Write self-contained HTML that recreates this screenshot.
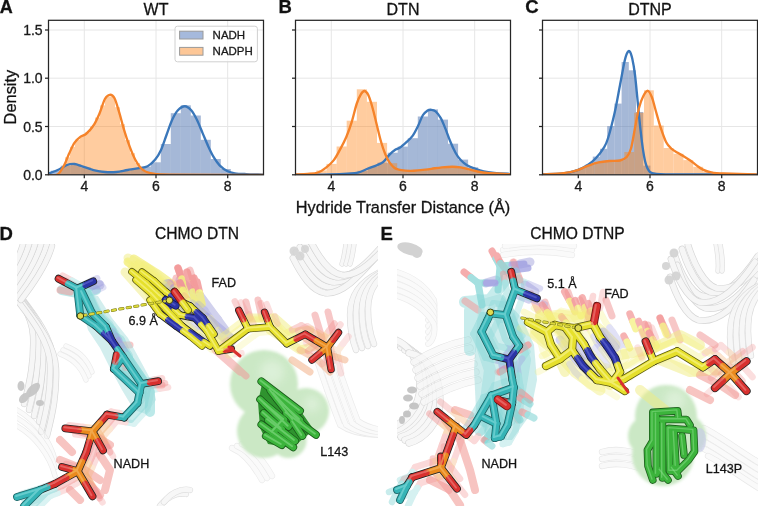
<!DOCTYPE html>
<html><head><meta charset="utf-8"><style>
html,body{margin:0;padding:0;background:#fff;}
body{width:758px;height:506px;overflow:hidden;}
svg{display:block;font-family:"Liberation Sans",sans-serif;will-change:transform;}
svg text{stroke:#1a1a1a;stroke-width:0.3px;}
</style></head><body>
<svg width="758" height="506" viewBox="0 0 758 506">
<defs><clipPath id="cp0"><rect x="48.5" y="20.3" width="215.0" height="154.5"/></clipPath><clipPath id="cp1"><rect x="295.5" y="20.3" width="215.0" height="154.5"/></clipPath><clipPath id="cp2"><rect x="542.5" y="20.3" width="215.0" height="154.5"/></clipPath><filter id="bl2" x="-20%" y="-20%" width="140%" height="140%"><feGaussianBlur stdDeviation="1.5"/></filter><filter id="bl4" x="-50%" y="-50%" width="200%" height="200%"><feGaussianBlur stdDeviation="4"/></filter><clipPath id="cpD"><rect x="17" y="244" width="361" height="262"/></clipPath><clipPath id="cpE"><rect x="397" y="244" width="361" height="262"/></clipPath><filter id="bl1"><feGaussianBlur stdDeviation="0.7"/></filter></defs><g stroke="#e6e6e6" stroke-width="1"><line x1="84.3" y1="20.3" x2="84.3" y2="174.8"/><line x1="156.0" y1="20.3" x2="156.0" y2="174.8"/><line x1="227.7" y1="20.3" x2="227.7" y2="174.8"/><line x1="48.5" y1="126.5" x2="263.5" y2="126.5"/><line x1="48.5" y1="78.2" x2="263.5" y2="78.2"/><line x1="48.5" y1="30.0" x2="263.5" y2="30.0"/></g><g stroke="#e6e6e6" stroke-width="1"><line x1="331.3" y1="20.3" x2="331.3" y2="174.8"/><line x1="403.0" y1="20.3" x2="403.0" y2="174.8"/><line x1="474.7" y1="20.3" x2="474.7" y2="174.8"/><line x1="295.5" y1="126.5" x2="510.5" y2="126.5"/><line x1="295.5" y1="78.2" x2="510.5" y2="78.2"/><line x1="295.5" y1="30.0" x2="510.5" y2="30.0"/></g><g stroke="#e6e6e6" stroke-width="1"><line x1="578.3" y1="20.3" x2="578.3" y2="174.8"/><line x1="650.0" y1="20.3" x2="650.0" y2="174.8"/><line x1="721.7" y1="20.3" x2="721.7" y2="174.8"/><line x1="542.5" y1="126.5" x2="757.5" y2="126.5"/><line x1="542.5" y1="78.2" x2="757.5" y2="78.2"/><line x1="542.5" y1="30.0" x2="757.5" y2="30.0"/></g><g clip-path="url(#cp0)"><g fill="rgba(76,114,176,0.5)"><rect x="50.8" y="170.7" width="10.0" height="4.1"/><rect x="60.8" y="165.7" width="10.0" height="9.1"/><rect x="70.8" y="164.4" width="10.0" height="10.4"/><rect x="80.8" y="167.5" width="10.0" height="7.3"/><rect x="90.8" y="170.5" width="10.0" height="4.3"/><rect x="100.8" y="172.0" width="10.0" height="2.8"/><rect x="110.8" y="172.0" width="10.0" height="2.8"/><rect x="120.8" y="170.3" width="10.0" height="4.5"/><rect x="130.8" y="168.7" width="10.0" height="6.1"/><rect x="140.8" y="166.7" width="10.0" height="8.1"/><rect x="150.8" y="162.3" width="10.0" height="12.5"/><rect x="160.8" y="144.0" width="10.0" height="30.8"/><rect x="170.8" y="113.2" width="10.0" height="61.6"/><rect x="180.8" y="105.3" width="10.0" height="69.5"/><rect x="190.8" y="115.5" width="10.0" height="59.3"/><rect x="200.8" y="139.8" width="10.0" height="35.0"/><rect x="210.8" y="159.0" width="10.0" height="15.8"/><rect x="220.8" y="169.0" width="10.0" height="5.8"/><rect x="230.8" y="173.4" width="10.0" height="1.4"/><rect x="240.8" y="174.1" width="10.0" height="0.7"/></g><g fill="rgba(255,127,14,0.4)"><rect x="60.0" y="167.6" width="5.0" height="7.2"/><rect x="65.0" y="157.3" width="5.0" height="17.5"/><rect x="70.0" y="146.8" width="5.0" height="28.0"/><rect x="75.0" y="139.7" width="5.0" height="35.1"/><rect x="80.0" y="135.8" width="5.0" height="39.0"/><rect x="85.0" y="132.3" width="5.0" height="42.5"/><rect x="90.0" y="126.6" width="5.0" height="48.2"/><rect x="95.0" y="117.6" width="5.0" height="57.2"/><rect x="100.0" y="105.4" width="5.0" height="69.4"/><rect x="105.0" y="96.7" width="5.0" height="78.1"/><rect x="110.0" y="96.7" width="5.0" height="78.1"/><rect x="115.0" y="107.2" width="5.0" height="67.6"/><rect x="120.0" y="124.2" width="5.0" height="50.6"/><rect x="125.0" y="140.1" width="5.0" height="34.7"/><rect x="130.0" y="153.2" width="5.0" height="21.6"/><rect x="135.0" y="163.0" width="5.0" height="11.8"/><rect x="140.0" y="169.2" width="5.0" height="5.6"/><rect x="145.0" y="172.2" width="5.0" height="2.6"/><rect x="150.0" y="173.3" width="5.0" height="1.5"/><rect x="155.0" y="173.9" width="5.0" height="0.9"/><rect x="160.0" y="174.2" width="5.0" height="0.6"/></g><path d="M48.5,173.6 C50.3,172.9 56.3,170.6 59.4,169.2 C62.5,167.8 64.5,165.9 67.0,165.0 C69.5,164.1 72.1,163.8 74.6,164.0 C77.1,164.2 79.0,165.3 82.2,166.3 C85.4,167.3 89.7,169.2 93.5,170.1 C97.3,171.0 101.1,171.7 104.9,172.0 C108.7,172.3 112.5,172.3 116.3,172.0 C120.1,171.7 123.9,170.6 127.7,170.0 C131.5,169.4 135.7,168.8 139.0,168.2 C142.3,167.6 144.9,167.7 147.6,166.3 C150.3,164.9 153.0,162.3 155.2,159.6 C157.4,156.9 159.0,154.3 160.9,150.2 C162.8,146.1 164.6,140.1 166.5,135.0 C168.4,129.9 170.3,123.9 172.2,119.8 C174.1,115.7 175.8,112.6 177.9,110.3 C180.0,108.0 182.7,106.2 184.9,106.2 C187.1,106.2 189.2,108.0 191.2,110.3 C193.2,112.6 195.0,116.0 196.9,119.8 C198.8,123.6 200.7,128.7 202.6,133.1 C204.5,137.5 206.4,142.3 208.3,146.4 C210.2,150.5 212.1,154.5 214.0,157.7 C215.9,160.8 217.4,163.1 219.6,165.3 C221.8,167.5 224.7,169.7 227.2,171.0 C229.7,172.3 231.6,172.8 234.8,173.3 C238.0,173.8 241.5,173.9 246.2,174.1 C250.9,174.3 260.2,174.5 263.0,174.6" fill="none" stroke="#3a77ba" stroke-width="2.35" stroke-linejoin="round" stroke-linecap="round"/><path d="M48.5,175.0 C50.0,174.9 54.9,176.2 57.5,174.6 C60.1,173.0 62.2,168.8 64.1,165.4 C66.0,162.0 67.2,157.8 68.9,154.0 C70.7,150.2 72.7,145.4 74.6,142.6 C76.5,139.8 78.4,138.3 80.3,136.9 C82.2,135.5 83.8,135.9 86.0,134.0 C88.2,132.1 91.3,128.8 93.5,125.5 C95.7,122.2 97.3,118.6 99.2,114.2 C101.1,109.8 103.2,102.2 104.9,99.0 C106.7,95.8 108.1,95.0 109.7,94.8 C111.3,94.6 112.8,95.1 114.4,98.0 C116.0,100.9 117.6,107.1 119.2,112.3 C120.8,117.5 122.2,123.6 123.9,129.3 C125.6,135.0 127.7,141.3 129.6,146.4 C131.5,151.5 133.4,156.1 135.3,159.7 C137.2,163.3 139.1,166.1 141.0,168.2 C142.9,170.2 144.4,171.1 146.7,172.0 C149.0,172.9 151.1,173.4 155.0,173.8 C158.9,174.2 152.0,174.4 170.0,174.6 C188.0,174.8 247.5,174.9 263.0,175.0" fill="none" stroke="#f5832a" stroke-width="2.35" stroke-linejoin="round" stroke-linecap="round"/></g><g clip-path="url(#cp1)"><g fill="rgba(76,114,176,0.5)"><rect x="337.4" y="173.9" width="10.1" height="0.9"/><rect x="347.5" y="173.2" width="10.1" height="1.6"/><rect x="357.5" y="170.8" width="10.1" height="4.0"/><rect x="367.6" y="166.9" width="10.1" height="7.9"/><rect x="377.6" y="162.6" width="10.1" height="12.2"/><rect x="387.7" y="152.7" width="10.1" height="22.1"/><rect x="397.7" y="146.6" width="10.1" height="28.2"/><rect x="407.8" y="138.2" width="10.1" height="36.6"/><rect x="417.8" y="116.5" width="10.1" height="58.3"/><rect x="427.9" y="109.4" width="10.1" height="65.4"/><rect x="437.9" y="119.6" width="10.1" height="55.2"/><rect x="448.0" y="143.7" width="10.1" height="31.1"/><rect x="458.0" y="159.6" width="10.1" height="15.2"/><rect x="468.1" y="167.3" width="10.1" height="7.5"/><rect x="478.1" y="171.3" width="10.1" height="3.5"/><rect x="488.2" y="172.9" width="10.1" height="1.9"/><rect x="498.2" y="173.5" width="10.1" height="1.3"/><rect x="508.3" y="173.8" width="10.1" height="1.0"/></g><g fill="rgba(255,127,14,0.4)"><rect x="306.3" y="173.4" width="10.1" height="1.4"/><rect x="316.4" y="170.4" width="10.1" height="4.4"/><rect x="326.5" y="163.9" width="10.1" height="10.9"/><rect x="336.6" y="146.5" width="10.1" height="28.3"/><rect x="346.7" y="120.7" width="10.1" height="54.1"/><rect x="356.8" y="89.3" width="10.1" height="85.5"/><rect x="366.9" y="101.8" width="10.1" height="73.0"/><rect x="377.0" y="142.9" width="10.1" height="31.9"/><rect x="387.1" y="163.2" width="10.1" height="11.6"/><rect x="397.2" y="170.1" width="10.1" height="4.7"/><rect x="407.3" y="170.8" width="10.1" height="4.0"/><rect x="417.4" y="169.9" width="10.1" height="4.9"/><rect x="427.5" y="168.6" width="10.1" height="6.2"/><rect x="437.6" y="167.3" width="10.1" height="7.5"/><rect x="447.7" y="166.7" width="10.1" height="8.1"/><rect x="457.8" y="167.8" width="10.1" height="7.0"/><rect x="467.9" y="170.4" width="10.1" height="4.4"/><rect x="478.0" y="172.3" width="10.1" height="2.5"/><rect x="488.1" y="173.3" width="10.1" height="1.5"/><rect x="498.2" y="173.8" width="10.1" height="1.0"/><rect x="508.3" y="174.2" width="10.1" height="0.6"/></g><path d="M295.5,174.6 C301.2,174.6 321.4,174.5 330.0,174.3 C338.6,174.2 342.8,174.0 347.4,173.7 C352.0,173.4 354.4,173.6 357.9,172.7 C361.4,171.8 365.2,169.7 368.3,168.5 C371.4,167.3 374.2,166.4 376.7,165.3 C379.1,164.2 380.9,163.9 383.0,162.2 C385.1,160.5 387.2,157.0 389.3,154.9 C391.4,152.8 393.8,150.8 395.6,149.6 C397.4,148.4 398.2,148.7 400.0,147.5 C401.8,146.3 404.2,144.1 406.3,142.2 C408.4,140.3 410.7,138.5 412.6,135.9 C414.5,133.3 416.1,130.0 417.8,126.5 C419.5,123.0 421.4,117.6 423.0,115.0 C424.6,112.4 425.8,111.7 427.2,110.8 C428.6,109.9 430.0,109.7 431.4,109.8 C432.8,109.9 434.0,110.0 435.6,111.4 C437.2,112.8 439.2,115.4 440.8,118.1 C442.4,120.8 443.4,123.8 445.0,127.6 C446.6,131.4 448.4,137.0 450.2,141.2 C451.9,145.4 453.8,149.6 455.5,152.7 C457.2,155.8 458.8,157.9 460.7,160.0 C462.6,162.1 464.6,163.7 467.0,165.2 C469.4,166.7 472.6,167.8 475.4,168.8 C478.2,169.9 480.6,170.8 483.7,171.5 C486.8,172.2 490.0,172.6 494.2,173.0 C498.4,173.4 506.4,173.7 508.9,173.8" fill="none" stroke="#3a77ba" stroke-width="2.35" stroke-linejoin="round" stroke-linecap="round"/><path d="M295.5,174.5 C297.5,174.4 303.9,174.2 307.6,173.9 C311.4,173.6 314.9,173.6 318.0,172.5 C321.1,171.4 323.8,169.5 326.4,167.4 C329.0,165.3 331.5,163.1 333.8,160.1 C336.1,157.1 337.9,153.4 340.0,149.6 C342.1,145.8 344.4,141.5 346.3,137.0 C348.2,132.5 349.9,128.0 351.6,122.4 C353.4,116.8 355.2,108.2 356.8,103.5 C358.4,98.8 359.7,96.2 361.0,94.1 C362.3,92.0 363.4,90.8 364.6,91.0 C365.8,91.2 367.0,92.3 368.3,95.1 C369.6,97.9 371.1,102.8 372.5,107.7 C373.9,112.6 375.3,118.9 376.7,124.5 C378.1,130.1 379.5,136.3 380.9,141.2 C382.3,146.1 383.7,150.3 385.1,153.8 C386.5,157.3 387.7,159.8 389.3,162.2 C390.9,164.6 392.8,166.7 394.5,168.0 C396.2,169.3 397.1,169.3 399.8,169.8 C402.5,170.3 407.0,170.9 410.5,170.9 C414.0,170.9 417.4,170.4 420.9,170.1 C424.4,169.8 427.9,169.3 431.4,168.8 C434.9,168.3 438.4,167.7 441.9,167.3 C445.4,167.0 449.2,166.7 452.3,166.7 C455.4,166.7 457.9,166.9 460.7,167.3 C463.5,167.8 466.3,168.7 469.1,169.4 C471.9,170.1 474.4,170.9 477.5,171.5 C480.6,172.1 483.4,172.6 487.9,173.0 C492.4,173.4 501.0,173.7 504.7,173.9 C508.4,174.1 509.1,174.1 510.0,174.2" fill="none" stroke="#f5832a" stroke-width="2.35" stroke-linejoin="round" stroke-linecap="round"/></g><g clip-path="url(#cp2)"><g fill="rgba(76,114,176,0.5)"><rect x="549.6" y="173.8" width="7.2" height="1.0"/><rect x="556.8" y="173.5" width="7.2" height="1.3"/><rect x="564.0" y="172.6" width="7.2" height="2.2"/><rect x="571.2" y="170.8" width="7.2" height="4.0"/><rect x="578.4" y="167.9" width="7.2" height="6.9"/><rect x="585.6" y="164.4" width="7.2" height="10.4"/><rect x="592.8" y="156.6" width="7.2" height="18.2"/><rect x="600.0" y="148.8" width="7.2" height="26.0"/><rect x="607.2" y="126.1" width="7.2" height="48.7"/><rect x="614.4" y="103.6" width="7.2" height="71.2"/><rect x="621.6" y="62.0" width="7.2" height="112.8"/><rect x="628.8" y="70.3" width="7.2" height="104.5"/><rect x="636.0" y="112.0" width="7.2" height="62.8"/><rect x="643.2" y="165.6" width="7.2" height="9.2"/><rect x="650.4" y="173.1" width="7.2" height="1.7"/><rect x="657.6" y="174.0" width="7.2" height="0.8"/><rect x="664.8" y="174.1" width="7.2" height="0.7"/></g><g fill="rgba(255,127,14,0.4)"><rect x="545.5" y="173.9" width="9.8" height="0.9"/><rect x="555.4" y="173.4" width="9.8" height="1.4"/><rect x="565.2" y="171.8" width="9.8" height="3.0"/><rect x="575.1" y="169.1" width="9.8" height="5.7"/><rect x="584.9" y="165.2" width="9.8" height="9.6"/><rect x="594.8" y="162.2" width="9.8" height="12.6"/><rect x="604.6" y="161.0" width="9.8" height="13.8"/><rect x="614.5" y="160.5" width="9.8" height="14.3"/><rect x="624.3" y="152.0" width="9.8" height="22.8"/><rect x="634.2" y="112.7" width="9.8" height="62.1"/><rect x="644.0" y="90.3" width="9.8" height="84.5"/><rect x="653.9" y="125.5" width="9.8" height="49.3"/><rect x="663.7" y="148.0" width="9.8" height="26.8"/><rect x="673.6" y="153.8" width="9.8" height="21.0"/><rect x="683.4" y="160.1" width="9.8" height="14.7"/><rect x="693.3" y="166.8" width="9.8" height="8.0"/><rect x="703.1" y="171.7" width="9.8" height="3.1"/><rect x="713.0" y="172.9" width="9.8" height="1.9"/><rect x="722.8" y="173.6" width="9.8" height="1.2"/><rect x="732.7" y="173.9" width="9.8" height="0.9"/><rect x="742.5" y="174.2" width="9.8" height="0.6"/></g><path d="M542.5,174.2 C546.0,174.1 557.8,174.0 563.5,173.4 C569.2,172.8 573.0,171.8 577.0,170.4 C581.0,169.0 584.6,167.1 587.7,165.1 C590.8,163.1 593.1,161.2 595.8,158.3 C598.5,155.4 601.8,151.0 603.9,147.6 C606.0,144.2 606.3,143.9 608.1,138.0 C609.9,132.1 612.8,121.0 614.8,112.0 C616.8,103.0 618.6,92.2 620.2,84.0 C621.8,75.8 623.1,68.1 624.2,63.0 C625.3,57.9 626.0,55.5 626.9,53.5 C627.8,51.5 628.7,50.4 629.6,51.3 C630.5,52.2 631.4,54.8 632.3,58.8 C633.2,62.8 634.1,67.8 635.0,75.0 C635.9,82.2 636.8,92.9 637.7,101.9 C638.6,110.9 639.5,120.8 640.4,128.9 C641.3,137.0 642.2,144.6 643.1,150.4 C644.0,156.2 644.7,160.3 645.8,163.9 C646.9,167.5 648.0,170.2 649.8,171.9 C651.6,173.6 651.5,173.4 656.5,173.8 C661.5,174.2 663.2,174.3 680.0,174.4 C696.8,174.5 744.2,174.6 757.0,174.6" fill="none" stroke="#3a77ba" stroke-width="2.35" stroke-linejoin="round" stroke-linecap="round"/><path d="M542.5,174.3 C546.0,174.1 557.8,173.8 563.5,173.2 C569.2,172.5 573.0,171.6 577.0,170.4 C581.0,169.2 584.1,167.2 587.7,165.9 C591.3,164.6 594.9,163.2 598.5,162.4 C602.1,161.6 605.6,161.3 609.2,161.0 C612.8,160.7 617.1,161.2 620.0,160.5 C622.9,159.8 624.9,159.0 626.7,157.0 C628.5,155.0 629.6,153.3 631.0,148.5 C632.4,143.7 633.7,134.8 635.0,128.0 C636.3,121.2 637.6,113.2 639.0,108.0 C640.4,102.8 641.6,99.4 643.1,96.5 C644.6,93.6 646.4,90.6 647.9,90.8 C649.4,91.0 650.7,94.2 652.0,97.5 C653.3,100.8 654.2,105.3 655.7,110.5 C657.2,115.7 659.2,123.4 661.0,128.7 C662.8,134.0 664.5,139.0 666.2,142.3 C667.9,145.6 669.5,146.8 671.4,148.6 C673.3,150.3 675.6,151.5 677.7,152.8 C679.8,154.1 681.9,155.1 684.0,156.4 C686.1,157.7 688.2,159.0 690.3,160.5 C692.4,162.0 694.5,163.9 696.6,165.4 C698.7,166.9 700.5,168.4 702.9,169.6 C705.3,170.8 707.8,171.7 711.3,172.3 C714.8,173.0 716.3,173.2 723.8,173.5 C731.2,173.8 750.6,174.2 756.0,174.4" fill="none" stroke="#f5832a" stroke-width="2.35" stroke-linejoin="round" stroke-linecap="round"/></g><rect x="48.5" y="20.3" width="215.0" height="154.5" fill="none" stroke="#262626" stroke-width="1.25"/><g stroke="#262626" stroke-width="1.25"><line x1="45.0" y1="174.8" x2="48.5" y2="174.8"/><line x1="45.0" y1="126.5" x2="48.5" y2="126.5"/><line x1="45.0" y1="78.2" x2="48.5" y2="78.2"/><line x1="45.0" y1="30.0" x2="48.5" y2="30.0"/><line x1="84.3" y1="174.8" x2="84.3" y2="178.3"/><line x1="156.0" y1="174.8" x2="156.0" y2="178.3"/><line x1="227.7" y1="174.8" x2="227.7" y2="178.3"/></g><g font-size="14" fill="#1a1a1a"><text x="84.3" y="191.1" text-anchor="middle">4</text><text x="156.0" y="191.1" text-anchor="middle">6</text><text x="227.7" y="191.1" text-anchor="middle">8</text><text x="42.6" y="179.9" text-anchor="end">0.0</text><text x="42.6" y="131.6" text-anchor="end">0.5</text><text x="42.6" y="83.3" text-anchor="end">1.0</text><text x="42.6" y="35.1" text-anchor="end">1.5</text></g><rect x="295.5" y="20.3" width="215.0" height="154.5" fill="none" stroke="#262626" stroke-width="1.25"/><g stroke="#262626" stroke-width="1.25"><line x1="292.0" y1="174.8" x2="295.5" y2="174.8"/><line x1="292.0" y1="126.5" x2="295.5" y2="126.5"/><line x1="292.0" y1="78.2" x2="295.5" y2="78.2"/><line x1="292.0" y1="30.0" x2="295.5" y2="30.0"/><line x1="331.3" y1="174.8" x2="331.3" y2="178.3"/><line x1="403.0" y1="174.8" x2="403.0" y2="178.3"/><line x1="474.7" y1="174.8" x2="474.7" y2="178.3"/></g><g font-size="14" fill="#1a1a1a"><text x="331.3" y="191.1" text-anchor="middle">4</text><text x="403.0" y="191.1" text-anchor="middle">6</text><text x="474.7" y="191.1" text-anchor="middle">8</text></g><rect x="542.5" y="20.3" width="215.0" height="154.5" fill="none" stroke="#262626" stroke-width="1.25"/><g stroke="#262626" stroke-width="1.25"><line x1="539.0" y1="174.8" x2="542.5" y2="174.8"/><line x1="539.0" y1="126.5" x2="542.5" y2="126.5"/><line x1="539.0" y1="78.2" x2="542.5" y2="78.2"/><line x1="539.0" y1="30.0" x2="542.5" y2="30.0"/><line x1="578.3" y1="174.8" x2="578.3" y2="178.3"/><line x1="650.0" y1="174.8" x2="650.0" y2="178.3"/><line x1="721.7" y1="174.8" x2="721.7" y2="178.3"/></g><g font-size="14" fill="#1a1a1a"><text x="578.3" y="191.1" text-anchor="middle">4</text><text x="650.0" y="191.1" text-anchor="middle">6</text><text x="721.7" y="191.1" text-anchor="middle">8</text></g><g>
<rect x="175" y="26.2" width="82.4" height="35.6" rx="2.5" fill="rgba(255,255,255,0.8)" stroke="#d0d0d0" stroke-width="1"/>
<rect x="179.6" y="31.2" width="23.4" height="7.8" fill="#a5b9dc" stroke="#9a9a9a" stroke-width="1"/>
<rect x="179.6" y="47.4" width="23.4" height="7.8" fill="#fdc797" stroke="#9a9a9a" stroke-width="1"/>
<text x="212.6" y="39.1" font-size="11.5" fill="#1a1a1a">NADH</text>
<text x="212.6" y="55.3" font-size="11.5" fill="#1a1a1a">NADPH</text>
</g><g fill="#111">
<text x="156" y="14.8" font-size="16" text-anchor="middle">WT</text>
<text x="403" y="14.8" font-size="16" text-anchor="middle">DTN</text>
<text x="650" y="14.8" font-size="16" text-anchor="middle">DTNP</text>
<text x="-0.3" y="12.9" font-size="18" font-weight="bold">A</text>
<text x="278.4" y="12.9" font-size="18.5" font-weight="bold">B</text>
<text x="525.2" y="12.9" font-size="18.5" font-weight="bold">C</text>
<text x="403" y="212.6" font-size="16.3" text-anchor="middle">Hydride Transfer Distance (Å)</text>
<text transform="translate(16.1,97.1) rotate(-90)" font-size="16.4" text-anchor="middle">Density</text>
</g><g><g clip-path="url(#cpD)"><g fill="none" stroke-linecap="round" opacity="1.00"><path transform="translate(0.0 0.0)" d="M17,292 C32,312 52,336 53,360 C54,385 50,405 44,428" stroke="#d6d6d6" stroke-width="6.3"/><path transform="translate(0.0 0.0)" d="M17,292 C32,312 52,336 53,360 C54,385 50,405 44,428" stroke="#f6f6f6" stroke-width="5.0"/><path transform="translate(-5.0 -6.0)" d="M17,292 C32,312 52,336 53,360 C54,385 50,405 44,428" stroke="#d6d6d6" stroke-width="6.3"/><path transform="translate(-5.0 -6.0)" d="M17,292 C32,312 52,336 53,360 C54,385 50,405 44,428" stroke="#f6f6f6" stroke-width="5.0"/><path transform="translate(-10.0 -12.0)" d="M17,292 C32,312 52,336 53,360 C54,385 50,405 44,428" stroke="#d6d6d6" stroke-width="6.3"/><path transform="translate(-10.0 -12.0)" d="M17,292 C32,312 52,336 53,360 C54,385 50,405 44,428" stroke="#f6f6f6" stroke-width="5.0"/><path transform="translate(-15.0 -18.0)" d="M17,292 C32,312 52,336 53,360 C54,385 50,405 44,428" stroke="#d6d6d6" stroke-width="6.3"/><path transform="translate(-15.0 -18.0)" d="M17,292 C32,312 52,336 53,360 C54,385 50,405 44,428" stroke="#f6f6f6" stroke-width="5.0"/><path transform="translate(-20.0 -24.0)" d="M17,292 C32,312 52,336 53,360 C54,385 50,405 44,428" stroke="#d6d6d6" stroke-width="6.3"/><path transform="translate(-20.0 -24.0)" d="M17,292 C32,312 52,336 53,360 C54,385 50,405 44,428" stroke="#f6f6f6" stroke-width="5.0"/><path transform="translate(3.0 8.0)" d="M17,292 C32,312 52,336 53,360 C54,385 50,405 44,428" stroke="#d6d6d6" stroke-width="6.3"/><path transform="translate(3.0 8.0)" d="M17,292 C32,312 52,336 53,360 C54,385 50,405 44,428" stroke="#f6f6f6" stroke-width="5.0"/><path transform="translate(-3.0 4.0)" d="M17,292 C32,312 52,336 53,360 C54,385 50,405 44,428" stroke="#d6d6d6" stroke-width="6.3"/><path transform="translate(-3.0 4.0)" d="M17,292 C32,312 52,336 53,360 C54,385 50,405 44,428" stroke="#f6f6f6" stroke-width="5.0"/></g><g fill="none" stroke-linecap="round" opacity="1.00"><path transform="translate(0.0 0.0)" d="M47,244 C42,262 30,280 16,298" stroke="#d6d6d6" stroke-width="6.3"/><path transform="translate(0.0 0.0)" d="M47,244 C42,262 30,280 16,298" stroke="#f6f6f6" stroke-width="5.0"/><path transform="translate(-6.0 0.0)" d="M47,244 C42,262 30,280 16,298" stroke="#d6d6d6" stroke-width="6.3"/><path transform="translate(-6.0 0.0)" d="M47,244 C42,262 30,280 16,298" stroke="#f6f6f6" stroke-width="5.0"/><path transform="translate(-12.0 0.0)" d="M47,244 C42,262 30,280 16,298" stroke="#d6d6d6" stroke-width="6.3"/><path transform="translate(-12.0 0.0)" d="M47,244 C42,262 30,280 16,298" stroke="#f6f6f6" stroke-width="5.0"/><path transform="translate(-18.0 0.0)" d="M47,244 C42,262 30,280 16,298" stroke="#d6d6d6" stroke-width="6.3"/><path transform="translate(-18.0 0.0)" d="M47,244 C42,262 30,280 16,298" stroke="#f6f6f6" stroke-width="5.0"/><path transform="translate(-24.0 0.0)" d="M47,244 C42,262 30,280 16,298" stroke="#d6d6d6" stroke-width="6.3"/><path transform="translate(-24.0 0.0)" d="M47,244 C42,262 30,280 16,298" stroke="#f6f6f6" stroke-width="5.0"/><path transform="translate(5.0 2.0)" d="M47,244 C42,262 30,280 16,298" stroke="#d6d6d6" stroke-width="6.3"/><path transform="translate(5.0 2.0)" d="M47,244 C42,262 30,280 16,298" stroke="#f6f6f6" stroke-width="5.0"/></g><g fill="none" stroke-linecap="round" opacity="0.50"><path transform="translate(0.0 0.0)" d="M66,346 C76,350 86,356 92,372" stroke="#d6d6d6" stroke-width="5.3"/><path transform="translate(0.0 0.0)" d="M66,346 C76,350 86,356 92,372" stroke="#f6f6f6" stroke-width="4.0"/><path transform="translate(-3.0 4.0)" d="M66,346 C76,350 86,356 92,372" stroke="#d6d6d6" stroke-width="5.3"/><path transform="translate(-3.0 4.0)" d="M66,346 C76,350 86,356 92,372" stroke="#f6f6f6" stroke-width="4.0"/><path transform="translate(-6.0 8.0)" d="M66,346 C76,350 86,356 92,372" stroke="#d6d6d6" stroke-width="5.3"/><path transform="translate(-6.0 8.0)" d="M66,346 C76,350 86,356 92,372" stroke="#f6f6f6" stroke-width="4.0"/></g><g fill="none" stroke-linecap="round" opacity="0.55"><path transform="translate(0.0 0.0)" d="M17,410 C35,420 50,440 55,460" stroke="#d6d6d6" stroke-width="5.3"/><path transform="translate(0.0 0.0)" d="M17,410 C35,420 50,440 55,460" stroke="#f6f6f6" stroke-width="4.0"/><path transform="translate(0.0 8.0)" d="M17,410 C35,420 50,440 55,460" stroke="#d6d6d6" stroke-width="5.3"/><path transform="translate(0.0 8.0)" d="M17,410 C35,420 50,440 55,460" stroke="#f6f6f6" stroke-width="4.0"/><path transform="translate(0.0 16.0)" d="M17,410 C35,420 50,440 55,460" stroke="#d6d6d6" stroke-width="5.3"/><path transform="translate(0.0 16.0)" d="M17,410 C35,420 50,440 55,460" stroke="#f6f6f6" stroke-width="4.0"/></g><g fill="none" stroke-linecap="round" opacity="1.00"><path transform="translate(0.0 0.0)" d="M296,252 C305,270 315,285 328,287 C345,289 362,270 378,252" stroke="#d6d6d6" stroke-width="6.8"/><path transform="translate(0.0 0.0)" d="M296,252 C305,270 315,285 328,287 C345,289 362,270 378,252" stroke="#f6f6f6" stroke-width="5.5"/><path transform="translate(4.0 -5.0)" d="M296,252 C305,270 315,285 328,287 C345,289 362,270 378,252" stroke="#d6d6d6" stroke-width="6.8"/><path transform="translate(4.0 -5.0)" d="M296,252 C305,270 315,285 328,287 C345,289 362,270 378,252" stroke="#f6f6f6" stroke-width="5.5"/><path transform="translate(8.0 -10.0)" d="M296,252 C305,270 315,285 328,287 C345,289 362,270 378,252" stroke="#d6d6d6" stroke-width="6.8"/><path transform="translate(8.0 -10.0)" d="M296,252 C305,270 315,285 328,287 C345,289 362,270 378,252" stroke="#f6f6f6" stroke-width="5.5"/><path transform="translate(-3.0 6.0)" d="M296,252 C305,270 315,285 328,287 C345,289 362,270 378,252" stroke="#d6d6d6" stroke-width="6.8"/><path transform="translate(-3.0 6.0)" d="M296,252 C305,270 315,285 328,287 C345,289 362,270 378,252" stroke="#f6f6f6" stroke-width="5.5"/><path transform="translate(14.0 -12.0)" d="M296,252 C305,270 315,285 328,287 C345,289 362,270 378,252" stroke="#d6d6d6" stroke-width="6.8"/><path transform="translate(14.0 -12.0)" d="M296,252 C305,270 315,285 328,287 C345,289 362,270 378,252" stroke="#f6f6f6" stroke-width="5.5"/></g><g fill="none" stroke-linecap="round" opacity="0.80"><path transform="translate(0.0 0.0)" d="M346,244 C345,252 344,258 342,264" stroke="#d6d6d6" stroke-width="5.3"/><path transform="translate(0.0 0.0)" d="M346,244 C345,252 344,258 342,264" stroke="#f6f6f6" stroke-width="4.0"/><path transform="translate(4.0 0.0)" d="M346,244 C345,252 344,258 342,264" stroke="#d6d6d6" stroke-width="5.3"/><path transform="translate(4.0 0.0)" d="M346,244 C345,252 344,258 342,264" stroke="#f6f6f6" stroke-width="4.0"/><path transform="translate(8.0 0.0)" d="M346,244 C345,252 344,258 342,264" stroke="#d6d6d6" stroke-width="5.3"/><path transform="translate(8.0 0.0)" d="M346,244 C345,252 344,258 342,264" stroke="#f6f6f6" stroke-width="4.0"/></g><g fill="none" stroke-linecap="round" opacity="0.85"><path transform="translate(0.0 0.0)" d="M380,272 C360,282 350,295 350,315 C350,330 352,340 356,350" stroke="#d6d6d6" stroke-width="6.3"/><path transform="translate(0.0 0.0)" d="M380,272 C360,282 350,295 350,315 C350,330 352,340 356,350" stroke="#f6f6f6" stroke-width="5.0"/><path transform="translate(6.0 -2.0)" d="M380,272 C360,282 350,295 350,315 C350,330 352,340 356,350" stroke="#d6d6d6" stroke-width="6.3"/><path transform="translate(6.0 -2.0)" d="M380,272 C360,282 350,295 350,315 C350,330 352,340 356,350" stroke="#f6f6f6" stroke-width="5.0"/><path transform="translate(12.0 -4.0)" d="M380,272 C360,282 350,295 350,315 C350,330 352,340 356,350" stroke="#d6d6d6" stroke-width="6.3"/><path transform="translate(12.0 -4.0)" d="M380,272 C360,282 350,295 350,315 C350,330 352,340 356,350" stroke="#f6f6f6" stroke-width="5.0"/><path transform="translate(18.0 -6.0)" d="M380,272 C360,282 350,295 350,315 C350,330 352,340 356,350" stroke="#d6d6d6" stroke-width="6.3"/><path transform="translate(18.0 -6.0)" d="M380,272 C360,282 350,295 350,315 C350,330 352,340 356,350" stroke="#f6f6f6" stroke-width="5.0"/></g><g fill="none" stroke-linecap="round" opacity="0.50"><path transform="translate(0.0 0.0)" d="M316,358 C322,375 330,400 340,425 C350,432 365,435 380,435" stroke="#d6d6d6" stroke-width="5.8"/><path transform="translate(0.0 0.0)" d="M316,358 C322,375 330,400 340,425 C350,432 365,435 380,435" stroke="#f6f6f6" stroke-width="4.5"/><path transform="translate(6.0 0.0)" d="M316,358 C322,375 330,400 340,425 C350,432 365,435 380,435" stroke="#d6d6d6" stroke-width="5.8"/><path transform="translate(6.0 0.0)" d="M316,358 C322,375 330,400 340,425 C350,432 365,435 380,435" stroke="#f6f6f6" stroke-width="4.5"/><path transform="translate(12.0 -2.0)" d="M316,358 C322,375 330,400 340,425 C350,432 365,435 380,435" stroke="#d6d6d6" stroke-width="5.8"/><path transform="translate(12.0 -2.0)" d="M316,358 C322,375 330,400 340,425 C350,432 365,435 380,435" stroke="#f6f6f6" stroke-width="4.5"/><path transform="translate(18.0 -4.0)" d="M316,358 C322,375 330,400 340,425 C350,432 365,435 380,435" stroke="#d6d6d6" stroke-width="5.8"/><path transform="translate(18.0 -4.0)" d="M316,358 C322,375 330,400 340,425 C350,432 365,435 380,435" stroke="#f6f6f6" stroke-width="4.5"/></g><g fill="none" stroke-linecap="round" opacity="0.50"><path transform="translate(0.0 0.0)" d="M232,448 C242,452 252,462 262,480" stroke="#d6d6d6" stroke-width="6.3"/><path transform="translate(0.0 0.0)" d="M232,448 C242,452 252,462 262,480" stroke="#f6f6f6" stroke-width="5.0"/><path transform="translate(5.0 -2.0)" d="M232,448 C242,452 252,462 262,480" stroke="#d6d6d6" stroke-width="6.3"/><path transform="translate(5.0 -2.0)" d="M232,448 C242,452 252,462 262,480" stroke="#f6f6f6" stroke-width="5.0"/><path transform="translate(10.0 -4.0)" d="M232,448 C242,452 252,462 262,480" stroke="#d6d6d6" stroke-width="6.3"/><path transform="translate(10.0 -4.0)" d="M232,448 C242,452 252,462 262,480" stroke="#f6f6f6" stroke-width="5.0"/></g><g fill="none" stroke-linecap="round" opacity="0.80"><path transform="translate(0.0 0.0)" d="M160,506 C166,498 176,492 186,494" stroke="#d6d6d6" stroke-width="6.3"/><path transform="translate(0.0 0.0)" d="M160,506 C166,498 176,492 186,494" stroke="#f6f6f6" stroke-width="5.0"/><path transform="translate(4.0 -4.0)" d="M160,506 C166,498 176,492 186,494" stroke="#d6d6d6" stroke-width="6.3"/><path transform="translate(4.0 -4.0)" d="M160,506 C166,498 176,492 186,494" stroke="#f6f6f6" stroke-width="5.0"/></g></g><g fill="#c4c4c4" opacity="0.9" filter="url(#bl1)"><ellipse cx="33" cy="390" rx="9" ry="4.5" transform="rotate(-45 33 390)"/><ellipse cx="24" cy="398" rx="6" ry="4" transform="rotate(-45 24 398)"/><ellipse cx="21" cy="386" rx="3.5" ry="5"/><ellipse cx="40" cy="403" rx="4" ry="3"/></g><g fill="#d4d4d4" opacity="0.9" filter="url(#bl1)"><circle cx="294" cy="251" r="4.5"/><circle cx="300" cy="256" r="4.5"/><circle cx="305" cy="249" r="4"/></g><g fill="#cbe8c5" filter="url(#bl2)"><circle cx="264" cy="384" r="34"/><circle cx="306" cy="411" r="23"/><circle cx="264" cy="431" r="27"/><circle cx="288.6" cy="440" r="18"/><circle cx="285" cy="410" r="22"/></g><g fill="#e0f2dd" opacity="0.8" filter="url(#bl4)"><circle cx="272" cy="372" r="12"/><circle cx="312" cy="404" r="8"/></g><g fill="none" stroke="#8fdada" stroke-width="10.0" stroke-linecap="round" stroke-linejoin="round" opacity="0.60"><polyline points="62.0,290.0 78.0,293.0 96.0,290.0"/><polyline points="86.0,300.0 96.0,322.0 116.0,338.0 128.0,356.0"/><polyline points="100.0,328.0 120.0,340.0 132.0,368.0 150.0,392.0 150.0,412.0"/><polyline points="84.0,296.0 90.0,318.0 106.0,332.0"/></g><g fill="none" stroke="#9a9ad8" stroke-width="9.0" stroke-linecap="round" stroke-linejoin="round" opacity="0.45"><polyline points="92.0,285.0 100.0,285.0"/><polyline points="110.0,332.0 118.0,340.0"/><polyline points="180.0,280.0 200.0,300.0 218.0,320.0"/><polyline points="200.0,296.0 225.0,330.0"/></g><g fill="none" stroke="#f19a9a" stroke-width="7.0" stroke-linecap="round" stroke-linejoin="round" opacity="0.55"><polyline points="60.0,290.0 70.0,292.0"/><polyline points="122.0,345.0 130.0,345.0"/><polyline points="150.0,385.0 162.0,385.0"/><polyline points="178.0,268.0 184.0,288.0"/><polyline points="190.0,270.0 196.0,290.0"/><polyline points="176.0,278.0 172.0,296.0"/><polyline points="246.0,302.0 250.0,318.0"/><polyline points="258.0,300.0 262.0,318.0"/><polyline points="315.0,315.0 322.0,338.0"/><polyline points="328.0,312.0 334.0,336.0"/><polyline points="215.0,350.0 240.0,372.0"/><polyline points="220.0,352.0 246.0,376.0"/></g><g fill="none" stroke="#f0ec80" stroke-width="9.0" stroke-linecap="round" stroke-linejoin="round" opacity="0.50"><polyline points="128.0,258.0 150.0,270.0 170.0,292.0"/><polyline points="132.0,268.0 160.0,290.0 180.0,310.0"/><polyline points="125.0,272.0 150.0,300.0 170.0,318.0"/><polyline points="250.0,318.0 275.0,318.0 292.0,333.0 310.0,330.0"/><polyline points="270.0,330.0 300.0,350.0 320.0,345.0"/></g><g fill="none" stroke="#f08a84" stroke-width="8.0" stroke-linecap="round" stroke-linejoin="round" opacity="0.50"><polyline points="75.0,430.0 95.0,436.0 110.0,445.0"/><polyline points="60.0,460.0 85.0,470.0 100.0,480.0"/><polyline points="85.0,480.0 100.0,495.0"/><polyline points="60.0,440.0 72.0,452.0"/><polyline points="100.0,455.0 110.0,470.0 105.0,490.0"/><polyline points="70.0,490.0 80.0,500.0"/></g><g fill="none" stroke="#f0a070" stroke-width="7.0" stroke-linecap="round" stroke-linejoin="round" opacity="0.45"><polyline points="300.0,350.0 318.0,360.0 330.0,372.0"/><polyline points="292.0,360.0 310.0,372.0"/><polyline points="305.0,338.0 330.0,355.0 345.0,360.0"/></g><polygon points="84,292 98,296 112,318 128,338 140,360 152,382 156,400 146,414 134,410 122,390 110,368 100,348 88,330 82,308" fill="#a6dede" opacity="0.5" filter="url(#bl1)"/><g stroke-linecap="round" opacity="0.45"><line x1="65.6" y1="280.7" x2="74.9" y2="285.6" stroke="#f29292" stroke-width="6.5"/><line x1="74.9" y1="285.6" x2="84.2" y2="290.6" stroke="#86d6d6" stroke-width="6.5"/><line x1="84.2" y1="290.6" x2="92.2" y2="287.0" stroke="#86d6d6" stroke-width="6.5"/><line x1="92.2" y1="287.0" x2="100.2" y2="283.3" stroke="#9c9ce0" stroke-width="6.5"/><line x1="84.2" y1="290.6" x2="87.2" y2="317.2" stroke="#86d6d6" stroke-width="6.5"/><line x1="87.2" y1="317.2" x2="103.0" y2="328.0" stroke="#86d6d6" stroke-width="6.5"/><line x1="103.0" y1="328.0" x2="111.0" y2="335.5" stroke="#86d6d6" stroke-width="6.5"/><line x1="111.0" y1="335.5" x2="119.0" y2="343.0" stroke="#9c9ce0" stroke-width="6.5"/><line x1="119.0" y1="343.0" x2="124.5" y2="351.0" stroke="#9c9ce0" stroke-width="6.5"/><line x1="124.5" y1="351.0" x2="130.0" y2="359.0" stroke="#86d6d6" stroke-width="6.5"/><line x1="130.0" y1="359.0" x2="121.0" y2="371.0" stroke="#86d6d6" stroke-width="6.5"/><line x1="121.0" y1="371.0" x2="146.4" y2="395.0" stroke="#86d6d6" stroke-width="6.5"/><line x1="146.4" y1="395.0" x2="144.4" y2="405.0" stroke="#86d6d6" stroke-width="6.5"/><line x1="144.4" y1="405.0" x2="131.0" y2="419.5" stroke="#86d6d6" stroke-width="6.5"/><line x1="131.0" y1="419.5" x2="122.5" y2="418.1" stroke="#86d6d6" stroke-width="6.5"/><line x1="122.5" y1="418.1" x2="114.1" y2="416.7" stroke="#f29292" stroke-width="6.5"/><line x1="114.1" y1="416.7" x2="106.8" y2="425.0" stroke="#f29292" stroke-width="6.5"/><line x1="106.8" y1="425.0" x2="99.5" y2="433.4" stroke="#f4b070" stroke-width="6.5"/><line x1="99.5" y1="433.4" x2="96.3" y2="443.9" stroke="#f4b070" stroke-width="6.5"/><line x1="96.3" y1="443.9" x2="93.2" y2="454.4" stroke="#f29292" stroke-width="6.5"/><line x1="93.2" y1="454.4" x2="89.0" y2="463.8" stroke="#f29292" stroke-width="6.5"/><line x1="89.0" y1="463.8" x2="84.8" y2="473.2" stroke="#f4b070" stroke-width="6.5"/><line x1="84.8" y1="473.2" x2="73.4" y2="479.5" stroke="#f4b070" stroke-width="6.5"/><line x1="73.4" y1="479.5" x2="62.0" y2="485.8" stroke="#f29292" stroke-width="6.5"/><line x1="62.0" y1="485.8" x2="54.5" y2="488.9" stroke="#f29292" stroke-width="6.5"/><line x1="54.5" y1="488.9" x2="47.0" y2="492.0" stroke="#86d6d6" stroke-width="6.5"/><line x1="47.0" y1="492.0" x2="24.0" y2="499.0" stroke="#86d6d6" stroke-width="6.5"/><line x1="89.0" y1="294.0" x2="99.0" y2="315.0" stroke="#86d6d6" stroke-width="6.5"/><line x1="99.0" y1="315.0" x2="113.0" y2="329.0" stroke="#86d6d6" stroke-width="6.5"/><line x1="113.0" y1="329.0" x2="116.0" y2="336.0" stroke="#86d6d6" stroke-width="6.5"/><line x1="116.0" y1="336.0" x2="119.0" y2="343.0" stroke="#9c9ce0" stroke-width="6.5"/><line x1="130.0" y1="359.0" x2="148.4" y2="386.0" stroke="#86d6d6" stroke-width="6.5"/><line x1="148.4" y1="386.0" x2="156.8" y2="384.6" stroke="#86d6d6" stroke-width="6.5"/><line x1="156.8" y1="384.6" x2="165.1" y2="383.2" stroke="#f29292" stroke-width="6.5"/><line x1="148.4" y1="386.0" x2="146.4" y2="395.0" stroke="#86d6d6" stroke-width="6.5"/><line x1="121.0" y1="371.0" x2="122.3" y2="363.8" stroke="#86d6d6" stroke-width="6.5"/><line x1="122.3" y1="363.8" x2="123.7" y2="356.6" stroke="#f29292" stroke-width="6.5"/><line x1="99.5" y1="433.4" x2="85.9" y2="431.9" stroke="#f4b070" stroke-width="6.5"/><line x1="85.9" y1="431.9" x2="72.3" y2="430.3" stroke="#f29292" stroke-width="6.5"/><line x1="99.5" y1="433.4" x2="104.8" y2="442.9" stroke="#f4b070" stroke-width="6.5"/><line x1="104.8" y1="442.9" x2="110.0" y2="452.3" stroke="#f29292" stroke-width="6.5"/><line x1="84.8" y1="473.2" x2="76.9" y2="471.1" stroke="#f4b070" stroke-width="6.5"/><line x1="76.9" y1="471.1" x2="69.0" y2="469.0" stroke="#f29292" stroke-width="6.5"/><line x1="84.8" y1="473.2" x2="92.2" y2="485.8" stroke="#f4b070" stroke-width="6.5"/><line x1="92.2" y1="485.8" x2="99.5" y2="498.3" stroke="#f29292" stroke-width="6.5"/><line x1="47.0" y1="492.0" x2="31.0" y2="508.0" stroke="#86d6d6" stroke-width="6.5"/></g><g stroke-linecap="round" opacity="0.35"><line x1="62.6" y1="275.7" x2="71.9" y2="280.6" stroke="#f29292" stroke-width="6.5"/><line x1="71.9" y1="280.6" x2="81.2" y2="285.6" stroke="#86d6d6" stroke-width="6.5"/><line x1="81.2" y1="285.6" x2="89.2" y2="282.0" stroke="#86d6d6" stroke-width="6.5"/><line x1="89.2" y1="282.0" x2="97.2" y2="278.3" stroke="#9c9ce0" stroke-width="6.5"/><line x1="81.2" y1="285.6" x2="84.2" y2="312.2" stroke="#86d6d6" stroke-width="6.5"/><line x1="84.2" y1="312.2" x2="100.0" y2="323.0" stroke="#86d6d6" stroke-width="6.5"/><line x1="100.0" y1="323.0" x2="108.0" y2="330.5" stroke="#86d6d6" stroke-width="6.5"/><line x1="108.0" y1="330.5" x2="116.0" y2="338.0" stroke="#9c9ce0" stroke-width="6.5"/><line x1="116.0" y1="338.0" x2="121.5" y2="346.0" stroke="#9c9ce0" stroke-width="6.5"/><line x1="121.5" y1="346.0" x2="127.0" y2="354.0" stroke="#86d6d6" stroke-width="6.5"/><line x1="127.0" y1="354.0" x2="118.0" y2="366.0" stroke="#86d6d6" stroke-width="6.5"/><line x1="118.0" y1="366.0" x2="143.4" y2="390.0" stroke="#86d6d6" stroke-width="6.5"/><line x1="143.4" y1="390.0" x2="141.4" y2="400.0" stroke="#86d6d6" stroke-width="6.5"/><line x1="141.4" y1="400.0" x2="128.0" y2="414.5" stroke="#86d6d6" stroke-width="6.5"/><line x1="128.0" y1="414.5" x2="119.5" y2="413.1" stroke="#86d6d6" stroke-width="6.5"/><line x1="119.5" y1="413.1" x2="111.1" y2="411.7" stroke="#f29292" stroke-width="6.5"/><line x1="111.1" y1="411.7" x2="103.8" y2="420.0" stroke="#f29292" stroke-width="6.5"/><line x1="103.8" y1="420.0" x2="96.5" y2="428.4" stroke="#f4b070" stroke-width="6.5"/><line x1="96.5" y1="428.4" x2="93.3" y2="438.9" stroke="#f4b070" stroke-width="6.5"/><line x1="93.3" y1="438.9" x2="90.2" y2="449.4" stroke="#f29292" stroke-width="6.5"/><line x1="90.2" y1="449.4" x2="86.0" y2="458.8" stroke="#f29292" stroke-width="6.5"/><line x1="86.0" y1="458.8" x2="81.8" y2="468.2" stroke="#f4b070" stroke-width="6.5"/><line x1="81.8" y1="468.2" x2="70.4" y2="474.5" stroke="#f4b070" stroke-width="6.5"/><line x1="70.4" y1="474.5" x2="59.0" y2="480.8" stroke="#f29292" stroke-width="6.5"/><line x1="59.0" y1="480.8" x2="51.5" y2="483.9" stroke="#f29292" stroke-width="6.5"/><line x1="51.5" y1="483.9" x2="44.0" y2="487.0" stroke="#86d6d6" stroke-width="6.5"/><line x1="44.0" y1="487.0" x2="21.0" y2="494.0" stroke="#86d6d6" stroke-width="6.5"/><line x1="86.0" y1="289.0" x2="96.0" y2="310.0" stroke="#86d6d6" stroke-width="6.5"/><line x1="96.0" y1="310.0" x2="110.0" y2="324.0" stroke="#86d6d6" stroke-width="6.5"/><line x1="110.0" y1="324.0" x2="113.0" y2="331.0" stroke="#86d6d6" stroke-width="6.5"/><line x1="113.0" y1="331.0" x2="116.0" y2="338.0" stroke="#9c9ce0" stroke-width="6.5"/><line x1="127.0" y1="354.0" x2="145.4" y2="381.0" stroke="#86d6d6" stroke-width="6.5"/><line x1="145.4" y1="381.0" x2="153.8" y2="379.6" stroke="#86d6d6" stroke-width="6.5"/><line x1="153.8" y1="379.6" x2="162.1" y2="378.2" stroke="#f29292" stroke-width="6.5"/><line x1="145.4" y1="381.0" x2="143.4" y2="390.0" stroke="#86d6d6" stroke-width="6.5"/><line x1="118.0" y1="366.0" x2="119.3" y2="358.8" stroke="#86d6d6" stroke-width="6.5"/><line x1="119.3" y1="358.8" x2="120.7" y2="351.6" stroke="#f29292" stroke-width="6.5"/><line x1="96.5" y1="428.4" x2="82.9" y2="426.9" stroke="#f4b070" stroke-width="6.5"/><line x1="82.9" y1="426.9" x2="69.3" y2="425.3" stroke="#f29292" stroke-width="6.5"/><line x1="96.5" y1="428.4" x2="101.8" y2="437.9" stroke="#f4b070" stroke-width="6.5"/><line x1="101.8" y1="437.9" x2="107.0" y2="447.3" stroke="#f29292" stroke-width="6.5"/><line x1="81.8" y1="468.2" x2="73.9" y2="466.1" stroke="#f4b070" stroke-width="6.5"/><line x1="73.9" y1="466.1" x2="66.0" y2="464.0" stroke="#f29292" stroke-width="6.5"/><line x1="81.8" y1="468.2" x2="89.2" y2="480.8" stroke="#f4b070" stroke-width="6.5"/><line x1="89.2" y1="480.8" x2="96.5" y2="493.3" stroke="#f29292" stroke-width="6.5"/><line x1="44.0" y1="487.0" x2="28.0" y2="503.0" stroke="#86d6d6" stroke-width="6.5"/></g><g stroke-linecap="round" opacity="0.30"><line x1="68.6" y1="284.7" x2="77.9" y2="289.6" stroke="#f29292" stroke-width="6.5"/><line x1="77.9" y1="289.6" x2="87.2" y2="294.6" stroke="#86d6d6" stroke-width="6.5"/><line x1="87.2" y1="294.6" x2="95.2" y2="291.0" stroke="#86d6d6" stroke-width="6.5"/><line x1="95.2" y1="291.0" x2="103.2" y2="287.3" stroke="#9c9ce0" stroke-width="6.5"/><line x1="87.2" y1="294.6" x2="90.2" y2="321.2" stroke="#86d6d6" stroke-width="6.5"/><line x1="90.2" y1="321.2" x2="106.0" y2="332.0" stroke="#86d6d6" stroke-width="6.5"/><line x1="106.0" y1="332.0" x2="114.0" y2="339.5" stroke="#86d6d6" stroke-width="6.5"/><line x1="114.0" y1="339.5" x2="122.0" y2="347.0" stroke="#9c9ce0" stroke-width="6.5"/><line x1="122.0" y1="347.0" x2="127.5" y2="355.0" stroke="#9c9ce0" stroke-width="6.5"/><line x1="127.5" y1="355.0" x2="133.0" y2="363.0" stroke="#86d6d6" stroke-width="6.5"/><line x1="133.0" y1="363.0" x2="124.0" y2="375.0" stroke="#86d6d6" stroke-width="6.5"/><line x1="124.0" y1="375.0" x2="149.4" y2="399.0" stroke="#86d6d6" stroke-width="6.5"/><line x1="149.4" y1="399.0" x2="147.4" y2="409.0" stroke="#86d6d6" stroke-width="6.5"/><line x1="147.4" y1="409.0" x2="134.0" y2="423.5" stroke="#86d6d6" stroke-width="6.5"/><line x1="134.0" y1="423.5" x2="125.5" y2="422.1" stroke="#86d6d6" stroke-width="6.5"/><line x1="125.5" y1="422.1" x2="117.1" y2="420.7" stroke="#f29292" stroke-width="6.5"/><line x1="117.1" y1="420.7" x2="109.8" y2="429.0" stroke="#f29292" stroke-width="6.5"/><line x1="109.8" y1="429.0" x2="102.5" y2="437.4" stroke="#f4b070" stroke-width="6.5"/><line x1="102.5" y1="437.4" x2="99.3" y2="447.9" stroke="#f4b070" stroke-width="6.5"/><line x1="99.3" y1="447.9" x2="96.2" y2="458.4" stroke="#f29292" stroke-width="6.5"/><line x1="96.2" y1="458.4" x2="92.0" y2="467.8" stroke="#f29292" stroke-width="6.5"/><line x1="92.0" y1="467.8" x2="87.8" y2="477.2" stroke="#f4b070" stroke-width="6.5"/><line x1="87.8" y1="477.2" x2="76.4" y2="483.5" stroke="#f4b070" stroke-width="6.5"/><line x1="76.4" y1="483.5" x2="65.0" y2="489.8" stroke="#f29292" stroke-width="6.5"/><line x1="65.0" y1="489.8" x2="57.5" y2="492.9" stroke="#f29292" stroke-width="6.5"/><line x1="57.5" y1="492.9" x2="50.0" y2="496.0" stroke="#86d6d6" stroke-width="6.5"/><line x1="50.0" y1="496.0" x2="27.0" y2="503.0" stroke="#86d6d6" stroke-width="6.5"/><line x1="92.0" y1="298.0" x2="102.0" y2="319.0" stroke="#86d6d6" stroke-width="6.5"/><line x1="102.0" y1="319.0" x2="116.0" y2="333.0" stroke="#86d6d6" stroke-width="6.5"/><line x1="116.0" y1="333.0" x2="119.0" y2="340.0" stroke="#86d6d6" stroke-width="6.5"/><line x1="119.0" y1="340.0" x2="122.0" y2="347.0" stroke="#9c9ce0" stroke-width="6.5"/><line x1="133.0" y1="363.0" x2="151.4" y2="390.0" stroke="#86d6d6" stroke-width="6.5"/><line x1="151.4" y1="390.0" x2="159.8" y2="388.6" stroke="#86d6d6" stroke-width="6.5"/><line x1="159.8" y1="388.6" x2="168.1" y2="387.2" stroke="#f29292" stroke-width="6.5"/><line x1="151.4" y1="390.0" x2="149.4" y2="399.0" stroke="#86d6d6" stroke-width="6.5"/><line x1="124.0" y1="375.0" x2="125.3" y2="367.8" stroke="#86d6d6" stroke-width="6.5"/><line x1="125.3" y1="367.8" x2="126.7" y2="360.6" stroke="#f29292" stroke-width="6.5"/><line x1="102.5" y1="437.4" x2="88.9" y2="435.9" stroke="#f4b070" stroke-width="6.5"/><line x1="88.9" y1="435.9" x2="75.3" y2="434.3" stroke="#f29292" stroke-width="6.5"/><line x1="102.5" y1="437.4" x2="107.8" y2="446.9" stroke="#f4b070" stroke-width="6.5"/><line x1="107.8" y1="446.9" x2="113.0" y2="456.3" stroke="#f29292" stroke-width="6.5"/><line x1="87.8" y1="477.2" x2="79.9" y2="475.1" stroke="#f4b070" stroke-width="6.5"/><line x1="79.9" y1="475.1" x2="72.0" y2="473.0" stroke="#f29292" stroke-width="6.5"/><line x1="87.8" y1="477.2" x2="95.2" y2="489.8" stroke="#f4b070" stroke-width="6.5"/><line x1="95.2" y1="489.8" x2="102.5" y2="502.3" stroke="#f29292" stroke-width="6.5"/><line x1="50.0" y1="496.0" x2="34.0" y2="512.0" stroke="#86d6d6" stroke-width="6.5"/></g><g stroke-linecap="round" fill="none"><line x1="58.6" y1="278.7" x2="77.2" y2="288.6" stroke="#222" stroke-width="7.8"/><line x1="77.2" y1="288.6" x2="93.2" y2="281.3" stroke="#222" stroke-width="7.8"/><line x1="77.2" y1="288.6" x2="80.2" y2="315.2" stroke="#1c6466" stroke-width="7.8"/><line x1="80.2" y1="315.2" x2="96.0" y2="326.0" stroke="#1c6466" stroke-width="7.8"/><line x1="96.0" y1="326.0" x2="112.0" y2="341.0" stroke="#222" stroke-width="7.8"/><line x1="112.0" y1="341.0" x2="123.0" y2="357.0" stroke="#222" stroke-width="7.8"/><line x1="123.0" y1="357.0" x2="114.0" y2="369.0" stroke="#1c6466" stroke-width="7.8"/><line x1="114.0" y1="369.0" x2="139.4" y2="393.0" stroke="#1c6466" stroke-width="7.8"/><line x1="139.4" y1="393.0" x2="137.4" y2="403.0" stroke="#1c6466" stroke-width="7.8"/><line x1="137.4" y1="403.0" x2="124.0" y2="417.5" stroke="#1c6466" stroke-width="7.8"/><line x1="124.0" y1="417.5" x2="107.1" y2="414.7" stroke="#222" stroke-width="7.8"/><line x1="107.1" y1="414.7" x2="92.5" y2="431.4" stroke="#222" stroke-width="7.8"/><line x1="92.5" y1="431.4" x2="86.2" y2="452.4" stroke="#222" stroke-width="7.8"/><line x1="86.2" y1="452.4" x2="77.8" y2="471.2" stroke="#222" stroke-width="7.8"/><line x1="77.8" y1="471.2" x2="55.0" y2="483.8" stroke="#222" stroke-width="7.8"/><line x1="55.0" y1="483.8" x2="40.0" y2="490.0" stroke="#222" stroke-width="7.8"/><line x1="40.0" y1="490.0" x2="17.0" y2="497.0" stroke="#1c6466" stroke-width="7.8"/><line x1="82.0" y1="292.0" x2="92.0" y2="313.0" stroke="#1c6466" stroke-width="7.8"/><line x1="92.0" y1="313.0" x2="106.0" y2="327.0" stroke="#1c6466" stroke-width="7.8"/><line x1="106.0" y1="327.0" x2="112.0" y2="341.0" stroke="#222" stroke-width="7.8"/><line x1="123.0" y1="357.0" x2="141.4" y2="384.0" stroke="#1c6466" stroke-width="7.8"/><line x1="141.4" y1="384.0" x2="158.1" y2="381.2" stroke="#222" stroke-width="7.8"/><line x1="141.4" y1="384.0" x2="139.4" y2="393.0" stroke="#1c6466" stroke-width="7.8"/><line x1="114.0" y1="369.0" x2="116.7" y2="354.6" stroke="#222" stroke-width="7.8"/><line x1="92.5" y1="431.4" x2="65.3" y2="428.3" stroke="#222" stroke-width="7.8"/><line x1="92.5" y1="431.4" x2="103.0" y2="450.3" stroke="#222" stroke-width="7.8"/><line x1="77.8" y1="471.2" x2="62.0" y2="467.0" stroke="#222" stroke-width="7.8"/><line x1="77.8" y1="471.2" x2="92.5" y2="496.3" stroke="#222" stroke-width="7.8"/><line x1="40.0" y1="490.0" x2="24.0" y2="506.0" stroke="#1c6466" stroke-width="7.8"/><line x1="58.6" y1="278.7" x2="67.9" y2="283.6" stroke="#d8302e" stroke-width="6.2"/><line x1="67.9" y1="283.6" x2="77.2" y2="288.6" stroke="#35b4b6" stroke-width="6.2"/><line x1="77.2" y1="288.6" x2="85.2" y2="285.0" stroke="#35b4b6" stroke-width="6.2"/><line x1="85.2" y1="285.0" x2="93.2" y2="281.3" stroke="#2b33a6" stroke-width="6.2"/><line x1="77.2" y1="288.6" x2="80.2" y2="315.2" stroke="#35b4b6" stroke-width="6.2"/><line x1="80.2" y1="315.2" x2="96.0" y2="326.0" stroke="#35b4b6" stroke-width="6.2"/><line x1="96.0" y1="326.0" x2="104.0" y2="333.5" stroke="#35b4b6" stroke-width="6.2"/><line x1="104.0" y1="333.5" x2="112.0" y2="341.0" stroke="#2b33a6" stroke-width="6.2"/><line x1="112.0" y1="341.0" x2="117.5" y2="349.0" stroke="#2b33a6" stroke-width="6.2"/><line x1="117.5" y1="349.0" x2="123.0" y2="357.0" stroke="#35b4b6" stroke-width="6.2"/><line x1="123.0" y1="357.0" x2="114.0" y2="369.0" stroke="#35b4b6" stroke-width="6.2"/><line x1="114.0" y1="369.0" x2="139.4" y2="393.0" stroke="#35b4b6" stroke-width="6.2"/><line x1="139.4" y1="393.0" x2="137.4" y2="403.0" stroke="#35b4b6" stroke-width="6.2"/><line x1="137.4" y1="403.0" x2="124.0" y2="417.5" stroke="#35b4b6" stroke-width="6.2"/><line x1="124.0" y1="417.5" x2="115.5" y2="416.1" stroke="#35b4b6" stroke-width="6.2"/><line x1="115.5" y1="416.1" x2="107.1" y2="414.7" stroke="#d8302e" stroke-width="6.2"/><line x1="107.1" y1="414.7" x2="99.8" y2="423.0" stroke="#d8302e" stroke-width="6.2"/><line x1="99.8" y1="423.0" x2="92.5" y2="431.4" stroke="#ea8a1e" stroke-width="6.2"/><line x1="92.5" y1="431.4" x2="89.3" y2="441.9" stroke="#ea8a1e" stroke-width="6.2"/><line x1="89.3" y1="441.9" x2="86.2" y2="452.4" stroke="#d8302e" stroke-width="6.2"/><line x1="86.2" y1="452.4" x2="82.0" y2="461.8" stroke="#d8302e" stroke-width="6.2"/><line x1="82.0" y1="461.8" x2="77.8" y2="471.2" stroke="#ea8a1e" stroke-width="6.2"/><line x1="77.8" y1="471.2" x2="66.4" y2="477.5" stroke="#ea8a1e" stroke-width="6.2"/><line x1="66.4" y1="477.5" x2="55.0" y2="483.8" stroke="#d8302e" stroke-width="6.2"/><line x1="55.0" y1="483.8" x2="47.5" y2="486.9" stroke="#d8302e" stroke-width="6.2"/><line x1="47.5" y1="486.9" x2="40.0" y2="490.0" stroke="#35b4b6" stroke-width="6.2"/><line x1="40.0" y1="490.0" x2="17.0" y2="497.0" stroke="#35b4b6" stroke-width="6.2"/><line x1="82.0" y1="292.0" x2="92.0" y2="313.0" stroke="#35b4b6" stroke-width="6.2"/><line x1="92.0" y1="313.0" x2="106.0" y2="327.0" stroke="#35b4b6" stroke-width="6.2"/><line x1="106.0" y1="327.0" x2="109.0" y2="334.0" stroke="#35b4b6" stroke-width="6.2"/><line x1="109.0" y1="334.0" x2="112.0" y2="341.0" stroke="#2b33a6" stroke-width="6.2"/><line x1="123.0" y1="357.0" x2="141.4" y2="384.0" stroke="#35b4b6" stroke-width="6.2"/><line x1="141.4" y1="384.0" x2="149.8" y2="382.6" stroke="#35b4b6" stroke-width="6.2"/><line x1="149.8" y1="382.6" x2="158.1" y2="381.2" stroke="#d8302e" stroke-width="6.2"/><line x1="141.4" y1="384.0" x2="139.4" y2="393.0" stroke="#35b4b6" stroke-width="6.2"/><line x1="114.0" y1="369.0" x2="115.3" y2="361.8" stroke="#35b4b6" stroke-width="6.2"/><line x1="115.3" y1="361.8" x2="116.7" y2="354.6" stroke="#d8302e" stroke-width="6.2"/><line x1="92.5" y1="431.4" x2="78.9" y2="429.9" stroke="#ea8a1e" stroke-width="6.2"/><line x1="78.9" y1="429.9" x2="65.3" y2="428.3" stroke="#d8302e" stroke-width="6.2"/><line x1="92.5" y1="431.4" x2="97.8" y2="440.9" stroke="#ea8a1e" stroke-width="6.2"/><line x1="97.8" y1="440.9" x2="103.0" y2="450.3" stroke="#d8302e" stroke-width="6.2"/><line x1="77.8" y1="471.2" x2="69.9" y2="469.1" stroke="#ea8a1e" stroke-width="6.2"/><line x1="69.9" y1="469.1" x2="62.0" y2="467.0" stroke="#d8302e" stroke-width="6.2"/><line x1="77.8" y1="471.2" x2="85.2" y2="483.8" stroke="#ea8a1e" stroke-width="6.2"/><line x1="85.2" y1="483.8" x2="92.5" y2="496.3" stroke="#d8302e" stroke-width="6.2"/><line x1="40.0" y1="490.0" x2="24.0" y2="506.0" stroke="#35b4b6" stroke-width="6.2"/><g opacity="0.55"><line x1="57.6" y1="277.7" x2="66.9" y2="282.7" stroke="#f08a88" stroke-width="1.9"/><line x1="66.9" y1="282.7" x2="76.2" y2="287.6" stroke="#8ee0e0" stroke-width="1.9"/><line x1="76.2" y1="287.6" x2="84.2" y2="284.0" stroke="#8ee0e0" stroke-width="1.9"/><line x1="84.2" y1="284.0" x2="92.2" y2="280.3" stroke="#6a70d8" stroke-width="1.9"/><line x1="76.2" y1="287.6" x2="79.2" y2="314.2" stroke="#8ee0e0" stroke-width="1.9"/><line x1="79.2" y1="314.2" x2="95.0" y2="325.0" stroke="#8ee0e0" stroke-width="1.9"/><line x1="95.0" y1="325.0" x2="103.0" y2="332.5" stroke="#8ee0e0" stroke-width="1.9"/><line x1="103.0" y1="332.5" x2="111.0" y2="340.0" stroke="#6a70d8" stroke-width="1.9"/><line x1="111.0" y1="340.0" x2="116.5" y2="348.0" stroke="#6a70d8" stroke-width="1.9"/><line x1="116.5" y1="348.0" x2="122.0" y2="356.0" stroke="#8ee0e0" stroke-width="1.9"/><line x1="122.0" y1="356.0" x2="113.0" y2="368.0" stroke="#8ee0e0" stroke-width="1.9"/><line x1="113.0" y1="368.0" x2="138.4" y2="392.0" stroke="#8ee0e0" stroke-width="1.9"/><line x1="138.4" y1="392.0" x2="136.4" y2="402.0" stroke="#8ee0e0" stroke-width="1.9"/><line x1="136.4" y1="402.0" x2="123.0" y2="416.5" stroke="#8ee0e0" stroke-width="1.9"/><line x1="123.0" y1="416.5" x2="114.6" y2="415.1" stroke="#8ee0e0" stroke-width="1.9"/><line x1="114.6" y1="415.1" x2="106.1" y2="413.7" stroke="#f08a88" stroke-width="1.9"/><line x1="106.1" y1="413.7" x2="98.8" y2="422.1" stroke="#f08a88" stroke-width="1.9"/><line x1="98.8" y1="422.1" x2="91.5" y2="430.4" stroke="#f8c070" stroke-width="1.9"/><line x1="91.5" y1="430.4" x2="88.4" y2="440.9" stroke="#f8c070" stroke-width="1.9"/><line x1="88.4" y1="440.9" x2="85.2" y2="451.4" stroke="#f08a88" stroke-width="1.9"/><line x1="85.2" y1="451.4" x2="81.0" y2="460.8" stroke="#f08a88" stroke-width="1.9"/><line x1="81.0" y1="460.8" x2="76.8" y2="470.2" stroke="#f8c070" stroke-width="1.9"/><line x1="76.8" y1="470.2" x2="65.4" y2="476.5" stroke="#f8c070" stroke-width="1.9"/><line x1="65.4" y1="476.5" x2="54.0" y2="482.8" stroke="#f08a88" stroke-width="1.9"/><line x1="54.0" y1="482.8" x2="46.5" y2="485.9" stroke="#f08a88" stroke-width="1.9"/><line x1="46.5" y1="485.9" x2="39.0" y2="489.0" stroke="#8ee0e0" stroke-width="1.9"/><line x1="39.0" y1="489.0" x2="16.0" y2="496.0" stroke="#8ee0e0" stroke-width="1.9"/><line x1="81.0" y1="291.0" x2="91.0" y2="312.0" stroke="#8ee0e0" stroke-width="1.9"/><line x1="91.0" y1="312.0" x2="105.0" y2="326.0" stroke="#8ee0e0" stroke-width="1.9"/><line x1="105.0" y1="326.0" x2="108.0" y2="333.0" stroke="#8ee0e0" stroke-width="1.9"/><line x1="108.0" y1="333.0" x2="111.0" y2="340.0" stroke="#6a70d8" stroke-width="1.9"/><line x1="122.0" y1="356.0" x2="140.4" y2="383.0" stroke="#8ee0e0" stroke-width="1.9"/><line x1="140.4" y1="383.0" x2="148.8" y2="381.6" stroke="#8ee0e0" stroke-width="1.9"/><line x1="148.8" y1="381.6" x2="157.1" y2="380.2" stroke="#f08a88" stroke-width="1.9"/><line x1="140.4" y1="383.0" x2="138.4" y2="392.0" stroke="#8ee0e0" stroke-width="1.9"/><line x1="113.0" y1="368.0" x2="114.4" y2="360.8" stroke="#8ee0e0" stroke-width="1.9"/><line x1="114.4" y1="360.8" x2="115.7" y2="353.6" stroke="#f08a88" stroke-width="1.9"/><line x1="91.5" y1="430.4" x2="77.9" y2="428.9" stroke="#f8c070" stroke-width="1.9"/><line x1="77.9" y1="428.9" x2="64.3" y2="427.3" stroke="#f08a88" stroke-width="1.9"/><line x1="91.5" y1="430.4" x2="96.8" y2="439.9" stroke="#f8c070" stroke-width="1.9"/><line x1="96.8" y1="439.9" x2="102.0" y2="449.3" stroke="#f08a88" stroke-width="1.9"/><line x1="76.8" y1="470.2" x2="68.9" y2="468.1" stroke="#f8c070" stroke-width="1.9"/><line x1="68.9" y1="468.1" x2="61.0" y2="466.0" stroke="#f08a88" stroke-width="1.9"/><line x1="76.8" y1="470.2" x2="84.2" y2="482.8" stroke="#f8c070" stroke-width="1.9"/><line x1="84.2" y1="482.8" x2="91.5" y2="495.3" stroke="#f08a88" stroke-width="1.9"/><line x1="39.0" y1="489.0" x2="23.0" y2="505.0" stroke="#8ee0e0" stroke-width="1.9"/></g></g><g fill="none" stroke="#a4a4e2" stroke-width="13.0" stroke-linecap="round" stroke-linejoin="round" opacity="0.55"><polyline points="165.0,286.0 190.0,305.0 212.0,325.0 230.0,340.0"/></g><g fill="none" stroke="#f3ee80" stroke-width="9.0" stroke-linecap="round" stroke-linejoin="round" opacity="0.75"><polyline points="128.0,262.0 150.0,276.0 172.0,292.0"/><polyline points="134.0,259.0 156.0,273.0 178.0,289.0"/></g><circle cx="168" cy="285" r="6" fill="#a4a4e2" opacity="0.7"/><g stroke-linecap="round" opacity="0.80"><line x1="178.0" y1="268.0" x2="182.0" y2="279.0" stroke="#f29292" stroke-width="7.5"/><line x1="182.0" y1="279.0" x2="186.0" y2="290.0" stroke="#f4f078" stroke-width="7.5"/><line x1="187.0" y1="272.0" x2="190.5" y2="284.0" stroke="#f29292" stroke-width="7.5"/><line x1="190.5" y1="284.0" x2="194.0" y2="296.0" stroke="#f4f078" stroke-width="7.5"/><line x1="194.0" y1="278.0" x2="197.0" y2="289.0" stroke="#f29292" stroke-width="7.5"/><line x1="197.0" y1="289.0" x2="200.0" y2="300.0" stroke="#f4f078" stroke-width="7.5"/><line x1="180.0" y1="283.0" x2="183.0" y2="290.5" stroke="#f29292" stroke-width="7.5"/><line x1="183.0" y1="290.5" x2="186.0" y2="298.0" stroke="#f4f078" stroke-width="7.5"/><line x1="190.0" y1="284.0" x2="193.0" y2="292.0" stroke="#f29292" stroke-width="7.5"/><line x1="193.0" y1="292.0" x2="196.0" y2="300.0" stroke="#f4f078" stroke-width="7.5"/><line x1="197.0" y1="282.0" x2="199.5" y2="293.0" stroke="#f29292" stroke-width="7.5"/><line x1="199.5" y1="293.0" x2="202.0" y2="304.0" stroke="#f4f078" stroke-width="7.5"/></g><g stroke-linecap="round" opacity="0.40"><line x1="127.9" y1="262.7" x2="142.0" y2="274.0" stroke="#f4f078" stroke-width="6.5"/><line x1="142.0" y1="274.0" x2="156.0" y2="287.0" stroke="#f4f078" stroke-width="6.5"/><line x1="156.0" y1="287.0" x2="160.5" y2="291.0" stroke="#f4f078" stroke-width="6.5"/><line x1="160.5" y1="291.0" x2="165.0" y2="295.0" stroke="#9c9ce0" stroke-width="6.5"/><line x1="165.0" y1="295.0" x2="170.5" y2="300.5" stroke="#9c9ce0" stroke-width="6.5"/><line x1="170.5" y1="300.5" x2="176.0" y2="306.0" stroke="#f4f078" stroke-width="6.5"/><line x1="176.0" y1="306.0" x2="183.5" y2="307.5" stroke="#f4f078" stroke-width="6.5"/><line x1="183.5" y1="307.5" x2="191.0" y2="309.0" stroke="#9c9ce0" stroke-width="6.5"/><line x1="191.0" y1="309.0" x2="197.0" y2="315.5" stroke="#9c9ce0" stroke-width="6.5"/><line x1="197.0" y1="315.5" x2="203.0" y2="322.0" stroke="#f4f078" stroke-width="6.5"/><line x1="203.0" y1="322.0" x2="214.5" y2="342.0" stroke="#f4f078" stroke-width="6.5"/><line x1="132.0" y1="271.0" x2="148.0" y2="285.0" stroke="#f4f078" stroke-width="6.5"/><line x1="148.0" y1="285.0" x2="162.0" y2="300.0" stroke="#f4f078" stroke-width="6.5"/><line x1="162.0" y1="300.0" x2="178.0" y2="317.0" stroke="#f4f078" stroke-width="6.5"/><line x1="178.0" y1="317.0" x2="186.0" y2="323.0" stroke="#f4f078" stroke-width="6.5"/><line x1="186.0" y1="323.0" x2="194.0" y2="329.0" stroke="#9c9ce0" stroke-width="6.5"/><line x1="194.0" y1="329.0" x2="200.0" y2="333.0" stroke="#9c9ce0" stroke-width="6.5"/><line x1="200.0" y1="333.0" x2="206.0" y2="337.0" stroke="#f4f078" stroke-width="6.5"/><line x1="138.0" y1="263.0" x2="150.0" y2="272.0" stroke="#f4f078" stroke-width="6.5"/><line x1="150.0" y1="272.0" x2="162.0" y2="283.0" stroke="#f4f078" stroke-width="6.5"/><line x1="162.0" y1="283.0" x2="167.0" y2="286.5" stroke="#f4f078" stroke-width="6.5"/><line x1="167.0" y1="286.5" x2="172.0" y2="290.0" stroke="#9c9ce0" stroke-width="6.5"/><line x1="172.0" y1="290.0" x2="179.0" y2="293.5" stroke="#9c9ce0" stroke-width="6.5"/><line x1="179.0" y1="293.5" x2="186.0" y2="297.0" stroke="#f4f078" stroke-width="6.5"/><line x1="186.0" y1="297.0" x2="192.5" y2="303.0" stroke="#f4f078" stroke-width="6.5"/><line x1="192.5" y1="303.0" x2="199.0" y2="309.0" stroke="#9c9ce0" stroke-width="6.5"/><line x1="199.0" y1="309.0" x2="204.5" y2="317.0" stroke="#9c9ce0" stroke-width="6.5"/><line x1="204.5" y1="317.0" x2="210.0" y2="325.0" stroke="#f4f078" stroke-width="6.5"/><line x1="146.0" y1="291.0" x2="156.0" y2="305.0" stroke="#f4f078" stroke-width="6.5"/><line x1="156.0" y1="305.0" x2="164.0" y2="311.0" stroke="#f4f078" stroke-width="6.5"/><line x1="164.0" y1="311.0" x2="172.0" y2="317.0" stroke="#9c9ce0" stroke-width="6.5"/><line x1="172.0" y1="317.0" x2="179.0" y2="322.0" stroke="#9c9ce0" stroke-width="6.5"/><line x1="179.0" y1="322.0" x2="186.0" y2="327.0" stroke="#f4f078" stroke-width="6.5"/><line x1="186.0" y1="327.0" x2="198.0" y2="337.0" stroke="#f4f078" stroke-width="6.5"/><line x1="170.4" y1="282.5" x2="174.9" y2="288.4" stroke="#f29292" stroke-width="6.5"/><line x1="174.9" y1="288.4" x2="179.3" y2="294.3" stroke="#f4f078" stroke-width="6.5"/><line x1="214.5" y1="342.0" x2="220.9" y2="341.1" stroke="#f4f078" stroke-width="6.5"/><line x1="220.9" y1="341.1" x2="227.4" y2="340.1" stroke="#f29292" stroke-width="6.5"/><line x1="214.5" y1="342.0" x2="244.0" y2="319.8" stroke="#f4f078" stroke-width="6.5"/><line x1="244.0" y1="319.8" x2="266.2" y2="318.0" stroke="#f4f078" stroke-width="6.5"/><line x1="266.2" y1="318.0" x2="282.8" y2="334.6" stroke="#f4f078" stroke-width="6.5"/><line x1="282.8" y1="334.6" x2="292.1" y2="330.0" stroke="#f4f078" stroke-width="6.5"/><line x1="292.1" y1="330.0" x2="301.3" y2="325.3" stroke="#f29292" stroke-width="6.5"/><line x1="301.3" y1="325.3" x2="312.4" y2="331.8" stroke="#f29292" stroke-width="6.5"/><line x1="312.4" y1="331.8" x2="323.4" y2="338.3" stroke="#f4b070" stroke-width="6.5"/><line x1="323.4" y1="338.3" x2="328.9" y2="330.9" stroke="#f4b070" stroke-width="6.5"/><line x1="328.9" y1="330.9" x2="334.5" y2="323.5" stroke="#f29292" stroke-width="6.5"/><line x1="244.0" y1="319.8" x2="239.4" y2="310.6" stroke="#f4f078" stroke-width="6.5"/><line x1="239.4" y1="310.6" x2="234.8" y2="301.3" stroke="#f29292" stroke-width="6.5"/><line x1="266.2" y1="318.0" x2="263.4" y2="310.6" stroke="#f4f078" stroke-width="6.5"/><line x1="263.4" y1="310.6" x2="260.6" y2="303.2" stroke="#f29292" stroke-width="6.5"/><line x1="323.4" y1="338.3" x2="325.2" y2="349.4" stroke="#f4b070" stroke-width="6.5"/><line x1="325.2" y1="349.4" x2="327.1" y2="360.4" stroke="#f29292" stroke-width="6.5"/><line x1="323.4" y1="338.3" x2="315.7" y2="344.6" stroke="#f4b070" stroke-width="6.5"/><line x1="315.7" y1="344.6" x2="308.0" y2="351.0" stroke="#f29292" stroke-width="6.5"/></g><g stroke-linecap="round" opacity="0.30"><line x1="133.9" y1="263.7" x2="148.0" y2="275.0" stroke="#f4f078" stroke-width="6.5"/><line x1="148.0" y1="275.0" x2="162.0" y2="288.0" stroke="#f4f078" stroke-width="6.5"/><line x1="162.0" y1="288.0" x2="166.5" y2="292.0" stroke="#f4f078" stroke-width="6.5"/><line x1="166.5" y1="292.0" x2="171.0" y2="296.0" stroke="#9c9ce0" stroke-width="6.5"/><line x1="171.0" y1="296.0" x2="176.5" y2="301.5" stroke="#9c9ce0" stroke-width="6.5"/><line x1="176.5" y1="301.5" x2="182.0" y2="307.0" stroke="#f4f078" stroke-width="6.5"/><line x1="182.0" y1="307.0" x2="189.5" y2="308.5" stroke="#f4f078" stroke-width="6.5"/><line x1="189.5" y1="308.5" x2="197.0" y2="310.0" stroke="#9c9ce0" stroke-width="6.5"/><line x1="197.0" y1="310.0" x2="203.0" y2="316.5" stroke="#9c9ce0" stroke-width="6.5"/><line x1="203.0" y1="316.5" x2="209.0" y2="323.0" stroke="#f4f078" stroke-width="6.5"/><line x1="209.0" y1="323.0" x2="220.5" y2="343.0" stroke="#f4f078" stroke-width="6.5"/><line x1="138.0" y1="272.0" x2="154.0" y2="286.0" stroke="#f4f078" stroke-width="6.5"/><line x1="154.0" y1="286.0" x2="168.0" y2="301.0" stroke="#f4f078" stroke-width="6.5"/><line x1="168.0" y1="301.0" x2="184.0" y2="318.0" stroke="#f4f078" stroke-width="6.5"/><line x1="184.0" y1="318.0" x2="192.0" y2="324.0" stroke="#f4f078" stroke-width="6.5"/><line x1="192.0" y1="324.0" x2="200.0" y2="330.0" stroke="#9c9ce0" stroke-width="6.5"/><line x1="200.0" y1="330.0" x2="206.0" y2="334.0" stroke="#9c9ce0" stroke-width="6.5"/><line x1="206.0" y1="334.0" x2="212.0" y2="338.0" stroke="#f4f078" stroke-width="6.5"/><line x1="144.0" y1="264.0" x2="156.0" y2="273.0" stroke="#f4f078" stroke-width="6.5"/><line x1="156.0" y1="273.0" x2="168.0" y2="284.0" stroke="#f4f078" stroke-width="6.5"/><line x1="168.0" y1="284.0" x2="173.0" y2="287.5" stroke="#f4f078" stroke-width="6.5"/><line x1="173.0" y1="287.5" x2="178.0" y2="291.0" stroke="#9c9ce0" stroke-width="6.5"/><line x1="178.0" y1="291.0" x2="185.0" y2="294.5" stroke="#9c9ce0" stroke-width="6.5"/><line x1="185.0" y1="294.5" x2="192.0" y2="298.0" stroke="#f4f078" stroke-width="6.5"/><line x1="192.0" y1="298.0" x2="198.5" y2="304.0" stroke="#f4f078" stroke-width="6.5"/><line x1="198.5" y1="304.0" x2="205.0" y2="310.0" stroke="#9c9ce0" stroke-width="6.5"/><line x1="205.0" y1="310.0" x2="210.5" y2="318.0" stroke="#9c9ce0" stroke-width="6.5"/><line x1="210.5" y1="318.0" x2="216.0" y2="326.0" stroke="#f4f078" stroke-width="6.5"/><line x1="152.0" y1="292.0" x2="162.0" y2="306.0" stroke="#f4f078" stroke-width="6.5"/><line x1="162.0" y1="306.0" x2="170.0" y2="312.0" stroke="#f4f078" stroke-width="6.5"/><line x1="170.0" y1="312.0" x2="178.0" y2="318.0" stroke="#9c9ce0" stroke-width="6.5"/><line x1="178.0" y1="318.0" x2="185.0" y2="323.0" stroke="#9c9ce0" stroke-width="6.5"/><line x1="185.0" y1="323.0" x2="192.0" y2="328.0" stroke="#f4f078" stroke-width="6.5"/><line x1="192.0" y1="328.0" x2="204.0" y2="338.0" stroke="#f4f078" stroke-width="6.5"/><line x1="176.4" y1="283.5" x2="180.9" y2="289.4" stroke="#f29292" stroke-width="6.5"/><line x1="180.9" y1="289.4" x2="185.3" y2="295.3" stroke="#f4f078" stroke-width="6.5"/><line x1="220.5" y1="343.0" x2="226.9" y2="342.1" stroke="#f4f078" stroke-width="6.5"/><line x1="226.9" y1="342.1" x2="233.4" y2="341.1" stroke="#f29292" stroke-width="6.5"/><line x1="220.5" y1="343.0" x2="250.0" y2="320.8" stroke="#f4f078" stroke-width="6.5"/><line x1="250.0" y1="320.8" x2="272.2" y2="319.0" stroke="#f4f078" stroke-width="6.5"/><line x1="272.2" y1="319.0" x2="288.8" y2="335.6" stroke="#f4f078" stroke-width="6.5"/><line x1="288.8" y1="335.6" x2="298.1" y2="331.0" stroke="#f4f078" stroke-width="6.5"/><line x1="298.1" y1="331.0" x2="307.3" y2="326.3" stroke="#f29292" stroke-width="6.5"/><line x1="307.3" y1="326.3" x2="318.4" y2="332.8" stroke="#f29292" stroke-width="6.5"/><line x1="318.4" y1="332.8" x2="329.4" y2="339.3" stroke="#f4b070" stroke-width="6.5"/><line x1="329.4" y1="339.3" x2="334.9" y2="331.9" stroke="#f4b070" stroke-width="6.5"/><line x1="334.9" y1="331.9" x2="340.5" y2="324.5" stroke="#f29292" stroke-width="6.5"/><line x1="250.0" y1="320.8" x2="245.4" y2="311.6" stroke="#f4f078" stroke-width="6.5"/><line x1="245.4" y1="311.6" x2="240.8" y2="302.3" stroke="#f29292" stroke-width="6.5"/><line x1="272.2" y1="319.0" x2="269.4" y2="311.6" stroke="#f4f078" stroke-width="6.5"/><line x1="269.4" y1="311.6" x2="266.6" y2="304.2" stroke="#f29292" stroke-width="6.5"/><line x1="329.4" y1="339.3" x2="331.2" y2="350.4" stroke="#f4b070" stroke-width="6.5"/><line x1="331.2" y1="350.4" x2="333.1" y2="361.4" stroke="#f29292" stroke-width="6.5"/><line x1="329.4" y1="339.3" x2="321.7" y2="345.6" stroke="#f4b070" stroke-width="6.5"/><line x1="321.7" y1="345.6" x2="314.0" y2="352.0" stroke="#f29292" stroke-width="6.5"/></g><g stroke-linecap="round" opacity="0.25"><line x1="141.9" y1="275.7" x2="156.0" y2="287.0" stroke="#f4f078" stroke-width="6.5"/><line x1="156.0" y1="287.0" x2="170.0" y2="300.0" stroke="#f4f078" stroke-width="6.5"/><line x1="170.0" y1="300.0" x2="174.5" y2="304.0" stroke="#f4f078" stroke-width="6.5"/><line x1="174.5" y1="304.0" x2="179.0" y2="308.0" stroke="#9c9ce0" stroke-width="6.5"/><line x1="179.0" y1="308.0" x2="184.5" y2="313.5" stroke="#9c9ce0" stroke-width="6.5"/><line x1="184.5" y1="313.5" x2="190.0" y2="319.0" stroke="#f4f078" stroke-width="6.5"/><line x1="190.0" y1="319.0" x2="197.5" y2="320.5" stroke="#f4f078" stroke-width="6.5"/><line x1="197.5" y1="320.5" x2="205.0" y2="322.0" stroke="#9c9ce0" stroke-width="6.5"/><line x1="205.0" y1="322.0" x2="211.0" y2="328.5" stroke="#9c9ce0" stroke-width="6.5"/><line x1="211.0" y1="328.5" x2="217.0" y2="335.0" stroke="#f4f078" stroke-width="6.5"/><line x1="217.0" y1="335.0" x2="228.5" y2="355.0" stroke="#f4f078" stroke-width="6.5"/><line x1="146.0" y1="284.0" x2="162.0" y2="298.0" stroke="#f4f078" stroke-width="6.5"/><line x1="162.0" y1="298.0" x2="176.0" y2="313.0" stroke="#f4f078" stroke-width="6.5"/><line x1="176.0" y1="313.0" x2="192.0" y2="330.0" stroke="#f4f078" stroke-width="6.5"/><line x1="192.0" y1="330.0" x2="200.0" y2="336.0" stroke="#f4f078" stroke-width="6.5"/><line x1="200.0" y1="336.0" x2="208.0" y2="342.0" stroke="#9c9ce0" stroke-width="6.5"/><line x1="208.0" y1="342.0" x2="214.0" y2="346.0" stroke="#9c9ce0" stroke-width="6.5"/><line x1="214.0" y1="346.0" x2="220.0" y2="350.0" stroke="#f4f078" stroke-width="6.5"/><line x1="152.0" y1="276.0" x2="164.0" y2="285.0" stroke="#f4f078" stroke-width="6.5"/><line x1="164.0" y1="285.0" x2="176.0" y2="296.0" stroke="#f4f078" stroke-width="6.5"/><line x1="176.0" y1="296.0" x2="181.0" y2="299.5" stroke="#f4f078" stroke-width="6.5"/><line x1="181.0" y1="299.5" x2="186.0" y2="303.0" stroke="#9c9ce0" stroke-width="6.5"/><line x1="186.0" y1="303.0" x2="193.0" y2="306.5" stroke="#9c9ce0" stroke-width="6.5"/><line x1="193.0" y1="306.5" x2="200.0" y2="310.0" stroke="#f4f078" stroke-width="6.5"/><line x1="200.0" y1="310.0" x2="206.5" y2="316.0" stroke="#f4f078" stroke-width="6.5"/><line x1="206.5" y1="316.0" x2="213.0" y2="322.0" stroke="#9c9ce0" stroke-width="6.5"/><line x1="213.0" y1="322.0" x2="218.5" y2="330.0" stroke="#9c9ce0" stroke-width="6.5"/><line x1="218.5" y1="330.0" x2="224.0" y2="338.0" stroke="#f4f078" stroke-width="6.5"/><line x1="160.0" y1="304.0" x2="170.0" y2="318.0" stroke="#f4f078" stroke-width="6.5"/><line x1="170.0" y1="318.0" x2="178.0" y2="324.0" stroke="#f4f078" stroke-width="6.5"/><line x1="178.0" y1="324.0" x2="186.0" y2="330.0" stroke="#9c9ce0" stroke-width="6.5"/><line x1="186.0" y1="330.0" x2="193.0" y2="335.0" stroke="#9c9ce0" stroke-width="6.5"/><line x1="193.0" y1="335.0" x2="200.0" y2="340.0" stroke="#f4f078" stroke-width="6.5"/><line x1="200.0" y1="340.0" x2="212.0" y2="350.0" stroke="#f4f078" stroke-width="6.5"/><line x1="184.4" y1="295.5" x2="188.9" y2="301.4" stroke="#f29292" stroke-width="6.5"/><line x1="188.9" y1="301.4" x2="193.3" y2="307.3" stroke="#f4f078" stroke-width="6.5"/><line x1="228.5" y1="355.0" x2="234.9" y2="354.1" stroke="#f4f078" stroke-width="6.5"/><line x1="234.9" y1="354.1" x2="241.4" y2="353.1" stroke="#f29292" stroke-width="6.5"/><line x1="228.5" y1="355.0" x2="258.0" y2="332.8" stroke="#f4f078" stroke-width="6.5"/><line x1="258.0" y1="332.8" x2="280.2" y2="331.0" stroke="#f4f078" stroke-width="6.5"/><line x1="280.2" y1="331.0" x2="296.8" y2="347.6" stroke="#f4f078" stroke-width="6.5"/><line x1="296.8" y1="347.6" x2="306.1" y2="343.0" stroke="#f4f078" stroke-width="6.5"/><line x1="306.1" y1="343.0" x2="315.3" y2="338.3" stroke="#f29292" stroke-width="6.5"/><line x1="315.3" y1="338.3" x2="326.4" y2="344.8" stroke="#f29292" stroke-width="6.5"/><line x1="326.4" y1="344.8" x2="337.4" y2="351.3" stroke="#f4b070" stroke-width="6.5"/><line x1="337.4" y1="351.3" x2="342.9" y2="343.9" stroke="#f4b070" stroke-width="6.5"/><line x1="342.9" y1="343.9" x2="348.5" y2="336.5" stroke="#f29292" stroke-width="6.5"/><line x1="258.0" y1="332.8" x2="253.4" y2="323.6" stroke="#f4f078" stroke-width="6.5"/><line x1="253.4" y1="323.6" x2="248.8" y2="314.3" stroke="#f29292" stroke-width="6.5"/><line x1="280.2" y1="331.0" x2="277.4" y2="323.6" stroke="#f4f078" stroke-width="6.5"/><line x1="277.4" y1="323.6" x2="274.6" y2="316.2" stroke="#f29292" stroke-width="6.5"/><line x1="337.4" y1="351.3" x2="339.2" y2="362.4" stroke="#f4b070" stroke-width="6.5"/><line x1="339.2" y1="362.4" x2="341.1" y2="373.4" stroke="#f29292" stroke-width="6.5"/><line x1="337.4" y1="351.3" x2="329.7" y2="357.6" stroke="#f4b070" stroke-width="6.5"/><line x1="329.7" y1="357.6" x2="322.0" y2="364.0" stroke="#f29292" stroke-width="6.5"/></g><g stroke-linecap="round" fill="none"><line x1="131.9" y1="271.7" x2="146.0" y2="283.0" stroke="#5c5a10" stroke-width="7.4"/><line x1="146.0" y1="283.0" x2="160.0" y2="296.0" stroke="#5c5a10" stroke-width="7.4"/><line x1="160.0" y1="296.0" x2="169.0" y2="304.0" stroke="#222" stroke-width="7.4"/><line x1="169.0" y1="304.0" x2="180.0" y2="315.0" stroke="#222" stroke-width="7.4"/><line x1="180.0" y1="315.0" x2="195.0" y2="318.0" stroke="#222" stroke-width="7.4"/><line x1="195.0" y1="318.0" x2="207.0" y2="331.0" stroke="#222" stroke-width="7.4"/><line x1="207.0" y1="331.0" x2="218.5" y2="351.0" stroke="#5c5a10" stroke-width="7.4"/><line x1="136.0" y1="280.0" x2="152.0" y2="294.0" stroke="#5c5a10" stroke-width="7.4"/><line x1="152.0" y1="294.0" x2="166.0" y2="309.0" stroke="#5c5a10" stroke-width="7.4"/><line x1="166.0" y1="309.0" x2="182.0" y2="326.0" stroke="#5c5a10" stroke-width="7.4"/><line x1="182.0" y1="326.0" x2="198.0" y2="338.0" stroke="#222" stroke-width="7.4"/><line x1="198.0" y1="338.0" x2="210.0" y2="346.0" stroke="#222" stroke-width="7.4"/><line x1="142.0" y1="272.0" x2="154.0" y2="281.0" stroke="#5c5a10" stroke-width="7.4"/><line x1="154.0" y1="281.0" x2="166.0" y2="292.0" stroke="#5c5a10" stroke-width="7.4"/><line x1="166.0" y1="292.0" x2="176.0" y2="299.0" stroke="#222" stroke-width="7.4"/><line x1="176.0" y1="299.0" x2="190.0" y2="306.0" stroke="#222" stroke-width="7.4"/><line x1="190.0" y1="306.0" x2="203.0" y2="318.0" stroke="#222" stroke-width="7.4"/><line x1="203.0" y1="318.0" x2="214.0" y2="334.0" stroke="#222" stroke-width="7.4"/><line x1="150.0" y1="300.0" x2="160.0" y2="314.0" stroke="#5c5a10" stroke-width="7.4"/><line x1="160.0" y1="314.0" x2="176.0" y2="326.0" stroke="#222" stroke-width="7.4"/><line x1="176.0" y1="326.0" x2="190.0" y2="336.0" stroke="#222" stroke-width="7.4"/><line x1="190.0" y1="336.0" x2="202.0" y2="346.0" stroke="#5c5a10" stroke-width="7.4"/><line x1="174.4" y1="291.5" x2="183.3" y2="303.3" stroke="#222" stroke-width="7.4"/><line x1="218.5" y1="351.0" x2="231.4" y2="349.1" stroke="#222" stroke-width="7.4"/><line x1="218.5" y1="351.0" x2="248.0" y2="328.8" stroke="#5c5a10" stroke-width="7.4"/><line x1="248.0" y1="328.8" x2="270.2" y2="327.0" stroke="#5c5a10" stroke-width="7.4"/><line x1="270.2" y1="327.0" x2="286.8" y2="343.6" stroke="#5c5a10" stroke-width="7.4"/><line x1="286.8" y1="343.6" x2="305.3" y2="334.3" stroke="#222" stroke-width="7.4"/><line x1="305.3" y1="334.3" x2="327.4" y2="347.3" stroke="#222" stroke-width="7.4"/><line x1="327.4" y1="347.3" x2="338.5" y2="332.5" stroke="#222" stroke-width="7.4"/><line x1="248.0" y1="328.8" x2="238.8" y2="310.3" stroke="#222" stroke-width="7.4"/><line x1="270.2" y1="327.0" x2="264.6" y2="312.2" stroke="#222" stroke-width="7.4"/><line x1="327.4" y1="347.3" x2="331.1" y2="369.4" stroke="#222" stroke-width="7.4"/><line x1="327.4" y1="347.3" x2="312.0" y2="360.0" stroke="#222" stroke-width="7.4"/><line x1="131.9" y1="271.7" x2="146.0" y2="283.0" stroke="#e6e02c" stroke-width="5.8"/><line x1="146.0" y1="283.0" x2="160.0" y2="296.0" stroke="#e6e02c" stroke-width="5.8"/><line x1="160.0" y1="296.0" x2="164.5" y2="300.0" stroke="#e6e02c" stroke-width="5.8"/><line x1="164.5" y1="300.0" x2="169.0" y2="304.0" stroke="#2b33a6" stroke-width="5.8"/><line x1="169.0" y1="304.0" x2="174.5" y2="309.5" stroke="#2b33a6" stroke-width="5.8"/><line x1="174.5" y1="309.5" x2="180.0" y2="315.0" stroke="#e6e02c" stroke-width="5.8"/><line x1="180.0" y1="315.0" x2="187.5" y2="316.5" stroke="#e6e02c" stroke-width="5.8"/><line x1="187.5" y1="316.5" x2="195.0" y2="318.0" stroke="#2b33a6" stroke-width="5.8"/><line x1="195.0" y1="318.0" x2="201.0" y2="324.5" stroke="#2b33a6" stroke-width="5.8"/><line x1="201.0" y1="324.5" x2="207.0" y2="331.0" stroke="#e6e02c" stroke-width="5.8"/><line x1="207.0" y1="331.0" x2="218.5" y2="351.0" stroke="#e6e02c" stroke-width="5.8"/><line x1="136.0" y1="280.0" x2="152.0" y2="294.0" stroke="#e6e02c" stroke-width="5.8"/><line x1="152.0" y1="294.0" x2="166.0" y2="309.0" stroke="#e6e02c" stroke-width="5.8"/><line x1="166.0" y1="309.0" x2="182.0" y2="326.0" stroke="#e6e02c" stroke-width="5.8"/><line x1="182.0" y1="326.0" x2="190.0" y2="332.0" stroke="#e6e02c" stroke-width="5.8"/><line x1="190.0" y1="332.0" x2="198.0" y2="338.0" stroke="#2b33a6" stroke-width="5.8"/><line x1="198.0" y1="338.0" x2="204.0" y2="342.0" stroke="#2b33a6" stroke-width="5.8"/><line x1="204.0" y1="342.0" x2="210.0" y2="346.0" stroke="#e6e02c" stroke-width="5.8"/><line x1="142.0" y1="272.0" x2="154.0" y2="281.0" stroke="#e6e02c" stroke-width="5.8"/><line x1="154.0" y1="281.0" x2="166.0" y2="292.0" stroke="#e6e02c" stroke-width="5.8"/><line x1="166.0" y1="292.0" x2="171.0" y2="295.5" stroke="#e6e02c" stroke-width="5.8"/><line x1="171.0" y1="295.5" x2="176.0" y2="299.0" stroke="#2b33a6" stroke-width="5.8"/><line x1="176.0" y1="299.0" x2="183.0" y2="302.5" stroke="#2b33a6" stroke-width="5.8"/><line x1="183.0" y1="302.5" x2="190.0" y2="306.0" stroke="#e6e02c" stroke-width="5.8"/><line x1="190.0" y1="306.0" x2="196.5" y2="312.0" stroke="#e6e02c" stroke-width="5.8"/><line x1="196.5" y1="312.0" x2="203.0" y2="318.0" stroke="#2b33a6" stroke-width="5.8"/><line x1="203.0" y1="318.0" x2="208.5" y2="326.0" stroke="#2b33a6" stroke-width="5.8"/><line x1="208.5" y1="326.0" x2="214.0" y2="334.0" stroke="#e6e02c" stroke-width="5.8"/><line x1="150.0" y1="300.0" x2="160.0" y2="314.0" stroke="#e6e02c" stroke-width="5.8"/><line x1="160.0" y1="314.0" x2="168.0" y2="320.0" stroke="#e6e02c" stroke-width="5.8"/><line x1="168.0" y1="320.0" x2="176.0" y2="326.0" stroke="#2b33a6" stroke-width="5.8"/><line x1="176.0" y1="326.0" x2="183.0" y2="331.0" stroke="#2b33a6" stroke-width="5.8"/><line x1="183.0" y1="331.0" x2="190.0" y2="336.0" stroke="#e6e02c" stroke-width="5.8"/><line x1="190.0" y1="336.0" x2="202.0" y2="346.0" stroke="#e6e02c" stroke-width="5.8"/><line x1="174.4" y1="291.5" x2="178.9" y2="297.4" stroke="#d8302e" stroke-width="5.8"/><line x1="178.9" y1="297.4" x2="183.3" y2="303.3" stroke="#e6e02c" stroke-width="5.8"/><line x1="218.5" y1="351.0" x2="224.9" y2="350.1" stroke="#e6e02c" stroke-width="5.8"/><line x1="224.9" y1="350.1" x2="231.4" y2="349.1" stroke="#d8302e" stroke-width="5.8"/><line x1="218.5" y1="351.0" x2="248.0" y2="328.8" stroke="#e6e02c" stroke-width="5.8"/><line x1="248.0" y1="328.8" x2="270.2" y2="327.0" stroke="#e6e02c" stroke-width="5.8"/><line x1="270.2" y1="327.0" x2="286.8" y2="343.6" stroke="#e6e02c" stroke-width="5.8"/><line x1="286.8" y1="343.6" x2="296.1" y2="339.0" stroke="#e6e02c" stroke-width="5.8"/><line x1="296.1" y1="339.0" x2="305.3" y2="334.3" stroke="#d8302e" stroke-width="5.8"/><line x1="305.3" y1="334.3" x2="316.4" y2="340.8" stroke="#d8302e" stroke-width="5.8"/><line x1="316.4" y1="340.8" x2="327.4" y2="347.3" stroke="#ea8a1e" stroke-width="5.8"/><line x1="327.4" y1="347.3" x2="332.9" y2="339.9" stroke="#ea8a1e" stroke-width="5.8"/><line x1="332.9" y1="339.9" x2="338.5" y2="332.5" stroke="#d8302e" stroke-width="5.8"/><line x1="248.0" y1="328.8" x2="243.4" y2="319.6" stroke="#e6e02c" stroke-width="5.8"/><line x1="243.4" y1="319.6" x2="238.8" y2="310.3" stroke="#d8302e" stroke-width="5.8"/><line x1="270.2" y1="327.0" x2="267.4" y2="319.6" stroke="#e6e02c" stroke-width="5.8"/><line x1="267.4" y1="319.6" x2="264.6" y2="312.2" stroke="#d8302e" stroke-width="5.8"/><line x1="327.4" y1="347.3" x2="329.2" y2="358.4" stroke="#ea8a1e" stroke-width="5.8"/><line x1="329.2" y1="358.4" x2="331.1" y2="369.4" stroke="#d8302e" stroke-width="5.8"/><line x1="327.4" y1="347.3" x2="319.7" y2="353.6" stroke="#ea8a1e" stroke-width="5.8"/><line x1="319.7" y1="353.6" x2="312.0" y2="360.0" stroke="#d8302e" stroke-width="5.8"/><g opacity="0.55"><line x1="131.0" y1="270.8" x2="145.1" y2="282.1" stroke="#fbf8a0" stroke-width="1.7"/><line x1="145.1" y1="282.1" x2="159.1" y2="295.1" stroke="#fbf8a0" stroke-width="1.7"/><line x1="159.1" y1="295.1" x2="163.6" y2="299.1" stroke="#fbf8a0" stroke-width="1.7"/><line x1="163.6" y1="299.1" x2="168.1" y2="303.1" stroke="#6a70d8" stroke-width="1.7"/><line x1="168.1" y1="303.1" x2="173.6" y2="308.6" stroke="#6a70d8" stroke-width="1.7"/><line x1="173.6" y1="308.6" x2="179.1" y2="314.1" stroke="#fbf8a0" stroke-width="1.7"/><line x1="179.1" y1="314.1" x2="186.6" y2="315.6" stroke="#fbf8a0" stroke-width="1.7"/><line x1="186.6" y1="315.6" x2="194.1" y2="317.1" stroke="#6a70d8" stroke-width="1.7"/><line x1="194.1" y1="317.1" x2="200.1" y2="323.6" stroke="#6a70d8" stroke-width="1.7"/><line x1="200.1" y1="323.6" x2="206.1" y2="330.1" stroke="#fbf8a0" stroke-width="1.7"/><line x1="206.1" y1="330.1" x2="217.6" y2="350.1" stroke="#fbf8a0" stroke-width="1.7"/><line x1="135.1" y1="279.1" x2="151.1" y2="293.1" stroke="#fbf8a0" stroke-width="1.7"/><line x1="151.1" y1="293.1" x2="165.1" y2="308.1" stroke="#fbf8a0" stroke-width="1.7"/><line x1="165.1" y1="308.1" x2="181.1" y2="325.1" stroke="#fbf8a0" stroke-width="1.7"/><line x1="181.1" y1="325.1" x2="189.1" y2="331.1" stroke="#fbf8a0" stroke-width="1.7"/><line x1="189.1" y1="331.1" x2="197.1" y2="337.1" stroke="#6a70d8" stroke-width="1.7"/><line x1="197.1" y1="337.1" x2="203.1" y2="341.1" stroke="#6a70d8" stroke-width="1.7"/><line x1="203.1" y1="341.1" x2="209.1" y2="345.1" stroke="#fbf8a0" stroke-width="1.7"/><line x1="141.1" y1="271.1" x2="153.1" y2="280.1" stroke="#fbf8a0" stroke-width="1.7"/><line x1="153.1" y1="280.1" x2="165.1" y2="291.1" stroke="#fbf8a0" stroke-width="1.7"/><line x1="165.1" y1="291.1" x2="170.1" y2="294.6" stroke="#fbf8a0" stroke-width="1.7"/><line x1="170.1" y1="294.6" x2="175.1" y2="298.1" stroke="#6a70d8" stroke-width="1.7"/><line x1="175.1" y1="298.1" x2="182.1" y2="301.6" stroke="#6a70d8" stroke-width="1.7"/><line x1="182.1" y1="301.6" x2="189.1" y2="305.1" stroke="#fbf8a0" stroke-width="1.7"/><line x1="189.1" y1="305.1" x2="195.6" y2="311.1" stroke="#fbf8a0" stroke-width="1.7"/><line x1="195.6" y1="311.1" x2="202.1" y2="317.1" stroke="#6a70d8" stroke-width="1.7"/><line x1="202.1" y1="317.1" x2="207.6" y2="325.1" stroke="#6a70d8" stroke-width="1.7"/><line x1="207.6" y1="325.1" x2="213.1" y2="333.1" stroke="#fbf8a0" stroke-width="1.7"/><line x1="149.1" y1="299.1" x2="159.1" y2="313.1" stroke="#fbf8a0" stroke-width="1.7"/><line x1="159.1" y1="313.1" x2="167.1" y2="319.1" stroke="#fbf8a0" stroke-width="1.7"/><line x1="167.1" y1="319.1" x2="175.1" y2="325.1" stroke="#6a70d8" stroke-width="1.7"/><line x1="175.1" y1="325.1" x2="182.1" y2="330.1" stroke="#6a70d8" stroke-width="1.7"/><line x1="182.1" y1="330.1" x2="189.1" y2="335.1" stroke="#fbf8a0" stroke-width="1.7"/><line x1="189.1" y1="335.1" x2="201.1" y2="345.1" stroke="#fbf8a0" stroke-width="1.7"/><line x1="173.5" y1="290.6" x2="177.9" y2="296.5" stroke="#f08a88" stroke-width="1.7"/><line x1="177.9" y1="296.5" x2="182.4" y2="302.4" stroke="#fbf8a0" stroke-width="1.7"/><line x1="217.6" y1="350.1" x2="224.0" y2="349.1" stroke="#fbf8a0" stroke-width="1.7"/><line x1="224.0" y1="349.1" x2="230.5" y2="348.2" stroke="#f08a88" stroke-width="1.7"/><line x1="217.6" y1="350.1" x2="247.1" y2="327.9" stroke="#fbf8a0" stroke-width="1.7"/><line x1="247.1" y1="327.9" x2="269.3" y2="326.1" stroke="#fbf8a0" stroke-width="1.7"/><line x1="269.3" y1="326.1" x2="285.9" y2="342.7" stroke="#fbf8a0" stroke-width="1.7"/><line x1="285.9" y1="342.7" x2="295.1" y2="338.0" stroke="#fbf8a0" stroke-width="1.7"/><line x1="295.1" y1="338.0" x2="304.4" y2="333.4" stroke="#f08a88" stroke-width="1.7"/><line x1="304.4" y1="333.4" x2="315.4" y2="339.9" stroke="#f08a88" stroke-width="1.7"/><line x1="315.4" y1="339.9" x2="326.5" y2="346.4" stroke="#f8c070" stroke-width="1.7"/><line x1="326.5" y1="346.4" x2="332.0" y2="339.0" stroke="#f8c070" stroke-width="1.7"/><line x1="332.0" y1="339.0" x2="337.6" y2="331.6" stroke="#f08a88" stroke-width="1.7"/><line x1="247.1" y1="327.9" x2="242.5" y2="318.6" stroke="#fbf8a0" stroke-width="1.7"/><line x1="242.5" y1="318.6" x2="237.9" y2="309.4" stroke="#f08a88" stroke-width="1.7"/><line x1="269.3" y1="326.1" x2="266.5" y2="318.7" stroke="#fbf8a0" stroke-width="1.7"/><line x1="266.5" y1="318.7" x2="263.7" y2="311.3" stroke="#f08a88" stroke-width="1.7"/><line x1="326.5" y1="346.4" x2="328.3" y2="357.4" stroke="#f8c070" stroke-width="1.7"/><line x1="328.3" y1="357.4" x2="330.2" y2="368.5" stroke="#f08a88" stroke-width="1.7"/><line x1="326.5" y1="346.4" x2="318.8" y2="352.7" stroke="#f8c070" stroke-width="1.7"/><line x1="318.8" y1="352.7" x2="311.1" y2="359.1" stroke="#f08a88" stroke-width="1.7"/></g></g><g stroke-linecap="round" fill="none"><line x1="165.8" y1="299.8" x2="175.7" y2="305.7" stroke="#141650" stroke-width="7.8"/><line x1="174.7" y1="291.9" x2="182.6" y2="302.7" stroke="#6a1414" stroke-width="7.8"/><line x1="182.6" y1="302.7" x2="188.0" y2="310.0" stroke="#5c5a10" stroke-width="7.8"/><line x1="165.8" y1="299.8" x2="175.7" y2="305.7" stroke="#2b33a6" stroke-width="6.2"/><line x1="174.7" y1="291.9" x2="182.6" y2="302.7" stroke="#d8302e" stroke-width="6.2"/><line x1="182.6" y1="302.7" x2="188.0" y2="310.0" stroke="#e6e02c" stroke-width="6.2"/><g opacity="0.55"><line x1="164.8" y1="298.8" x2="174.7" y2="304.7" stroke="#6a70d8" stroke-width="1.9"/><line x1="173.7" y1="290.9" x2="181.6" y2="301.7" stroke="#f08a88" stroke-width="1.9"/><line x1="181.6" y1="301.7" x2="187.0" y2="309.0" stroke="#fbf8a0" stroke-width="1.9"/></g></g><line x1="229" y1="347" x2="240" y2="356" stroke="#d8302e" stroke-width="3" stroke-linecap="round"/><polygon points="262,384 274,388 300,410 314,430 304,438 292,448 268,444 260,428 258,402" fill="#2f932f"/><g stroke-linecap="round" fill="none"><line x1="261.4" y1="381.4" x2="300.0" y2="410.9" stroke="#1a5a1a" stroke-width="7.9"/><line x1="270.5" y1="390.5" x2="293.2" y2="420.0" stroke="#1a5a1a" stroke-width="7.9"/><line x1="273.9" y1="393.9" x2="302.3" y2="424.5" stroke="#1a5a1a" stroke-width="7.9"/><line x1="260.2" y1="399.5" x2="288.6" y2="426.8" stroke="#1a5a1a" stroke-width="7.9"/><line x1="264.8" y1="404.0" x2="284.0" y2="420.0" stroke="#1a5a1a" stroke-width="7.9"/><line x1="263.6" y1="413.2" x2="281.8" y2="429.1" stroke="#1a5a1a" stroke-width="7.9"/><line x1="277.0" y1="399.0" x2="300.0" y2="420.0" stroke="#1a5a1a" stroke-width="7.9"/><line x1="268.0" y1="420.0" x2="295.0" y2="441.0" stroke="#1a5a1a" stroke-width="7.9"/><line x1="286.4" y1="413.2" x2="315.9" y2="434.8" stroke="#1a5a1a" stroke-width="7.9"/><line x1="261.4" y1="424.5" x2="293.2" y2="447.3" stroke="#1a5a1a" stroke-width="7.9"/><line x1="265.9" y1="435.9" x2="281.8" y2="445.0" stroke="#1a5a1a" stroke-width="7.9"/><line x1="293.2" y1="422.3" x2="302.3" y2="435.9" stroke="#1a5a1a" stroke-width="7.9"/><line x1="284.0" y1="420.0" x2="272.7" y2="432.5" stroke="#1a5a1a" stroke-width="7.9"/><line x1="261.4" y1="381.4" x2="300.0" y2="410.9" stroke="#3cb43c" stroke-width="6.3"/><line x1="270.5" y1="390.5" x2="293.2" y2="420.0" stroke="#3cb43c" stroke-width="6.3"/><line x1="273.9" y1="393.9" x2="302.3" y2="424.5" stroke="#3cb43c" stroke-width="6.3"/><line x1="260.2" y1="399.5" x2="288.6" y2="426.8" stroke="#3cb43c" stroke-width="6.3"/><line x1="264.8" y1="404.0" x2="284.0" y2="420.0" stroke="#3cb43c" stroke-width="6.3"/><line x1="263.6" y1="413.2" x2="281.8" y2="429.1" stroke="#3cb43c" stroke-width="6.3"/><line x1="277.0" y1="399.0" x2="300.0" y2="420.0" stroke="#3cb43c" stroke-width="6.3"/><line x1="268.0" y1="420.0" x2="295.0" y2="441.0" stroke="#3cb43c" stroke-width="6.3"/><line x1="286.4" y1="413.2" x2="315.9" y2="434.8" stroke="#3cb43c" stroke-width="6.3"/><line x1="261.4" y1="424.5" x2="293.2" y2="447.3" stroke="#3cb43c" stroke-width="6.3"/><line x1="265.9" y1="435.9" x2="281.8" y2="445.0" stroke="#3cb43c" stroke-width="6.3"/><line x1="293.2" y1="422.3" x2="302.3" y2="435.9" stroke="#3cb43c" stroke-width="6.3"/><line x1="284.0" y1="420.0" x2="272.7" y2="432.5" stroke="#3cb43c" stroke-width="6.3"/><g opacity="0.55"><line x1="260.4" y1="380.4" x2="299.0" y2="409.9" stroke="#8ee08e" stroke-width="1.9"/><line x1="269.5" y1="389.5" x2="292.2" y2="419.0" stroke="#8ee08e" stroke-width="1.9"/><line x1="272.9" y1="392.9" x2="301.3" y2="423.5" stroke="#8ee08e" stroke-width="1.9"/><line x1="259.2" y1="398.5" x2="287.6" y2="425.8" stroke="#8ee08e" stroke-width="1.9"/><line x1="263.8" y1="403.0" x2="283.0" y2="419.0" stroke="#8ee08e" stroke-width="1.9"/><line x1="262.6" y1="412.2" x2="280.8" y2="428.1" stroke="#8ee08e" stroke-width="1.9"/><line x1="276.0" y1="398.0" x2="299.0" y2="419.0" stroke="#8ee08e" stroke-width="1.9"/><line x1="267.0" y1="419.0" x2="294.0" y2="440.0" stroke="#8ee08e" stroke-width="1.9"/><line x1="285.4" y1="412.2" x2="314.9" y2="433.8" stroke="#8ee08e" stroke-width="1.9"/><line x1="260.4" y1="423.5" x2="292.2" y2="446.3" stroke="#8ee08e" stroke-width="1.9"/><line x1="264.9" y1="434.9" x2="280.8" y2="444.0" stroke="#8ee08e" stroke-width="1.9"/><line x1="292.2" y1="421.3" x2="301.3" y2="434.9" stroke="#8ee08e" stroke-width="1.9"/><line x1="283.0" y1="419.0" x2="271.7" y2="431.5" stroke="#8ee08e" stroke-width="1.9"/></g></g><g stroke-linecap="round"><line x1="82.6" y1="315.6" x2="86.0" y2="315.0" stroke="#7a7a1a" stroke-width="3.0"/><line x1="90.0" y1="314.3" x2="93.4" y2="313.7" stroke="#7a7a1a" stroke-width="3.0"/><line x1="97.5" y1="313.0" x2="100.8" y2="312.4" stroke="#7a7a1a" stroke-width="3.0"/><line x1="104.9" y1="311.7" x2="108.2" y2="311.1" stroke="#7a7a1a" stroke-width="3.0"/><line x1="112.3" y1="310.4" x2="115.6" y2="309.8" stroke="#7a7a1a" stroke-width="3.0"/><line x1="119.7" y1="309.1" x2="123.0" y2="308.5" stroke="#7a7a1a" stroke-width="3.0"/><line x1="127.1" y1="307.8" x2="130.5" y2="307.2" stroke="#7a7a1a" stroke-width="3.0"/><line x1="134.5" y1="306.4" x2="137.9" y2="305.9" stroke="#7a7a1a" stroke-width="3.0"/><line x1="142.0" y1="305.1" x2="145.3" y2="304.6" stroke="#7a7a1a" stroke-width="3.0"/><line x1="149.4" y1="303.8" x2="152.7" y2="303.2" stroke="#7a7a1a" stroke-width="3.0"/><line x1="156.8" y1="302.5" x2="160.1" y2="301.9" stroke="#7a7a1a" stroke-width="3.0"/><line x1="164.2" y1="301.2" x2="167.5" y2="300.6" stroke="#7a7a1a" stroke-width="3.0"/><line x1="82.6" y1="315.6" x2="86.0" y2="315.0" stroke="#dcd83c" stroke-width="2.0"/><line x1="90.0" y1="314.3" x2="93.4" y2="313.7" stroke="#dcd83c" stroke-width="2.0"/><line x1="97.5" y1="313.0" x2="100.8" y2="312.4" stroke="#dcd83c" stroke-width="2.0"/><line x1="104.9" y1="311.7" x2="108.2" y2="311.1" stroke="#dcd83c" stroke-width="2.0"/><line x1="112.3" y1="310.4" x2="115.6" y2="309.8" stroke="#dcd83c" stroke-width="2.0"/><line x1="119.7" y1="309.1" x2="123.0" y2="308.5" stroke="#dcd83c" stroke-width="2.0"/><line x1="127.1" y1="307.8" x2="130.5" y2="307.2" stroke="#dcd83c" stroke-width="2.0"/><line x1="134.5" y1="306.4" x2="137.9" y2="305.9" stroke="#dcd83c" stroke-width="2.0"/><line x1="142.0" y1="305.1" x2="145.3" y2="304.6" stroke="#dcd83c" stroke-width="2.0"/><line x1="149.4" y1="303.8" x2="152.7" y2="303.2" stroke="#dcd83c" stroke-width="2.0"/><line x1="156.8" y1="302.5" x2="160.1" y2="301.9" stroke="#dcd83c" stroke-width="2.0"/><line x1="164.2" y1="301.2" x2="167.5" y2="300.6" stroke="#dcd83c" stroke-width="2.0"/></g><circle cx="80.4" cy="316.0" r="3.3" fill="#e0dc50" stroke="#3a3a10" stroke-width="1"/><circle cx="169.4" cy="300.3" r="3.3" fill="#e0dc50" stroke="#3a3a10" stroke-width="1"/><g font-size="12.6" fill="#111"><text x="211.6" y="287.2">FAD</text><text x="128.6" y="325.2">6.9 Å</text><text x="113.6" y="468.4">NADH</text><text x="320.2" y="456.2">L143</text></g></g><g><g clip-path="url(#cpE)"><g fill="none" stroke-linecap="round" opacity="0.50"><path transform="translate(0.0 0.0)" d="M397,272 C410,276 425,285 434,300 C436,310 432,318 428,320" stroke="#d6d6d6" stroke-width="5.8"/><path transform="translate(0.0 0.0)" d="M397,272 C410,276 425,285 434,300 C436,310 432,318 428,320" stroke="#f6f6f6" stroke-width="4.5"/><path transform="translate(0.0 6.0)" d="M397,272 C410,276 425,285 434,300 C436,310 432,318 428,320" stroke="#d6d6d6" stroke-width="5.8"/><path transform="translate(0.0 6.0)" d="M397,272 C410,276 425,285 434,300 C436,310 432,318 428,320" stroke="#f6f6f6" stroke-width="4.5"/><path transform="translate(0.0 12.0)" d="M397,272 C410,276 425,285 434,300 C436,310 432,318 428,320" stroke="#d6d6d6" stroke-width="5.8"/><path transform="translate(0.0 12.0)" d="M397,272 C410,276 425,285 434,300 C436,310 432,318 428,320" stroke="#f6f6f6" stroke-width="4.5"/><path transform="translate(0.0 18.0)" d="M397,272 C410,276 425,285 434,300 C436,310 432,318 428,320" stroke="#d6d6d6" stroke-width="5.8"/><path transform="translate(0.0 18.0)" d="M397,272 C410,276 425,285 434,300 C436,310 432,318 428,320" stroke="#f6f6f6" stroke-width="4.5"/><path transform="translate(0.0 24.0)" d="M397,272 C410,276 425,285 434,300 C436,310 432,318 428,320" stroke="#d6d6d6" stroke-width="5.8"/><path transform="translate(0.0 24.0)" d="M397,272 C410,276 425,285 434,300 C436,310 432,318 428,320" stroke="#f6f6f6" stroke-width="4.5"/></g><g fill="none" stroke-linecap="round" opacity="1.00"><path transform="translate(0.0 0.0)" d="M397,344 C418,348 428,368 428,392 C428,414 412,430 397,434" stroke="#d8d8d8" stroke-width="7.3"/><path transform="translate(0.0 0.0)" d="M397,344 C418,348 428,368 428,392 C428,414 412,430 397,434" stroke="#f7f7f7" stroke-width="6.0"/><path transform="translate(4.0 3.0)" d="M397,344 C418,348 428,368 428,392 C428,414 412,430 397,434" stroke="#d8d8d8" stroke-width="7.3"/><path transform="translate(4.0 3.0)" d="M397,344 C418,348 428,368 428,392 C428,414 412,430 397,434" stroke="#f7f7f7" stroke-width="6.0"/><path transform="translate(8.0 6.0)" d="M397,344 C418,348 428,368 428,392 C428,414 412,430 397,434" stroke="#d8d8d8" stroke-width="7.3"/><path transform="translate(8.0 6.0)" d="M397,344 C418,348 428,368 428,392 C428,414 412,430 397,434" stroke="#f7f7f7" stroke-width="6.0"/><path transform="translate(-4.0 -3.0)" d="M397,344 C418,348 428,368 428,392 C428,414 412,430 397,434" stroke="#d8d8d8" stroke-width="7.3"/><path transform="translate(-4.0 -3.0)" d="M397,344 C418,348 428,368 428,392 C428,414 412,430 397,434" stroke="#f7f7f7" stroke-width="6.0"/><path transform="translate(-8.0 -6.0)" d="M397,344 C418,348 428,368 428,392 C428,414 412,430 397,434" stroke="#d8d8d8" stroke-width="7.3"/><path transform="translate(-8.0 -6.0)" d="M397,344 C418,348 428,368 428,392 C428,414 412,430 397,434" stroke="#f7f7f7" stroke-width="6.0"/><path transform="translate(12.0 9.0)" d="M397,344 C418,348 428,368 428,392 C428,414 412,430 397,434" stroke="#d8d8d8" stroke-width="7.3"/><path transform="translate(12.0 9.0)" d="M397,344 C418,348 428,368 428,392 C428,414 412,430 397,434" stroke="#f7f7f7" stroke-width="6.0"/></g><g fill="none" stroke-linecap="round" opacity="0.80"><path transform="translate(0.0 0.0)" d="M414,362 C430,352 448,344 468,340" stroke="#dadada" stroke-width="7.3"/><path transform="translate(0.0 0.0)" d="M414,362 C430,352 448,344 468,340" stroke="#f8f8f8" stroke-width="6.0"/><path transform="translate(2.0 8.0)" d="M414,362 C430,352 448,344 468,340" stroke="#dadada" stroke-width="7.3"/><path transform="translate(2.0 8.0)" d="M414,362 C430,352 448,344 468,340" stroke="#f8f8f8" stroke-width="6.0"/><path transform="translate(4.0 16.0)" d="M414,362 C430,352 448,344 468,340" stroke="#dadada" stroke-width="7.3"/><path transform="translate(4.0 16.0)" d="M414,362 C430,352 448,344 468,340" stroke="#f8f8f8" stroke-width="6.0"/><path transform="translate(6.0 24.0)" d="M414,362 C430,352 448,344 468,340" stroke="#dadada" stroke-width="7.3"/><path transform="translate(6.0 24.0)" d="M414,362 C430,352 448,344 468,340" stroke="#f8f8f8" stroke-width="6.0"/><path transform="translate(8.0 32.0)" d="M414,362 C430,352 448,344 468,340" stroke="#dadada" stroke-width="7.3"/><path transform="translate(8.0 32.0)" d="M414,362 C430,352 448,344 468,340" stroke="#f8f8f8" stroke-width="6.0"/><path transform="translate(10.0 40.0)" d="M414,362 C430,352 448,344 468,340" stroke="#dadada" stroke-width="7.3"/><path transform="translate(10.0 40.0)" d="M414,362 C430,352 448,344 468,340" stroke="#f8f8f8" stroke-width="6.0"/></g><g fill="none" stroke-linecap="round" opacity="1.00"><path transform="translate(0.0 0.0)" d="M674,253 C680,272 690,292 702,296 C722,300 742,280 758,256" stroke="#d6d6d6" stroke-width="6.8"/><path transform="translate(0.0 0.0)" d="M674,253 C680,272 690,292 702,296 C722,300 742,280 758,256" stroke="#f6f6f6" stroke-width="5.5"/><path transform="translate(3.0 12.0)" d="M674,253 C680,272 690,292 702,296 C722,300 742,280 758,256" stroke="#d6d6d6" stroke-width="6.8"/><path transform="translate(3.0 12.0)" d="M674,253 C680,272 690,292 702,296 C722,300 742,280 758,256" stroke="#f6f6f6" stroke-width="5.5"/><path transform="translate(-4.0 24.0)" d="M674,253 C680,272 690,292 702,296 C722,300 742,280 758,256" stroke="#d6d6d6" stroke-width="6.8"/><path transform="translate(-4.0 24.0)" d="M674,253 C680,272 690,292 702,296 C722,300 742,280 758,256" stroke="#f6f6f6" stroke-width="5.5"/><path transform="translate(8.0 -4.0)" d="M674,253 C680,272 690,292 702,296 C722,300 742,280 758,256" stroke="#d6d6d6" stroke-width="6.8"/><path transform="translate(8.0 -4.0)" d="M674,253 C680,272 690,292 702,296 C722,300 742,280 758,256" stroke="#f6f6f6" stroke-width="5.5"/><path transform="translate(14.0 -8.0)" d="M674,253 C680,272 690,292 702,296 C722,300 742,280 758,256" stroke="#d6d6d6" stroke-width="6.8"/><path transform="translate(14.0 -8.0)" d="M674,253 C680,272 690,292 702,296 C722,300 742,280 758,256" stroke="#f6f6f6" stroke-width="5.5"/><path transform="translate(-3.0 6.0)" d="M674,253 C680,272 690,292 702,296 C722,300 742,280 758,256" stroke="#d6d6d6" stroke-width="6.8"/><path transform="translate(-3.0 6.0)" d="M674,253 C680,272 690,292 702,296 C722,300 742,280 758,256" stroke="#f6f6f6" stroke-width="5.5"/></g><g fill="none" stroke-linecap="round" opacity="0.80"><path transform="translate(0.0 0.0)" d="M716,244 C718,255 719,263 718,271" stroke="#d6d6d6" stroke-width="5.3"/><path transform="translate(0.0 0.0)" d="M716,244 C718,255 719,263 718,271" stroke="#f6f6f6" stroke-width="4.0"/><path transform="translate(4.0 0.0)" d="M716,244 C718,255 719,263 718,271" stroke="#d6d6d6" stroke-width="5.3"/><path transform="translate(4.0 0.0)" d="M716,244 C718,255 719,263 718,271" stroke="#f6f6f6" stroke-width="4.0"/></g><g fill="none" stroke-linecap="round" opacity="0.50"><path transform="translate(0.0 0.0)" d="M503,250 C525,246 550,246 572,250" stroke="#d6d6d6" stroke-width="6.3"/><path transform="translate(0.0 0.0)" d="M503,250 C525,246 550,246 572,250" stroke="#f6f6f6" stroke-width="5.0"/><path transform="translate(0.0 5.0)" d="M503,250 C525,246 550,246 572,250" stroke="#d6d6d6" stroke-width="6.3"/><path transform="translate(0.0 5.0)" d="M503,250 C525,246 550,246 572,250" stroke="#f6f6f6" stroke-width="5.0"/><path transform="translate(2.0 -4.0)" d="M503,250 C525,246 550,246 572,250" stroke="#d6d6d6" stroke-width="6.3"/><path transform="translate(2.0 -4.0)" d="M503,250 C525,246 550,246 572,250" stroke="#f6f6f6" stroke-width="5.0"/></g><g fill="none" stroke-linecap="round" opacity="0.85"><path transform="translate(0.0 0.0)" d="M760,285 C745,292 734,305 731,322 C729,338 730,350 733,362" stroke="#d6d6d6" stroke-width="6.3"/><path transform="translate(0.0 0.0)" d="M760,285 C745,292 734,305 731,322 C729,338 730,350 733,362" stroke="#f6f6f6" stroke-width="5.0"/><path transform="translate(6.0 -2.0)" d="M760,285 C745,292 734,305 731,322 C729,338 730,350 733,362" stroke="#d6d6d6" stroke-width="6.3"/><path transform="translate(6.0 -2.0)" d="M760,285 C745,292 734,305 731,322 C729,338 730,350 733,362" stroke="#f6f6f6" stroke-width="5.0"/><path transform="translate(12.0 -4.0)" d="M760,285 C745,292 734,305 731,322 C729,338 730,350 733,362" stroke="#d6d6d6" stroke-width="6.3"/><path transform="translate(12.0 -4.0)" d="M760,285 C745,292 734,305 731,322 C729,338 730,350 733,362" stroke="#f6f6f6" stroke-width="5.0"/><path transform="translate(18.0 -6.0)" d="M760,285 C745,292 734,305 731,322 C729,338 730,350 733,362" stroke="#d6d6d6" stroke-width="6.3"/><path transform="translate(18.0 -6.0)" d="M760,285 C745,292 734,305 731,322 C729,338 730,350 733,362" stroke="#f6f6f6" stroke-width="5.0"/></g><g fill="none" stroke-linecap="round" opacity="0.55"><path transform="translate(0.0 0.0)" d="M704,428 C720,436 738,450 758,462" stroke="#d6d6d6" stroke-width="6.3"/><path transform="translate(0.0 0.0)" d="M704,428 C720,436 738,450 758,462" stroke="#f6f6f6" stroke-width="5.0"/><path transform="translate(0.0 7.0)" d="M704,428 C720,436 738,450 758,462" stroke="#d6d6d6" stroke-width="6.3"/><path transform="translate(0.0 7.0)" d="M704,428 C720,436 738,450 758,462" stroke="#f6f6f6" stroke-width="5.0"/><path transform="translate(0.0 14.0)" d="M704,428 C720,436 738,450 758,462" stroke="#d6d6d6" stroke-width="6.3"/><path transform="translate(0.0 14.0)" d="M704,428 C720,436 738,450 758,462" stroke="#f6f6f6" stroke-width="5.0"/><path transform="translate(0.0 21.0)" d="M704,428 C720,436 738,450 758,462" stroke="#d6d6d6" stroke-width="6.3"/><path transform="translate(0.0 21.0)" d="M704,428 C720,436 738,450 758,462" stroke="#f6f6f6" stroke-width="5.0"/><path transform="translate(4.0 28.0)" d="M704,428 C720,436 738,450 758,462" stroke="#d6d6d6" stroke-width="6.3"/><path transform="translate(4.0 28.0)" d="M704,428 C720,436 738,450 758,462" stroke="#f6f6f6" stroke-width="5.0"/></g><g fill="none" stroke-linecap="round" opacity="0.60"><path transform="translate(0.0 0.0)" d="M602,452 C615,448 632,450 648,458" stroke="#d6d6d6" stroke-width="6.3"/><path transform="translate(0.0 0.0)" d="M602,452 C615,448 632,450 648,458" stroke="#f6f6f6" stroke-width="5.0"/><path transform="translate(0.0 7.0)" d="M602,452 C615,448 632,450 648,458" stroke="#d6d6d6" stroke-width="6.3"/><path transform="translate(0.0 7.0)" d="M602,452 C615,448 632,450 648,458" stroke="#f6f6f6" stroke-width="5.0"/><path transform="translate(0.0 14.0)" d="M602,452 C615,448 632,450 648,458" stroke="#d6d6d6" stroke-width="6.3"/><path transform="translate(0.0 14.0)" d="M602,452 C615,448 632,450 648,458" stroke="#f6f6f6" stroke-width="5.0"/></g></g><g fill="#d0d0d0" opacity="0.95" filter="url(#bl1)"><ellipse cx="410" cy="249" rx="13" ry="6" transform="rotate(15 410 249)"/><circle cx="417" cy="253" r="5"/></g><g fill="#bdbdbd" opacity="0.85" filter="url(#bl1)"><ellipse cx="412" cy="390" rx="5" ry="3.5"/><ellipse cx="408" cy="398" rx="5" ry="3.5"/><ellipse cx="414" cy="406" rx="5" ry="3.5"/><ellipse cx="407" cy="414" rx="4" ry="3.5"/><ellipse cx="402" cy="420" rx="3" ry="4"/></g><g fill="#d2d2d2" opacity="0.9" filter="url(#bl1)"><circle cx="674" cy="253" r="4.5"/><circle cx="676" cy="276" r="4.5"/><circle cx="669" cy="280" r="4.5"/><circle cx="666" cy="266" r="4"/></g><g fill="#cbe8c5" filter="url(#bl2)"><circle cx="666" cy="416" r="31"/><circle cx="663" cy="455" r="31"/><circle cx="684" cy="436" r="22"/><circle cx="648" cy="436" r="20"/></g><g fill="#e0f2dd" opacity="0.8" filter="url(#bl4)"><circle cx="675" cy="400" r="10"/></g><ellipse cx="700" cy="440" rx="6" ry="12" fill="#c8c8ec" opacity="0.6"/><g fill="none" stroke="#90dada" stroke-width="12.0" stroke-linecap="round" stroke-linejoin="round" opacity="0.50"><polyline points="478.0,300.0 480.0,340.0 490.0,370.0 486.0,400.0 480.0,430.0"/><polyline points="500.0,300.0 515.0,330.0 525.0,360.0 520.0,390.0 510.0,420.0"/><polyline points="470.0,310.0 470.0,350.0"/><polyline points="465.0,302.0 490.0,300.0 505.0,280.0"/></g><g fill="none" stroke="#f19a9a" stroke-width="7.0" stroke-linecap="round" stroke-linejoin="round" opacity="0.55"><polyline points="465.0,301.0 478.0,310.0"/><polyline points="500.0,262.0 510.0,275.0"/><polyline points="513.0,262.0 520.0,280.0"/><polyline points="531.0,294.0 538.0,310.0"/><polyline points="545.0,302.0 552.0,322.0"/><polyline points="568.0,292.0 575.0,312.0"/><polyline points="606.0,300.0 612.0,316.0"/><polyline points="580.0,300.0 590.0,320.0"/><polyline points="660.0,318.0 668.0,335.0"/><polyline points="672.0,320.0 680.0,340.0"/><polyline points="648.0,325.0 652.0,345.0"/><polyline points="700.0,335.0 715.0,345.0"/><polyline points="498.0,372.0 508.0,368.0"/><polyline points="510.0,405.0 518.0,420.0"/></g><g fill="none" stroke="#9a9ad8" stroke-width="9.0" stroke-linecap="round" stroke-linejoin="round" opacity="0.45"><polyline points="486.0,283.0 496.0,280.0"/><polyline points="520.0,264.0 530.0,262.0"/><polyline points="525.0,285.0 535.0,292.0"/><polyline points="560.0,330.0 580.0,350.0 590.0,375.0"/><polyline points="600.0,340.0 615.0,360.0"/></g><g fill="none" stroke="#f0ec80" stroke-width="10.0" stroke-linecap="round" stroke-linejoin="round" opacity="0.50"><polyline points="540.0,315.0 560.0,330.0 575.0,355.0 590.0,370.0 610.0,385.0"/><polyline points="535.0,330.0 555.0,350.0 565.0,372.0"/><polyline points="620.0,355.0 650.0,350.0 680.0,335.0 700.0,345.0"/><polyline points="660.0,360.0 690.0,372.0 720.0,370.0"/><polyline points="640.0,390.0 665.0,410.0"/></g><g fill="none" stroke="#f08a84" stroke-width="8.0" stroke-linecap="round" stroke-linejoin="round" opacity="0.50"><polyline points="445.0,420.0 460.0,440.0 470.0,470.0 475.0,490.0"/><polyline points="430.0,480.0 450.0,490.0 460.0,505.0"/><polyline points="455.0,410.0 470.0,415.0"/><polyline points="700.0,375.0 720.0,385.0 735.0,395.0"/><polyline points="690.0,390.0 710.0,400.0"/></g><polygon points="479,300 500,294 522,318 534,345 537,380 530,415 512,440 488,440 476,410 474,370 476,335" fill="#a6dede" opacity="0.55" filter="url(#bl1)"/><g stroke-linecap="round" opacity="0.70"><line x1="505.0" y1="398.0" x2="520.0" y2="420.0" stroke="#86d6d6" stroke-width="7.0"/><line x1="512.0" y1="385.0" x2="521.0" y2="392.5" stroke="#86d6d6" stroke-width="7.0"/><line x1="521.0" y1="392.5" x2="530.0" y2="400.0" stroke="#f29292" stroke-width="7.0"/><line x1="495.0" y1="410.0" x2="505.0" y2="430.0" stroke="#86d6d6" stroke-width="7.0"/><line x1="500.0" y1="420.0" x2="485.0" y2="440.0" stroke="#86d6d6" stroke-width="7.0"/><line x1="520.0" y1="350.0" x2="528.0" y2="345.0" stroke="#f29292" stroke-width="7.0"/><line x1="500.0" y1="372.0" x2="506.0" y2="368.0" stroke="#f29292" stroke-width="7.0"/></g><g stroke-linecap="round" opacity="0.75"><line x1="492.0" y1="251.0" x2="496.0" y2="258.5" stroke="#f29292" stroke-width="7.0"/><line x1="496.0" y1="258.5" x2="500.0" y2="266.0" stroke="#86d6d6" stroke-width="7.0"/><line x1="500.0" y1="266.0" x2="512.0" y2="265.0" stroke="#86d6d6" stroke-width="7.0"/><line x1="512.0" y1="265.0" x2="524.0" y2="264.0" stroke="#9c9ce0" stroke-width="7.0"/><line x1="497.0" y1="256.0" x2="500.5" y2="263.5" stroke="#f29292" stroke-width="7.0"/><line x1="500.5" y1="263.5" x2="504.0" y2="271.0" stroke="#86d6d6" stroke-width="7.0"/><line x1="504.0" y1="271.0" x2="516.0" y2="269.5" stroke="#86d6d6" stroke-width="7.0"/><line x1="516.0" y1="269.5" x2="528.0" y2="268.0" stroke="#9c9ce0" stroke-width="7.0"/><line x1="500.0" y1="266.0" x2="498.0" y2="290.0" stroke="#86d6d6" stroke-width="7.0"/><line x1="464.0" y1="272.0" x2="471.0" y2="277.5" stroke="#f29292" stroke-width="7.0"/><line x1="471.0" y1="277.5" x2="478.0" y2="283.0" stroke="#86d6d6" stroke-width="7.0"/><line x1="478.0" y1="283.0" x2="486.5" y2="283.0" stroke="#86d6d6" stroke-width="7.0"/><line x1="486.5" y1="283.0" x2="495.0" y2="283.0" stroke="#9c9ce0" stroke-width="7.0"/><line x1="478.0" y1="283.0" x2="482.0" y2="305.0" stroke="#86d6d6" stroke-width="7.0"/></g><g stroke-linecap="round" opacity="0.45"><line x1="503.2" y1="273.7" x2="505.1" y2="282.6" stroke="#f29292" stroke-width="6.5"/><line x1="505.1" y1="282.6" x2="507.1" y2="291.5" stroke="#86d6d6" stroke-width="6.5"/><line x1="507.1" y1="291.5" x2="518.0" y2="295.9" stroke="#86d6d6" stroke-width="6.5"/><line x1="518.0" y1="295.9" x2="528.9" y2="300.4" stroke="#9c9ce0" stroke-width="6.5"/><line x1="507.1" y1="291.5" x2="497.8" y2="317.2" stroke="#86d6d6" stroke-width="6.5"/><line x1="497.8" y1="317.2" x2="482.4" y2="315.3" stroke="#86d6d6" stroke-width="6.5"/><line x1="497.8" y1="317.2" x2="505.2" y2="339.0" stroke="#86d6d6" stroke-width="6.5"/><line x1="505.2" y1="339.0" x2="511.1" y2="347.7" stroke="#86d6d6" stroke-width="6.5"/><line x1="511.1" y1="347.7" x2="506.1" y2="354.6" stroke="#86d6d6" stroke-width="6.5"/><line x1="506.1" y1="354.6" x2="501.2" y2="361.5" stroke="#9c9ce0" stroke-width="6.5"/><line x1="501.2" y1="361.5" x2="493.3" y2="359.6" stroke="#9c9ce0" stroke-width="6.5"/><line x1="493.3" y1="359.6" x2="485.4" y2="357.6" stroke="#86d6d6" stroke-width="6.5"/><line x1="485.4" y1="357.6" x2="473.5" y2="333.9" stroke="#86d6d6" stroke-width="6.5"/><line x1="473.5" y1="333.9" x2="479.4" y2="322.0" stroke="#86d6d6" stroke-width="6.5"/><line x1="479.4" y1="322.0" x2="482.4" y2="315.3" stroke="#86d6d6" stroke-width="6.5"/><line x1="501.2" y1="361.5" x2="502.7" y2="371.5" stroke="#9c9ce0" stroke-width="6.5"/><line x1="502.7" y1="371.5" x2="504.2" y2="381.5" stroke="#86d6d6" stroke-width="6.5"/><line x1="504.2" y1="381.5" x2="505.8" y2="389.4" stroke="#86d6d6" stroke-width="6.5"/><line x1="505.8" y1="389.4" x2="483.6" y2="397.3" stroke="#86d6d6" stroke-width="6.5"/><line x1="483.6" y1="397.3" x2="466.2" y2="427.3" stroke="#86d6d6" stroke-width="6.5"/><line x1="466.2" y1="427.3" x2="462.2" y2="432.1" stroke="#86d6d6" stroke-width="6.5"/><line x1="462.2" y1="432.1" x2="458.3" y2="436.8" stroke="#f29292" stroke-width="6.5"/><line x1="505.8" y1="389.4" x2="504.2" y2="405.2" stroke="#86d6d6" stroke-width="6.5"/><line x1="504.2" y1="405.2" x2="499.4" y2="427.3" stroke="#86d6d6" stroke-width="6.5"/><line x1="499.4" y1="427.3" x2="493.0" y2="438.4" stroke="#86d6d6" stroke-width="6.5"/><line x1="493.0" y1="438.4" x2="486.8" y2="440.0" stroke="#86d6d6" stroke-width="6.5"/><line x1="486.8" y1="440.0" x2="488.4" y2="425.8" stroke="#86d6d6" stroke-width="6.5"/><line x1="488.4" y1="425.8" x2="475.7" y2="419.4" stroke="#86d6d6" stroke-width="6.5"/><line x1="483.6" y1="397.3" x2="488.4" y2="425.8" stroke="#86d6d6" stroke-width="6.5"/><line x1="504.2" y1="405.2" x2="497.1" y2="403.6" stroke="#86d6d6" stroke-width="6.5"/><line x1="497.1" y1="403.6" x2="489.9" y2="402.0" stroke="#f29292" stroke-width="6.5"/><line x1="458.3" y1="436.8" x2="453.1" y2="432.8" stroke="#f29292" stroke-width="6.5"/><line x1="453.1" y1="432.8" x2="447.8" y2="428.7" stroke="#f4b070" stroke-width="6.5"/><line x1="447.8" y1="428.7" x2="438.6" y2="421.2" stroke="#f4b070" stroke-width="6.5"/><line x1="438.6" y1="421.2" x2="429.4" y2="413.8" stroke="#f29292" stroke-width="6.5"/><line x1="447.8" y1="428.7" x2="445.0" y2="436.8" stroke="#f4b070" stroke-width="6.5"/><line x1="445.0" y1="436.8" x2="442.1" y2="444.8" stroke="#f29292" stroke-width="6.5"/><line x1="442.1" y1="444.8" x2="437.5" y2="457.4" stroke="#f29292" stroke-width="6.5"/><line x1="437.5" y1="457.4" x2="432.9" y2="470.0" stroke="#f4b070" stroke-width="6.5"/><line x1="432.9" y1="470.0" x2="432.9" y2="464.2" stroke="#f4b070" stroke-width="6.5"/><line x1="432.9" y1="464.2" x2="432.9" y2="458.5" stroke="#f29292" stroke-width="6.5"/><line x1="432.9" y1="470.0" x2="440.9" y2="480.4" stroke="#f4b070" stroke-width="6.5"/><line x1="440.9" y1="480.4" x2="449.0" y2="490.7" stroke="#f29292" stroke-width="6.5"/><line x1="432.9" y1="470.0" x2="418.5" y2="474.6" stroke="#f4b070" stroke-width="6.5"/><line x1="418.5" y1="474.6" x2="404.2" y2="479.2" stroke="#f29292" stroke-width="6.5"/><line x1="404.2" y1="479.2" x2="401.4" y2="483.8" stroke="#f29292" stroke-width="6.5"/><line x1="401.4" y1="483.8" x2="398.5" y2="488.4" stroke="#86d6d6" stroke-width="6.5"/><line x1="398.5" y1="488.4" x2="389.0" y2="492.0" stroke="#86d6d6" stroke-width="6.5"/><line x1="398.5" y1="488.4" x2="392.0" y2="502.0" stroke="#86d6d6" stroke-width="6.5"/></g><g stroke-linecap="round" opacity="0.35"><line x1="519.2" y1="277.7" x2="521.1" y2="286.6" stroke="#f29292" stroke-width="6.5"/><line x1="521.1" y1="286.6" x2="523.1" y2="295.5" stroke="#86d6d6" stroke-width="6.5"/><line x1="523.1" y1="295.5" x2="534.0" y2="299.9" stroke="#86d6d6" stroke-width="6.5"/><line x1="534.0" y1="299.9" x2="544.9" y2="304.4" stroke="#9c9ce0" stroke-width="6.5"/><line x1="523.1" y1="295.5" x2="513.8" y2="321.2" stroke="#86d6d6" stroke-width="6.5"/><line x1="513.8" y1="321.2" x2="498.4" y2="319.3" stroke="#86d6d6" stroke-width="6.5"/><line x1="513.8" y1="321.2" x2="521.2" y2="343.0" stroke="#86d6d6" stroke-width="6.5"/><line x1="521.2" y1="343.0" x2="527.1" y2="351.7" stroke="#86d6d6" stroke-width="6.5"/><line x1="527.1" y1="351.7" x2="522.1" y2="358.6" stroke="#86d6d6" stroke-width="6.5"/><line x1="522.1" y1="358.6" x2="517.2" y2="365.5" stroke="#9c9ce0" stroke-width="6.5"/><line x1="517.2" y1="365.5" x2="509.3" y2="363.6" stroke="#9c9ce0" stroke-width="6.5"/><line x1="509.3" y1="363.6" x2="501.4" y2="361.6" stroke="#86d6d6" stroke-width="6.5"/><line x1="501.4" y1="361.6" x2="489.5" y2="337.9" stroke="#86d6d6" stroke-width="6.5"/><line x1="489.5" y1="337.9" x2="495.4" y2="326.0" stroke="#86d6d6" stroke-width="6.5"/><line x1="495.4" y1="326.0" x2="498.4" y2="319.3" stroke="#86d6d6" stroke-width="6.5"/><line x1="517.2" y1="365.5" x2="518.7" y2="375.5" stroke="#9c9ce0" stroke-width="6.5"/><line x1="518.7" y1="375.5" x2="520.2" y2="385.5" stroke="#86d6d6" stroke-width="6.5"/><line x1="520.2" y1="385.5" x2="521.8" y2="393.4" stroke="#86d6d6" stroke-width="6.5"/><line x1="521.8" y1="393.4" x2="499.6" y2="401.3" stroke="#86d6d6" stroke-width="6.5"/><line x1="499.6" y1="401.3" x2="482.2" y2="431.3" stroke="#86d6d6" stroke-width="6.5"/><line x1="482.2" y1="431.3" x2="478.2" y2="436.1" stroke="#86d6d6" stroke-width="6.5"/><line x1="478.2" y1="436.1" x2="474.3" y2="440.8" stroke="#f29292" stroke-width="6.5"/><line x1="521.8" y1="393.4" x2="520.2" y2="409.2" stroke="#86d6d6" stroke-width="6.5"/><line x1="520.2" y1="409.2" x2="515.4" y2="431.3" stroke="#86d6d6" stroke-width="6.5"/><line x1="515.4" y1="431.3" x2="509.0" y2="442.4" stroke="#86d6d6" stroke-width="6.5"/><line x1="509.0" y1="442.4" x2="502.8" y2="444.0" stroke="#86d6d6" stroke-width="6.5"/><line x1="502.8" y1="444.0" x2="504.4" y2="429.8" stroke="#86d6d6" stroke-width="6.5"/><line x1="504.4" y1="429.8" x2="491.7" y2="423.4" stroke="#86d6d6" stroke-width="6.5"/><line x1="499.6" y1="401.3" x2="504.4" y2="429.8" stroke="#86d6d6" stroke-width="6.5"/><line x1="520.2" y1="409.2" x2="513.0" y2="407.6" stroke="#86d6d6" stroke-width="6.5"/><line x1="513.0" y1="407.6" x2="505.9" y2="406.0" stroke="#f29292" stroke-width="6.5"/><line x1="474.3" y1="440.8" x2="469.1" y2="436.8" stroke="#f29292" stroke-width="6.5"/><line x1="469.1" y1="436.8" x2="463.8" y2="432.7" stroke="#f4b070" stroke-width="6.5"/><line x1="463.8" y1="432.7" x2="454.6" y2="425.2" stroke="#f4b070" stroke-width="6.5"/><line x1="454.6" y1="425.2" x2="445.4" y2="417.8" stroke="#f29292" stroke-width="6.5"/><line x1="463.8" y1="432.7" x2="461.0" y2="440.8" stroke="#f4b070" stroke-width="6.5"/><line x1="461.0" y1="440.8" x2="458.1" y2="448.8" stroke="#f29292" stroke-width="6.5"/><line x1="458.1" y1="448.8" x2="453.5" y2="461.4" stroke="#f29292" stroke-width="6.5"/><line x1="453.5" y1="461.4" x2="448.9" y2="474.0" stroke="#f4b070" stroke-width="6.5"/><line x1="448.9" y1="474.0" x2="448.9" y2="468.2" stroke="#f4b070" stroke-width="6.5"/><line x1="448.9" y1="468.2" x2="448.9" y2="462.5" stroke="#f29292" stroke-width="6.5"/><line x1="448.9" y1="474.0" x2="456.9" y2="484.4" stroke="#f4b070" stroke-width="6.5"/><line x1="456.9" y1="484.4" x2="465.0" y2="494.7" stroke="#f29292" stroke-width="6.5"/><line x1="448.9" y1="474.0" x2="434.5" y2="478.6" stroke="#f4b070" stroke-width="6.5"/><line x1="434.5" y1="478.6" x2="420.2" y2="483.2" stroke="#f29292" stroke-width="6.5"/><line x1="420.2" y1="483.2" x2="417.4" y2="487.8" stroke="#f29292" stroke-width="6.5"/><line x1="417.4" y1="487.8" x2="414.5" y2="492.4" stroke="#86d6d6" stroke-width="6.5"/><line x1="414.5" y1="492.4" x2="405.0" y2="496.0" stroke="#86d6d6" stroke-width="6.5"/><line x1="414.5" y1="492.4" x2="408.0" y2="506.0" stroke="#86d6d6" stroke-width="6.5"/></g><g stroke-linecap="round" opacity="0.35"><line x1="514.2" y1="261.7" x2="516.1" y2="270.6" stroke="#f29292" stroke-width="6.5"/><line x1="516.1" y1="270.6" x2="518.1" y2="279.5" stroke="#86d6d6" stroke-width="6.5"/><line x1="518.1" y1="279.5" x2="529.0" y2="283.9" stroke="#86d6d6" stroke-width="6.5"/><line x1="529.0" y1="283.9" x2="539.9" y2="288.4" stroke="#9c9ce0" stroke-width="6.5"/><line x1="518.1" y1="279.5" x2="508.8" y2="305.2" stroke="#86d6d6" stroke-width="6.5"/><line x1="508.8" y1="305.2" x2="493.4" y2="303.3" stroke="#86d6d6" stroke-width="6.5"/><line x1="508.8" y1="305.2" x2="516.2" y2="327.0" stroke="#86d6d6" stroke-width="6.5"/><line x1="516.2" y1="327.0" x2="522.1" y2="335.7" stroke="#86d6d6" stroke-width="6.5"/><line x1="522.1" y1="335.7" x2="517.1" y2="342.6" stroke="#86d6d6" stroke-width="6.5"/><line x1="517.1" y1="342.6" x2="512.2" y2="349.5" stroke="#9c9ce0" stroke-width="6.5"/><line x1="512.2" y1="349.5" x2="504.3" y2="347.6" stroke="#9c9ce0" stroke-width="6.5"/><line x1="504.3" y1="347.6" x2="496.4" y2="345.6" stroke="#86d6d6" stroke-width="6.5"/><line x1="496.4" y1="345.6" x2="484.5" y2="321.9" stroke="#86d6d6" stroke-width="6.5"/><line x1="484.5" y1="321.9" x2="490.4" y2="310.0" stroke="#86d6d6" stroke-width="6.5"/><line x1="490.4" y1="310.0" x2="493.4" y2="303.3" stroke="#86d6d6" stroke-width="6.5"/><line x1="512.2" y1="349.5" x2="513.7" y2="359.5" stroke="#9c9ce0" stroke-width="6.5"/><line x1="513.7" y1="359.5" x2="515.2" y2="369.5" stroke="#86d6d6" stroke-width="6.5"/><line x1="515.2" y1="369.5" x2="516.8" y2="377.4" stroke="#86d6d6" stroke-width="6.5"/><line x1="516.8" y1="377.4" x2="494.6" y2="385.3" stroke="#86d6d6" stroke-width="6.5"/><line x1="494.6" y1="385.3" x2="477.2" y2="415.3" stroke="#86d6d6" stroke-width="6.5"/><line x1="477.2" y1="415.3" x2="473.2" y2="420.1" stroke="#86d6d6" stroke-width="6.5"/><line x1="473.2" y1="420.1" x2="469.3" y2="424.8" stroke="#f29292" stroke-width="6.5"/><line x1="516.8" y1="377.4" x2="515.2" y2="393.2" stroke="#86d6d6" stroke-width="6.5"/><line x1="515.2" y1="393.2" x2="510.4" y2="415.3" stroke="#86d6d6" stroke-width="6.5"/><line x1="510.4" y1="415.3" x2="504.0" y2="426.4" stroke="#86d6d6" stroke-width="6.5"/><line x1="504.0" y1="426.4" x2="497.8" y2="428.0" stroke="#86d6d6" stroke-width="6.5"/><line x1="497.8" y1="428.0" x2="499.4" y2="413.8" stroke="#86d6d6" stroke-width="6.5"/><line x1="499.4" y1="413.8" x2="486.7" y2="407.4" stroke="#86d6d6" stroke-width="6.5"/><line x1="494.6" y1="385.3" x2="499.4" y2="413.8" stroke="#86d6d6" stroke-width="6.5"/><line x1="515.2" y1="393.2" x2="508.1" y2="391.6" stroke="#86d6d6" stroke-width="6.5"/><line x1="508.1" y1="391.6" x2="500.9" y2="390.0" stroke="#f29292" stroke-width="6.5"/><line x1="469.3" y1="424.8" x2="464.1" y2="420.8" stroke="#f29292" stroke-width="6.5"/><line x1="464.1" y1="420.8" x2="458.8" y2="416.7" stroke="#f4b070" stroke-width="6.5"/><line x1="458.8" y1="416.7" x2="449.6" y2="409.2" stroke="#f4b070" stroke-width="6.5"/><line x1="449.6" y1="409.2" x2="440.4" y2="401.8" stroke="#f29292" stroke-width="6.5"/><line x1="458.8" y1="416.7" x2="456.0" y2="424.8" stroke="#f4b070" stroke-width="6.5"/><line x1="456.0" y1="424.8" x2="453.1" y2="432.8" stroke="#f29292" stroke-width="6.5"/><line x1="453.1" y1="432.8" x2="448.5" y2="445.4" stroke="#f29292" stroke-width="6.5"/><line x1="448.5" y1="445.4" x2="443.9" y2="458.0" stroke="#f4b070" stroke-width="6.5"/><line x1="443.9" y1="458.0" x2="443.9" y2="452.2" stroke="#f4b070" stroke-width="6.5"/><line x1="443.9" y1="452.2" x2="443.9" y2="446.5" stroke="#f29292" stroke-width="6.5"/><line x1="443.9" y1="458.0" x2="451.9" y2="468.4" stroke="#f4b070" stroke-width="6.5"/><line x1="451.9" y1="468.4" x2="460.0" y2="478.7" stroke="#f29292" stroke-width="6.5"/><line x1="443.9" y1="458.0" x2="429.5" y2="462.6" stroke="#f4b070" stroke-width="6.5"/><line x1="429.5" y1="462.6" x2="415.2" y2="467.2" stroke="#f29292" stroke-width="6.5"/><line x1="415.2" y1="467.2" x2="412.4" y2="471.8" stroke="#f29292" stroke-width="6.5"/><line x1="412.4" y1="471.8" x2="409.5" y2="476.4" stroke="#86d6d6" stroke-width="6.5"/><line x1="409.5" y1="476.4" x2="400.0" y2="480.0" stroke="#86d6d6" stroke-width="6.5"/><line x1="409.5" y1="476.4" x2="403.0" y2="490.0" stroke="#86d6d6" stroke-width="6.5"/></g><g stroke-linecap="round" fill="none"><line x1="511.2" y1="271.7" x2="515.1" y2="289.5" stroke="#222" stroke-width="7.8"/><line x1="515.1" y1="289.5" x2="536.9" y2="298.4" stroke="#222" stroke-width="7.8"/><line x1="515.1" y1="289.5" x2="505.8" y2="315.2" stroke="#1c6466" stroke-width="7.8"/><line x1="505.8" y1="315.2" x2="490.4" y2="313.3" stroke="#1c6466" stroke-width="7.8"/><line x1="505.8" y1="315.2" x2="513.2" y2="337.0" stroke="#1c6466" stroke-width="7.8"/><line x1="513.2" y1="337.0" x2="519.1" y2="345.7" stroke="#1c6466" stroke-width="7.8"/><line x1="519.1" y1="345.7" x2="509.2" y2="359.5" stroke="#222" stroke-width="7.8"/><line x1="509.2" y1="359.5" x2="493.4" y2="355.6" stroke="#222" stroke-width="7.8"/><line x1="493.4" y1="355.6" x2="481.5" y2="331.9" stroke="#1c6466" stroke-width="7.8"/><line x1="481.5" y1="331.9" x2="487.4" y2="320.0" stroke="#1c6466" stroke-width="7.8"/><line x1="487.4" y1="320.0" x2="490.4" y2="313.3" stroke="#1c6466" stroke-width="7.8"/><line x1="509.2" y1="359.5" x2="512.2" y2="379.5" stroke="#222" stroke-width="7.8"/><line x1="512.2" y1="379.5" x2="513.8" y2="387.4" stroke="#1c6466" stroke-width="7.8"/><line x1="513.8" y1="387.4" x2="491.6" y2="395.3" stroke="#1c6466" stroke-width="7.8"/><line x1="491.6" y1="395.3" x2="474.2" y2="425.3" stroke="#1c6466" stroke-width="7.8"/><line x1="474.2" y1="425.3" x2="466.3" y2="434.8" stroke="#222" stroke-width="7.8"/><line x1="513.8" y1="387.4" x2="512.2" y2="403.2" stroke="#1c6466" stroke-width="7.8"/><line x1="512.2" y1="403.2" x2="507.4" y2="425.3" stroke="#1c6466" stroke-width="7.8"/><line x1="507.4" y1="425.3" x2="501.0" y2="436.4" stroke="#1c6466" stroke-width="7.8"/><line x1="501.0" y1="436.4" x2="494.8" y2="438.0" stroke="#1c6466" stroke-width="7.8"/><line x1="494.8" y1="438.0" x2="496.4" y2="423.8" stroke="#1c6466" stroke-width="7.8"/><line x1="496.4" y1="423.8" x2="483.7" y2="417.4" stroke="#1c6466" stroke-width="7.8"/><line x1="491.6" y1="395.3" x2="496.4" y2="423.8" stroke="#1c6466" stroke-width="7.8"/><line x1="512.2" y1="403.2" x2="497.9" y2="400.0" stroke="#222" stroke-width="7.8"/><line x1="466.3" y1="434.8" x2="455.8" y2="426.7" stroke="#222" stroke-width="7.8"/><line x1="455.8" y1="426.7" x2="437.4" y2="411.8" stroke="#222" stroke-width="7.8"/><line x1="455.8" y1="426.7" x2="450.1" y2="442.8" stroke="#222" stroke-width="7.8"/><line x1="450.1" y1="442.8" x2="440.9" y2="468.0" stroke="#222" stroke-width="7.8"/><line x1="440.9" y1="468.0" x2="440.9" y2="456.5" stroke="#222" stroke-width="7.8"/><line x1="440.9" y1="468.0" x2="457.0" y2="488.7" stroke="#222" stroke-width="7.8"/><line x1="440.9" y1="468.0" x2="412.2" y2="477.2" stroke="#222" stroke-width="7.8"/><line x1="412.2" y1="477.2" x2="406.5" y2="486.4" stroke="#222" stroke-width="7.8"/><line x1="406.5" y1="486.4" x2="397.0" y2="490.0" stroke="#1c6466" stroke-width="7.8"/><line x1="406.5" y1="486.4" x2="400.0" y2="500.0" stroke="#1c6466" stroke-width="7.8"/><line x1="511.2" y1="271.7" x2="513.1" y2="280.6" stroke="#d8302e" stroke-width="6.2"/><line x1="513.1" y1="280.6" x2="515.1" y2="289.5" stroke="#35b4b6" stroke-width="6.2"/><line x1="515.1" y1="289.5" x2="526.0" y2="293.9" stroke="#35b4b6" stroke-width="6.2"/><line x1="526.0" y1="293.9" x2="536.9" y2="298.4" stroke="#2b33a6" stroke-width="6.2"/><line x1="515.1" y1="289.5" x2="505.8" y2="315.2" stroke="#35b4b6" stroke-width="6.2"/><line x1="505.8" y1="315.2" x2="490.4" y2="313.3" stroke="#35b4b6" stroke-width="6.2"/><line x1="505.8" y1="315.2" x2="513.2" y2="337.0" stroke="#35b4b6" stroke-width="6.2"/><line x1="513.2" y1="337.0" x2="519.1" y2="345.7" stroke="#35b4b6" stroke-width="6.2"/><line x1="519.1" y1="345.7" x2="514.1" y2="352.6" stroke="#35b4b6" stroke-width="6.2"/><line x1="514.1" y1="352.6" x2="509.2" y2="359.5" stroke="#2b33a6" stroke-width="6.2"/><line x1="509.2" y1="359.5" x2="501.3" y2="357.6" stroke="#2b33a6" stroke-width="6.2"/><line x1="501.3" y1="357.6" x2="493.4" y2="355.6" stroke="#35b4b6" stroke-width="6.2"/><line x1="493.4" y1="355.6" x2="481.5" y2="331.9" stroke="#35b4b6" stroke-width="6.2"/><line x1="481.5" y1="331.9" x2="487.4" y2="320.0" stroke="#35b4b6" stroke-width="6.2"/><line x1="487.4" y1="320.0" x2="490.4" y2="313.3" stroke="#35b4b6" stroke-width="6.2"/><line x1="509.2" y1="359.5" x2="510.7" y2="369.5" stroke="#2b33a6" stroke-width="6.2"/><line x1="510.7" y1="369.5" x2="512.2" y2="379.5" stroke="#35b4b6" stroke-width="6.2"/><line x1="512.2" y1="379.5" x2="513.8" y2="387.4" stroke="#35b4b6" stroke-width="6.2"/><line x1="513.8" y1="387.4" x2="491.6" y2="395.3" stroke="#35b4b6" stroke-width="6.2"/><line x1="491.6" y1="395.3" x2="474.2" y2="425.3" stroke="#35b4b6" stroke-width="6.2"/><line x1="474.2" y1="425.3" x2="470.2" y2="430.1" stroke="#35b4b6" stroke-width="6.2"/><line x1="470.2" y1="430.1" x2="466.3" y2="434.8" stroke="#d8302e" stroke-width="6.2"/><line x1="513.8" y1="387.4" x2="512.2" y2="403.2" stroke="#35b4b6" stroke-width="6.2"/><line x1="512.2" y1="403.2" x2="507.4" y2="425.3" stroke="#35b4b6" stroke-width="6.2"/><line x1="507.4" y1="425.3" x2="501.0" y2="436.4" stroke="#35b4b6" stroke-width="6.2"/><line x1="501.0" y1="436.4" x2="494.8" y2="438.0" stroke="#35b4b6" stroke-width="6.2"/><line x1="494.8" y1="438.0" x2="496.4" y2="423.8" stroke="#35b4b6" stroke-width="6.2"/><line x1="496.4" y1="423.8" x2="483.7" y2="417.4" stroke="#35b4b6" stroke-width="6.2"/><line x1="491.6" y1="395.3" x2="496.4" y2="423.8" stroke="#35b4b6" stroke-width="6.2"/><line x1="512.2" y1="403.2" x2="505.1" y2="401.6" stroke="#35b4b6" stroke-width="6.2"/><line x1="505.1" y1="401.6" x2="497.9" y2="400.0" stroke="#d8302e" stroke-width="6.2"/><line x1="466.3" y1="434.8" x2="461.1" y2="430.8" stroke="#d8302e" stroke-width="6.2"/><line x1="461.1" y1="430.8" x2="455.8" y2="426.7" stroke="#ea8a1e" stroke-width="6.2"/><line x1="455.8" y1="426.7" x2="446.6" y2="419.2" stroke="#ea8a1e" stroke-width="6.2"/><line x1="446.6" y1="419.2" x2="437.4" y2="411.8" stroke="#d8302e" stroke-width="6.2"/><line x1="455.8" y1="426.7" x2="453.0" y2="434.8" stroke="#ea8a1e" stroke-width="6.2"/><line x1="453.0" y1="434.8" x2="450.1" y2="442.8" stroke="#d8302e" stroke-width="6.2"/><line x1="450.1" y1="442.8" x2="445.5" y2="455.4" stroke="#d8302e" stroke-width="6.2"/><line x1="445.5" y1="455.4" x2="440.9" y2="468.0" stroke="#ea8a1e" stroke-width="6.2"/><line x1="440.9" y1="468.0" x2="440.9" y2="462.2" stroke="#ea8a1e" stroke-width="6.2"/><line x1="440.9" y1="462.2" x2="440.9" y2="456.5" stroke="#d8302e" stroke-width="6.2"/><line x1="440.9" y1="468.0" x2="448.9" y2="478.4" stroke="#ea8a1e" stroke-width="6.2"/><line x1="448.9" y1="478.4" x2="457.0" y2="488.7" stroke="#d8302e" stroke-width="6.2"/><line x1="440.9" y1="468.0" x2="426.5" y2="472.6" stroke="#ea8a1e" stroke-width="6.2"/><line x1="426.5" y1="472.6" x2="412.2" y2="477.2" stroke="#d8302e" stroke-width="6.2"/><line x1="412.2" y1="477.2" x2="409.4" y2="481.8" stroke="#d8302e" stroke-width="6.2"/><line x1="409.4" y1="481.8" x2="406.5" y2="486.4" stroke="#35b4b6" stroke-width="6.2"/><line x1="406.5" y1="486.4" x2="397.0" y2="490.0" stroke="#35b4b6" stroke-width="6.2"/><line x1="406.5" y1="486.4" x2="400.0" y2="500.0" stroke="#35b4b6" stroke-width="6.2"/><g opacity="0.55"><line x1="510.2" y1="270.7" x2="512.2" y2="279.6" stroke="#f08a88" stroke-width="1.9"/><line x1="512.2" y1="279.6" x2="514.1" y2="288.5" stroke="#8ee0e0" stroke-width="1.9"/><line x1="514.1" y1="288.5" x2="525.0" y2="293.0" stroke="#8ee0e0" stroke-width="1.9"/><line x1="525.0" y1="293.0" x2="535.9" y2="297.4" stroke="#6a70d8" stroke-width="1.9"/><line x1="514.1" y1="288.5" x2="504.8" y2="314.2" stroke="#8ee0e0" stroke-width="1.9"/><line x1="504.8" y1="314.2" x2="489.4" y2="312.3" stroke="#8ee0e0" stroke-width="1.9"/><line x1="504.8" y1="314.2" x2="512.2" y2="336.0" stroke="#8ee0e0" stroke-width="1.9"/><line x1="512.2" y1="336.0" x2="518.1" y2="344.7" stroke="#8ee0e0" stroke-width="1.9"/><line x1="518.1" y1="344.7" x2="513.2" y2="351.6" stroke="#8ee0e0" stroke-width="1.9"/><line x1="513.2" y1="351.6" x2="508.2" y2="358.5" stroke="#6a70d8" stroke-width="1.9"/><line x1="508.2" y1="358.5" x2="500.3" y2="356.6" stroke="#6a70d8" stroke-width="1.9"/><line x1="500.3" y1="356.6" x2="492.4" y2="354.6" stroke="#8ee0e0" stroke-width="1.9"/><line x1="492.4" y1="354.6" x2="480.5" y2="330.9" stroke="#8ee0e0" stroke-width="1.9"/><line x1="480.5" y1="330.9" x2="486.4" y2="319.0" stroke="#8ee0e0" stroke-width="1.9"/><line x1="486.4" y1="319.0" x2="489.4" y2="312.3" stroke="#8ee0e0" stroke-width="1.9"/><line x1="508.2" y1="358.5" x2="509.7" y2="368.5" stroke="#6a70d8" stroke-width="1.9"/><line x1="509.7" y1="368.5" x2="511.2" y2="378.5" stroke="#8ee0e0" stroke-width="1.9"/><line x1="511.2" y1="378.5" x2="512.8" y2="386.4" stroke="#8ee0e0" stroke-width="1.9"/><line x1="512.8" y1="386.4" x2="490.6" y2="394.3" stroke="#8ee0e0" stroke-width="1.9"/><line x1="490.6" y1="394.3" x2="473.2" y2="424.3" stroke="#8ee0e0" stroke-width="1.9"/><line x1="473.2" y1="424.3" x2="469.3" y2="429.1" stroke="#8ee0e0" stroke-width="1.9"/><line x1="469.3" y1="429.1" x2="465.3" y2="433.8" stroke="#f08a88" stroke-width="1.9"/><line x1="512.8" y1="386.4" x2="511.2" y2="402.2" stroke="#8ee0e0" stroke-width="1.9"/><line x1="511.2" y1="402.2" x2="506.4" y2="424.3" stroke="#8ee0e0" stroke-width="1.9"/><line x1="506.4" y1="424.3" x2="500.0" y2="435.4" stroke="#8ee0e0" stroke-width="1.9"/><line x1="500.0" y1="435.4" x2="493.8" y2="437.0" stroke="#8ee0e0" stroke-width="1.9"/><line x1="493.8" y1="437.0" x2="495.4" y2="422.8" stroke="#8ee0e0" stroke-width="1.9"/><line x1="495.4" y1="422.8" x2="482.7" y2="416.4" stroke="#8ee0e0" stroke-width="1.9"/><line x1="490.6" y1="394.3" x2="495.4" y2="422.8" stroke="#8ee0e0" stroke-width="1.9"/><line x1="511.2" y1="402.2" x2="504.1" y2="400.6" stroke="#8ee0e0" stroke-width="1.9"/><line x1="504.1" y1="400.6" x2="496.9" y2="399.0" stroke="#f08a88" stroke-width="1.9"/><line x1="465.3" y1="433.8" x2="460.1" y2="429.8" stroke="#f08a88" stroke-width="1.9"/><line x1="460.1" y1="429.8" x2="454.8" y2="425.7" stroke="#f8c070" stroke-width="1.9"/><line x1="454.8" y1="425.7" x2="445.6" y2="418.3" stroke="#f8c070" stroke-width="1.9"/><line x1="445.6" y1="418.3" x2="436.4" y2="410.8" stroke="#f08a88" stroke-width="1.9"/><line x1="454.8" y1="425.7" x2="452.0" y2="433.8" stroke="#f8c070" stroke-width="1.9"/><line x1="452.0" y1="433.8" x2="449.1" y2="441.8" stroke="#f08a88" stroke-width="1.9"/><line x1="449.1" y1="441.8" x2="444.5" y2="454.4" stroke="#f08a88" stroke-width="1.9"/><line x1="444.5" y1="454.4" x2="439.9" y2="467.0" stroke="#f8c070" stroke-width="1.9"/><line x1="439.9" y1="467.0" x2="439.9" y2="461.3" stroke="#f8c070" stroke-width="1.9"/><line x1="439.9" y1="461.3" x2="439.9" y2="455.5" stroke="#f08a88" stroke-width="1.9"/><line x1="439.9" y1="467.0" x2="448.0" y2="477.4" stroke="#f8c070" stroke-width="1.9"/><line x1="448.0" y1="477.4" x2="456.0" y2="487.7" stroke="#f08a88" stroke-width="1.9"/><line x1="439.9" y1="467.0" x2="425.6" y2="471.6" stroke="#f8c070" stroke-width="1.9"/><line x1="425.6" y1="471.6" x2="411.2" y2="476.2" stroke="#f08a88" stroke-width="1.9"/><line x1="411.2" y1="476.2" x2="408.4" y2="480.8" stroke="#f08a88" stroke-width="1.9"/><line x1="408.4" y1="480.8" x2="405.5" y2="485.4" stroke="#8ee0e0" stroke-width="1.9"/><line x1="405.5" y1="485.4" x2="396.0" y2="489.0" stroke="#8ee0e0" stroke-width="1.9"/><line x1="405.5" y1="485.4" x2="399.0" y2="499.0" stroke="#8ee0e0" stroke-width="1.9"/></g></g><g stroke-linecap="round" fill="none"><line x1="498.0" y1="399.5" x2="507.0" y2="406.0" stroke="#6a1414" stroke-width="8.6"/><line x1="498.0" y1="399.5" x2="507.0" y2="406.0" stroke="#d8302e" stroke-width="7.0"/><g opacity="0.55"><line x1="496.9" y1="398.4" x2="505.9" y2="404.9" stroke="#f08a88" stroke-width="2.1"/></g></g><g stroke-linecap="round" opacity="0.60"><line x1="520.0" y1="398.0" x2="525.0" y2="401.0" stroke="#f29292" stroke-width="7.0"/><line x1="525.0" y1="401.0" x2="530.0" y2="404.0" stroke="#86d6d6" stroke-width="7.0"/><line x1="522.0" y1="412.0" x2="528.0" y2="415.0" stroke="#f29292" stroke-width="7.0"/><line x1="528.0" y1="415.0" x2="534.0" y2="418.0" stroke="#86d6d6" stroke-width="7.0"/><line x1="484.0" y1="440.0" x2="488.0" y2="443.0" stroke="#f29292" stroke-width="7.0"/><line x1="488.0" y1="443.0" x2="492.0" y2="446.0" stroke="#86d6d6" stroke-width="7.0"/></g><g fill="none" stroke="#f2ee7a" stroke-width="11.0" stroke-linecap="round" stroke-linejoin="round" opacity="0.45"><polyline points="540.0,318.0 560.0,315.0 585.0,318.0 600.0,330.0 615.0,345.0"/><polyline points="535.0,335.0 555.0,350.0 575.0,372.0 600.0,390.0"/></g><g fill="none" stroke="#a4a4e2" stroke-width="9.0" stroke-linecap="round" stroke-linejoin="round" opacity="0.45"><polyline points="560.0,340.0 578.0,362.0 598.0,380.0"/><polyline points="603.0,332.0 615.0,348.0"/></g><g stroke-linecap="round" opacity="0.70"><line x1="542.2" y1="304.9" x2="547.4" y2="312.4" stroke="#f29292" stroke-width="7.0"/><line x1="547.4" y1="312.4" x2="552.6" y2="320.0" stroke="#f4f078" stroke-width="7.0"/><line x1="564.5" y1="291.5" x2="569.7" y2="301.2" stroke="#f29292" stroke-width="7.0"/><line x1="569.7" y1="301.2" x2="574.9" y2="311.0" stroke="#f4f078" stroke-width="7.0"/><line x1="582.3" y1="297.5" x2="585.2" y2="307.2" stroke="#f29292" stroke-width="7.0"/><line x1="585.2" y1="307.2" x2="588.2" y2="317.0" stroke="#f4f078" stroke-width="7.0"/><line x1="588.2" y1="303.4" x2="591.1" y2="310.7" stroke="#f29292" stroke-width="7.0"/><line x1="591.1" y1="310.7" x2="594.0" y2="318.0" stroke="#f4f078" stroke-width="7.0"/><line x1="561.5" y1="316.7" x2="566.0" y2="322.9" stroke="#f29292" stroke-width="7.0"/><line x1="566.0" y1="322.9" x2="570.4" y2="329.0" stroke="#f4f078" stroke-width="7.0"/><line x1="574.9" y1="300.4" x2="578.0" y2="308.2" stroke="#f29292" stroke-width="7.0"/><line x1="578.0" y1="308.2" x2="581.0" y2="316.0" stroke="#f4f078" stroke-width="7.0"/><line x1="629.8" y1="313.8" x2="632.8" y2="321.4" stroke="#f29292" stroke-width="7.0"/><line x1="632.8" y1="321.4" x2="635.7" y2="329.0" stroke="#f4f078" stroke-width="7.0"/><line x1="638.7" y1="321.2" x2="641.7" y2="328.6" stroke="#f29292" stroke-width="7.0"/><line x1="641.7" y1="328.6" x2="644.6" y2="336.0" stroke="#f4f078" stroke-width="7.0"/><line x1="644.6" y1="324.2" x2="647.5" y2="331.1" stroke="#f29292" stroke-width="7.0"/><line x1="647.5" y1="331.1" x2="650.5" y2="338.0" stroke="#f4f078" stroke-width="7.0"/><line x1="623.8" y1="336.0" x2="626.8" y2="342.0" stroke="#f29292" stroke-width="7.0"/><line x1="626.8" y1="342.0" x2="629.7" y2="348.0" stroke="#f4f078" stroke-width="7.0"/><line x1="649.0" y1="333.0" x2="652.7" y2="339.5" stroke="#f29292" stroke-width="7.0"/><line x1="652.7" y1="339.5" x2="656.4" y2="346.0" stroke="#f4f078" stroke-width="7.0"/><line x1="660.0" y1="318.0" x2="663.0" y2="326.0" stroke="#f29292" stroke-width="7.0"/><line x1="663.0" y1="326.0" x2="666.0" y2="334.0" stroke="#f4f078" stroke-width="7.0"/></g><g stroke-linecap="round" opacity="0.35"><line x1="524.0" y1="312.0" x2="543.0" y2="322.0" stroke="#f4f078" stroke-width="6.5"/><line x1="543.0" y1="322.0" x2="551.0" y2="315.0" stroke="#f4f078" stroke-width="6.5"/><line x1="551.0" y1="315.0" x2="561.0" y2="317.0" stroke="#f4f078" stroke-width="6.5"/><line x1="561.0" y1="317.0" x2="569.0" y2="328.0" stroke="#f4f078" stroke-width="6.5"/><line x1="569.0" y1="328.0" x2="568.0" y2="340.0" stroke="#f4f078" stroke-width="6.5"/><line x1="568.0" y1="340.0" x2="556.0" y2="349.0" stroke="#f4f078" stroke-width="6.5"/><line x1="556.0" y1="349.0" x2="547.0" y2="335.0" stroke="#f4f078" stroke-width="6.5"/><line x1="547.0" y1="335.0" x2="543.0" y2="322.0" stroke="#f4f078" stroke-width="6.5"/><line x1="556.0" y1="349.0" x2="542.0" y2="356.0" stroke="#f4f078" stroke-width="6.5"/><line x1="561.0" y1="317.0" x2="571.0" y2="318.0" stroke="#f4f078" stroke-width="6.5"/><line x1="571.0" y1="318.0" x2="589.0" y2="314.0" stroke="#f4f078" stroke-width="6.5"/><line x1="569.0" y1="319.0" x2="580.0" y2="334.0" stroke="#f4f078" stroke-width="6.5"/><line x1="580.0" y1="334.0" x2="583.5" y2="340.5" stroke="#f4f078" stroke-width="6.5"/><line x1="583.5" y1="340.5" x2="587.0" y2="347.0" stroke="#9c9ce0" stroke-width="6.5"/><line x1="587.0" y1="347.0" x2="591.5" y2="353.0" stroke="#9c9ce0" stroke-width="6.5"/><line x1="591.5" y1="353.0" x2="596.0" y2="359.0" stroke="#f4f078" stroke-width="6.5"/><line x1="596.0" y1="359.0" x2="608.0" y2="373.0" stroke="#f4f078" stroke-width="6.5"/><line x1="568.0" y1="340.0" x2="573.5" y2="348.0" stroke="#f4f078" stroke-width="6.5"/><line x1="573.5" y1="348.0" x2="579.0" y2="356.0" stroke="#9c9ce0" stroke-width="6.5"/><line x1="579.0" y1="356.0" x2="586.0" y2="363.0" stroke="#9c9ce0" stroke-width="6.5"/><line x1="586.0" y1="363.0" x2="593.0" y2="370.0" stroke="#f4f078" stroke-width="6.5"/><line x1="593.0" y1="370.0" x2="608.0" y2="373.0" stroke="#f4f078" stroke-width="6.5"/><line x1="589.0" y1="314.0" x2="596.0" y2="327.0" stroke="#f4f078" stroke-width="6.5"/><line x1="596.0" y1="327.0" x2="599.5" y2="331.5" stroke="#f4f078" stroke-width="6.5"/><line x1="599.5" y1="331.5" x2="603.0" y2="336.0" stroke="#9c9ce0" stroke-width="6.5"/><line x1="603.0" y1="336.0" x2="611.0" y2="348.0" stroke="#9c9ce0" stroke-width="6.5"/><line x1="611.0" y1="348.0" x2="613.5" y2="355.0" stroke="#9c9ce0" stroke-width="6.5"/><line x1="613.5" y1="355.0" x2="616.0" y2="362.0" stroke="#f4f078" stroke-width="6.5"/><line x1="616.0" y1="362.0" x2="608.0" y2="373.0" stroke="#f4f078" stroke-width="6.5"/><line x1="593.0" y1="296.0" x2="590.0" y2="312.0" stroke="#f29292" stroke-width="6.5"/><line x1="608.0" y1="373.0" x2="620.8" y2="381.0" stroke="#f4f078" stroke-width="6.5"/><line x1="608.0" y1="373.0" x2="620.0" y2="369.0" stroke="#f4f078" stroke-width="6.5"/><line x1="620.0" y1="369.0" x2="649.6" y2="351.3" stroke="#f4f078" stroke-width="6.5"/><line x1="649.6" y1="351.3" x2="673.3" y2="341.4" stroke="#f4f078" stroke-width="6.5"/><line x1="673.3" y1="341.4" x2="699.0" y2="357.2" stroke="#f4f078" stroke-width="6.5"/><line x1="699.0" y1="357.2" x2="705.0" y2="353.2" stroke="#f4f078" stroke-width="6.5"/><line x1="705.0" y1="353.2" x2="710.9" y2="349.3" stroke="#f29292" stroke-width="6.5"/><line x1="710.9" y1="349.3" x2="718.8" y2="356.2" stroke="#f29292" stroke-width="6.5"/><line x1="718.8" y1="356.2" x2="726.7" y2="363.2" stroke="#f4b070" stroke-width="6.5"/><line x1="726.7" y1="363.2" x2="734.6" y2="357.2" stroke="#f4b070" stroke-width="6.5"/><line x1="734.6" y1="357.2" x2="742.5" y2="351.3" stroke="#f29292" stroke-width="6.5"/><line x1="649.6" y1="351.3" x2="645.7" y2="341.4" stroke="#f4f078" stroke-width="6.5"/><line x1="645.7" y1="341.4" x2="641.7" y2="331.5" stroke="#f29292" stroke-width="6.5"/><line x1="726.7" y1="363.2" x2="734.6" y2="372.1" stroke="#f4b070" stroke-width="6.5"/><line x1="734.6" y1="372.1" x2="742.5" y2="381.0" stroke="#f29292" stroke-width="6.5"/><line x1="726.7" y1="363.2" x2="718.9" y2="370.6" stroke="#f4b070" stroke-width="6.5"/><line x1="718.9" y1="370.6" x2="711.0" y2="378.0" stroke="#f29292" stroke-width="6.5"/></g><g stroke-linecap="round" opacity="0.30"><line x1="534.0" y1="308.0" x2="553.0" y2="318.0" stroke="#f4f078" stroke-width="6.5"/><line x1="553.0" y1="318.0" x2="561.0" y2="311.0" stroke="#f4f078" stroke-width="6.5"/><line x1="561.0" y1="311.0" x2="571.0" y2="313.0" stroke="#f4f078" stroke-width="6.5"/><line x1="571.0" y1="313.0" x2="579.0" y2="324.0" stroke="#f4f078" stroke-width="6.5"/><line x1="579.0" y1="324.0" x2="578.0" y2="336.0" stroke="#f4f078" stroke-width="6.5"/><line x1="578.0" y1="336.0" x2="566.0" y2="345.0" stroke="#f4f078" stroke-width="6.5"/><line x1="566.0" y1="345.0" x2="557.0" y2="331.0" stroke="#f4f078" stroke-width="6.5"/><line x1="557.0" y1="331.0" x2="553.0" y2="318.0" stroke="#f4f078" stroke-width="6.5"/><line x1="566.0" y1="345.0" x2="552.0" y2="352.0" stroke="#f4f078" stroke-width="6.5"/><line x1="571.0" y1="313.0" x2="581.0" y2="314.0" stroke="#f4f078" stroke-width="6.5"/><line x1="581.0" y1="314.0" x2="599.0" y2="310.0" stroke="#f4f078" stroke-width="6.5"/><line x1="579.0" y1="315.0" x2="590.0" y2="330.0" stroke="#f4f078" stroke-width="6.5"/><line x1="590.0" y1="330.0" x2="593.5" y2="336.5" stroke="#f4f078" stroke-width="6.5"/><line x1="593.5" y1="336.5" x2="597.0" y2="343.0" stroke="#9c9ce0" stroke-width="6.5"/><line x1="597.0" y1="343.0" x2="601.5" y2="349.0" stroke="#9c9ce0" stroke-width="6.5"/><line x1="601.5" y1="349.0" x2="606.0" y2="355.0" stroke="#f4f078" stroke-width="6.5"/><line x1="606.0" y1="355.0" x2="618.0" y2="369.0" stroke="#f4f078" stroke-width="6.5"/><line x1="578.0" y1="336.0" x2="583.5" y2="344.0" stroke="#f4f078" stroke-width="6.5"/><line x1="583.5" y1="344.0" x2="589.0" y2="352.0" stroke="#9c9ce0" stroke-width="6.5"/><line x1="589.0" y1="352.0" x2="596.0" y2="359.0" stroke="#9c9ce0" stroke-width="6.5"/><line x1="596.0" y1="359.0" x2="603.0" y2="366.0" stroke="#f4f078" stroke-width="6.5"/><line x1="603.0" y1="366.0" x2="618.0" y2="369.0" stroke="#f4f078" stroke-width="6.5"/><line x1="599.0" y1="310.0" x2="606.0" y2="323.0" stroke="#f4f078" stroke-width="6.5"/><line x1="606.0" y1="323.0" x2="609.5" y2="327.5" stroke="#f4f078" stroke-width="6.5"/><line x1="609.5" y1="327.5" x2="613.0" y2="332.0" stroke="#9c9ce0" stroke-width="6.5"/><line x1="613.0" y1="332.0" x2="621.0" y2="344.0" stroke="#9c9ce0" stroke-width="6.5"/><line x1="621.0" y1="344.0" x2="623.5" y2="351.0" stroke="#9c9ce0" stroke-width="6.5"/><line x1="623.5" y1="351.0" x2="626.0" y2="358.0" stroke="#f4f078" stroke-width="6.5"/><line x1="626.0" y1="358.0" x2="618.0" y2="369.0" stroke="#f4f078" stroke-width="6.5"/><line x1="603.0" y1="292.0" x2="600.0" y2="308.0" stroke="#f29292" stroke-width="6.5"/><line x1="618.0" y1="369.0" x2="630.8" y2="377.0" stroke="#f4f078" stroke-width="6.5"/><line x1="618.0" y1="369.0" x2="630.0" y2="365.0" stroke="#f4f078" stroke-width="6.5"/><line x1="630.0" y1="365.0" x2="659.6" y2="347.3" stroke="#f4f078" stroke-width="6.5"/><line x1="659.6" y1="347.3" x2="683.3" y2="337.4" stroke="#f4f078" stroke-width="6.5"/><line x1="683.3" y1="337.4" x2="709.0" y2="353.2" stroke="#f4f078" stroke-width="6.5"/><line x1="709.0" y1="353.2" x2="715.0" y2="349.2" stroke="#f4f078" stroke-width="6.5"/><line x1="715.0" y1="349.2" x2="720.9" y2="345.3" stroke="#f29292" stroke-width="6.5"/><line x1="720.9" y1="345.3" x2="728.8" y2="352.2" stroke="#f29292" stroke-width="6.5"/><line x1="728.8" y1="352.2" x2="736.7" y2="359.2" stroke="#f4b070" stroke-width="6.5"/><line x1="736.7" y1="359.2" x2="744.6" y2="353.2" stroke="#f4b070" stroke-width="6.5"/><line x1="744.6" y1="353.2" x2="752.5" y2="347.3" stroke="#f29292" stroke-width="6.5"/><line x1="659.6" y1="347.3" x2="655.7" y2="337.4" stroke="#f4f078" stroke-width="6.5"/><line x1="655.7" y1="337.4" x2="651.7" y2="327.5" stroke="#f29292" stroke-width="6.5"/><line x1="736.7" y1="359.2" x2="744.6" y2="368.1" stroke="#f4b070" stroke-width="6.5"/><line x1="744.6" y1="368.1" x2="752.5" y2="377.0" stroke="#f29292" stroke-width="6.5"/><line x1="736.7" y1="359.2" x2="728.9" y2="366.6" stroke="#f4b070" stroke-width="6.5"/><line x1="728.9" y1="366.6" x2="721.0" y2="374.0" stroke="#f29292" stroke-width="6.5"/></g><g stroke-linecap="round" opacity="0.25"><line x1="520.0" y1="328.0" x2="539.0" y2="338.0" stroke="#f4f078" stroke-width="6.5"/><line x1="539.0" y1="338.0" x2="547.0" y2="331.0" stroke="#f4f078" stroke-width="6.5"/><line x1="547.0" y1="331.0" x2="557.0" y2="333.0" stroke="#f4f078" stroke-width="6.5"/><line x1="557.0" y1="333.0" x2="565.0" y2="344.0" stroke="#f4f078" stroke-width="6.5"/><line x1="565.0" y1="344.0" x2="564.0" y2="356.0" stroke="#f4f078" stroke-width="6.5"/><line x1="564.0" y1="356.0" x2="552.0" y2="365.0" stroke="#f4f078" stroke-width="6.5"/><line x1="552.0" y1="365.0" x2="543.0" y2="351.0" stroke="#f4f078" stroke-width="6.5"/><line x1="543.0" y1="351.0" x2="539.0" y2="338.0" stroke="#f4f078" stroke-width="6.5"/><line x1="552.0" y1="365.0" x2="538.0" y2="372.0" stroke="#f4f078" stroke-width="6.5"/><line x1="557.0" y1="333.0" x2="567.0" y2="334.0" stroke="#f4f078" stroke-width="6.5"/><line x1="567.0" y1="334.0" x2="585.0" y2="330.0" stroke="#f4f078" stroke-width="6.5"/><line x1="565.0" y1="335.0" x2="576.0" y2="350.0" stroke="#f4f078" stroke-width="6.5"/><line x1="576.0" y1="350.0" x2="579.5" y2="356.5" stroke="#f4f078" stroke-width="6.5"/><line x1="579.5" y1="356.5" x2="583.0" y2="363.0" stroke="#9c9ce0" stroke-width="6.5"/><line x1="583.0" y1="363.0" x2="587.5" y2="369.0" stroke="#9c9ce0" stroke-width="6.5"/><line x1="587.5" y1="369.0" x2="592.0" y2="375.0" stroke="#f4f078" stroke-width="6.5"/><line x1="592.0" y1="375.0" x2="604.0" y2="389.0" stroke="#f4f078" stroke-width="6.5"/><line x1="564.0" y1="356.0" x2="569.5" y2="364.0" stroke="#f4f078" stroke-width="6.5"/><line x1="569.5" y1="364.0" x2="575.0" y2="372.0" stroke="#9c9ce0" stroke-width="6.5"/><line x1="575.0" y1="372.0" x2="582.0" y2="379.0" stroke="#9c9ce0" stroke-width="6.5"/><line x1="582.0" y1="379.0" x2="589.0" y2="386.0" stroke="#f4f078" stroke-width="6.5"/><line x1="589.0" y1="386.0" x2="604.0" y2="389.0" stroke="#f4f078" stroke-width="6.5"/><line x1="585.0" y1="330.0" x2="592.0" y2="343.0" stroke="#f4f078" stroke-width="6.5"/><line x1="592.0" y1="343.0" x2="595.5" y2="347.5" stroke="#f4f078" stroke-width="6.5"/><line x1="595.5" y1="347.5" x2="599.0" y2="352.0" stroke="#9c9ce0" stroke-width="6.5"/><line x1="599.0" y1="352.0" x2="607.0" y2="364.0" stroke="#9c9ce0" stroke-width="6.5"/><line x1="607.0" y1="364.0" x2="609.5" y2="371.0" stroke="#9c9ce0" stroke-width="6.5"/><line x1="609.5" y1="371.0" x2="612.0" y2="378.0" stroke="#f4f078" stroke-width="6.5"/><line x1="612.0" y1="378.0" x2="604.0" y2="389.0" stroke="#f4f078" stroke-width="6.5"/><line x1="589.0" y1="312.0" x2="586.0" y2="328.0" stroke="#f29292" stroke-width="6.5"/><line x1="604.0" y1="389.0" x2="616.8" y2="397.0" stroke="#f4f078" stroke-width="6.5"/><line x1="604.0" y1="389.0" x2="616.0" y2="385.0" stroke="#f4f078" stroke-width="6.5"/><line x1="616.0" y1="385.0" x2="645.6" y2="367.3" stroke="#f4f078" stroke-width="6.5"/><line x1="645.6" y1="367.3" x2="669.3" y2="357.4" stroke="#f4f078" stroke-width="6.5"/><line x1="669.3" y1="357.4" x2="695.0" y2="373.2" stroke="#f4f078" stroke-width="6.5"/><line x1="695.0" y1="373.2" x2="701.0" y2="369.2" stroke="#f4f078" stroke-width="6.5"/><line x1="701.0" y1="369.2" x2="706.9" y2="365.3" stroke="#f29292" stroke-width="6.5"/><line x1="706.9" y1="365.3" x2="714.8" y2="372.2" stroke="#f29292" stroke-width="6.5"/><line x1="714.8" y1="372.2" x2="722.7" y2="379.2" stroke="#f4b070" stroke-width="6.5"/><line x1="722.7" y1="379.2" x2="730.6" y2="373.2" stroke="#f4b070" stroke-width="6.5"/><line x1="730.6" y1="373.2" x2="738.5" y2="367.3" stroke="#f29292" stroke-width="6.5"/><line x1="645.6" y1="367.3" x2="641.7" y2="357.4" stroke="#f4f078" stroke-width="6.5"/><line x1="641.7" y1="357.4" x2="637.7" y2="347.5" stroke="#f29292" stroke-width="6.5"/><line x1="722.7" y1="379.2" x2="730.6" y2="388.1" stroke="#f4b070" stroke-width="6.5"/><line x1="730.6" y1="388.1" x2="738.5" y2="397.0" stroke="#f29292" stroke-width="6.5"/><line x1="722.7" y1="379.2" x2="714.9" y2="386.6" stroke="#f4b070" stroke-width="6.5"/><line x1="714.9" y1="386.6" x2="707.0" y2="394.0" stroke="#f29292" stroke-width="6.5"/></g><g stroke-linecap="round" fill="none"><line x1="528.0" y1="322.0" x2="547.0" y2="332.0" stroke="#5c5a10" stroke-width="8.2"/><line x1="547.0" y1="332.0" x2="555.0" y2="325.0" stroke="#5c5a10" stroke-width="8.2"/><line x1="555.0" y1="325.0" x2="565.0" y2="327.0" stroke="#5c5a10" stroke-width="8.2"/><line x1="565.0" y1="327.0" x2="573.0" y2="338.0" stroke="#5c5a10" stroke-width="8.2"/><line x1="573.0" y1="338.0" x2="572.0" y2="350.0" stroke="#5c5a10" stroke-width="8.2"/><line x1="572.0" y1="350.0" x2="560.0" y2="359.0" stroke="#5c5a10" stroke-width="8.2"/><line x1="560.0" y1="359.0" x2="551.0" y2="345.0" stroke="#5c5a10" stroke-width="8.2"/><line x1="551.0" y1="345.0" x2="547.0" y2="332.0" stroke="#5c5a10" stroke-width="8.2"/><line x1="560.0" y1="359.0" x2="546.0" y2="366.0" stroke="#5c5a10" stroke-width="8.2"/><line x1="565.0" y1="327.0" x2="575.0" y2="328.0" stroke="#5c5a10" stroke-width="8.2"/><line x1="575.0" y1="328.0" x2="593.0" y2="324.0" stroke="#5c5a10" stroke-width="8.2"/><line x1="573.0" y1="329.0" x2="584.0" y2="344.0" stroke="#5c5a10" stroke-width="8.2"/><line x1="584.0" y1="344.0" x2="591.0" y2="357.0" stroke="#222" stroke-width="8.2"/><line x1="591.0" y1="357.0" x2="600.0" y2="369.0" stroke="#222" stroke-width="8.2"/><line x1="600.0" y1="369.0" x2="612.0" y2="383.0" stroke="#5c5a10" stroke-width="8.2"/><line x1="572.0" y1="350.0" x2="583.0" y2="366.0" stroke="#222" stroke-width="8.2"/><line x1="583.0" y1="366.0" x2="597.0" y2="380.0" stroke="#222" stroke-width="8.2"/><line x1="597.0" y1="380.0" x2="612.0" y2="383.0" stroke="#5c5a10" stroke-width="8.2"/><line x1="593.0" y1="324.0" x2="600.0" y2="337.0" stroke="#5c5a10" stroke-width="8.2"/><line x1="600.0" y1="337.0" x2="607.0" y2="346.0" stroke="#222" stroke-width="8.2"/><line x1="607.0" y1="346.0" x2="615.0" y2="358.0" stroke="#141650" stroke-width="8.2"/><line x1="615.0" y1="358.0" x2="620.0" y2="372.0" stroke="#222" stroke-width="8.2"/><line x1="620.0" y1="372.0" x2="612.0" y2="383.0" stroke="#5c5a10" stroke-width="8.2"/><line x1="597.0" y1="306.0" x2="594.0" y2="322.0" stroke="#6a1414" stroke-width="8.2"/><line x1="612.0" y1="383.0" x2="624.8" y2="391.0" stroke="#5c5a10" stroke-width="8.2"/><line x1="612.0" y1="383.0" x2="624.0" y2="379.0" stroke="#5c5a10" stroke-width="8.2"/><line x1="624.0" y1="379.0" x2="653.6" y2="361.3" stroke="#5c5a10" stroke-width="8.2"/><line x1="653.6" y1="361.3" x2="677.3" y2="351.4" stroke="#5c5a10" stroke-width="8.2"/><line x1="677.3" y1="351.4" x2="703.0" y2="367.2" stroke="#5c5a10" stroke-width="8.2"/><line x1="703.0" y1="367.2" x2="714.9" y2="359.3" stroke="#222" stroke-width="8.2"/><line x1="714.9" y1="359.3" x2="730.7" y2="373.2" stroke="#222" stroke-width="8.2"/><line x1="730.7" y1="373.2" x2="746.5" y2="361.3" stroke="#222" stroke-width="8.2"/><line x1="653.6" y1="361.3" x2="645.7" y2="341.5" stroke="#222" stroke-width="8.2"/><line x1="730.7" y1="373.2" x2="746.5" y2="391.0" stroke="#222" stroke-width="8.2"/><line x1="730.7" y1="373.2" x2="715.0" y2="388.0" stroke="#222" stroke-width="8.2"/><line x1="528.0" y1="322.0" x2="547.0" y2="332.0" stroke="#e6e02c" stroke-width="6.6"/><line x1="547.0" y1="332.0" x2="555.0" y2="325.0" stroke="#e6e02c" stroke-width="6.6"/><line x1="555.0" y1="325.0" x2="565.0" y2="327.0" stroke="#e6e02c" stroke-width="6.6"/><line x1="565.0" y1="327.0" x2="573.0" y2="338.0" stroke="#e6e02c" stroke-width="6.6"/><line x1="573.0" y1="338.0" x2="572.0" y2="350.0" stroke="#e6e02c" stroke-width="6.6"/><line x1="572.0" y1="350.0" x2="560.0" y2="359.0" stroke="#e6e02c" stroke-width="6.6"/><line x1="560.0" y1="359.0" x2="551.0" y2="345.0" stroke="#e6e02c" stroke-width="6.6"/><line x1="551.0" y1="345.0" x2="547.0" y2="332.0" stroke="#e6e02c" stroke-width="6.6"/><line x1="560.0" y1="359.0" x2="546.0" y2="366.0" stroke="#e6e02c" stroke-width="6.6"/><line x1="565.0" y1="327.0" x2="575.0" y2="328.0" stroke="#e6e02c" stroke-width="6.6"/><line x1="575.0" y1="328.0" x2="593.0" y2="324.0" stroke="#e6e02c" stroke-width="6.6"/><line x1="573.0" y1="329.0" x2="584.0" y2="344.0" stroke="#e6e02c" stroke-width="6.6"/><line x1="584.0" y1="344.0" x2="587.5" y2="350.5" stroke="#e6e02c" stroke-width="6.6"/><line x1="587.5" y1="350.5" x2="591.0" y2="357.0" stroke="#2b33a6" stroke-width="6.6"/><line x1="591.0" y1="357.0" x2="595.5" y2="363.0" stroke="#2b33a6" stroke-width="6.6"/><line x1="595.5" y1="363.0" x2="600.0" y2="369.0" stroke="#e6e02c" stroke-width="6.6"/><line x1="600.0" y1="369.0" x2="612.0" y2="383.0" stroke="#e6e02c" stroke-width="6.6"/><line x1="572.0" y1="350.0" x2="577.5" y2="358.0" stroke="#e6e02c" stroke-width="6.6"/><line x1="577.5" y1="358.0" x2="583.0" y2="366.0" stroke="#2b33a6" stroke-width="6.6"/><line x1="583.0" y1="366.0" x2="590.0" y2="373.0" stroke="#2b33a6" stroke-width="6.6"/><line x1="590.0" y1="373.0" x2="597.0" y2="380.0" stroke="#e6e02c" stroke-width="6.6"/><line x1="597.0" y1="380.0" x2="612.0" y2="383.0" stroke="#e6e02c" stroke-width="6.6"/><line x1="593.0" y1="324.0" x2="600.0" y2="337.0" stroke="#e6e02c" stroke-width="6.6"/><line x1="600.0" y1="337.0" x2="603.5" y2="341.5" stroke="#e6e02c" stroke-width="6.6"/><line x1="603.5" y1="341.5" x2="607.0" y2="346.0" stroke="#2b33a6" stroke-width="6.6"/><line x1="607.0" y1="346.0" x2="615.0" y2="358.0" stroke="#2b33a6" stroke-width="6.6"/><line x1="615.0" y1="358.0" x2="617.5" y2="365.0" stroke="#2b33a6" stroke-width="6.6"/><line x1="617.5" y1="365.0" x2="620.0" y2="372.0" stroke="#e6e02c" stroke-width="6.6"/><line x1="620.0" y1="372.0" x2="612.0" y2="383.0" stroke="#e6e02c" stroke-width="6.6"/><line x1="597.0" y1="306.0" x2="594.0" y2="322.0" stroke="#d8302e" stroke-width="6.6"/><line x1="612.0" y1="383.0" x2="624.8" y2="391.0" stroke="#e6e02c" stroke-width="6.6"/><line x1="612.0" y1="383.0" x2="624.0" y2="379.0" stroke="#e6e02c" stroke-width="6.6"/><line x1="624.0" y1="379.0" x2="653.6" y2="361.3" stroke="#e6e02c" stroke-width="6.6"/><line x1="653.6" y1="361.3" x2="677.3" y2="351.4" stroke="#e6e02c" stroke-width="6.6"/><line x1="677.3" y1="351.4" x2="703.0" y2="367.2" stroke="#e6e02c" stroke-width="6.6"/><line x1="703.0" y1="367.2" x2="709.0" y2="363.2" stroke="#e6e02c" stroke-width="6.6"/><line x1="709.0" y1="363.2" x2="714.9" y2="359.3" stroke="#d8302e" stroke-width="6.6"/><line x1="714.9" y1="359.3" x2="722.8" y2="366.2" stroke="#d8302e" stroke-width="6.6"/><line x1="722.8" y1="366.2" x2="730.7" y2="373.2" stroke="#ea8a1e" stroke-width="6.6"/><line x1="730.7" y1="373.2" x2="738.6" y2="367.2" stroke="#ea8a1e" stroke-width="6.6"/><line x1="738.6" y1="367.2" x2="746.5" y2="361.3" stroke="#d8302e" stroke-width="6.6"/><line x1="653.6" y1="361.3" x2="649.7" y2="351.4" stroke="#e6e02c" stroke-width="6.6"/><line x1="649.7" y1="351.4" x2="645.7" y2="341.5" stroke="#d8302e" stroke-width="6.6"/><line x1="730.7" y1="373.2" x2="738.6" y2="382.1" stroke="#ea8a1e" stroke-width="6.6"/><line x1="738.6" y1="382.1" x2="746.5" y2="391.0" stroke="#d8302e" stroke-width="6.6"/><line x1="730.7" y1="373.2" x2="722.9" y2="380.6" stroke="#ea8a1e" stroke-width="6.6"/><line x1="722.9" y1="380.6" x2="715.0" y2="388.0" stroke="#d8302e" stroke-width="6.6"/><g opacity="0.55"><line x1="526.9" y1="320.9" x2="545.9" y2="330.9" stroke="#fbf8a0" stroke-width="2.0"/><line x1="545.9" y1="330.9" x2="553.9" y2="323.9" stroke="#fbf8a0" stroke-width="2.0"/><line x1="553.9" y1="323.9" x2="563.9" y2="325.9" stroke="#fbf8a0" stroke-width="2.0"/><line x1="563.9" y1="325.9" x2="571.9" y2="336.9" stroke="#fbf8a0" stroke-width="2.0"/><line x1="571.9" y1="336.9" x2="570.9" y2="348.9" stroke="#fbf8a0" stroke-width="2.0"/><line x1="570.9" y1="348.9" x2="558.9" y2="357.9" stroke="#fbf8a0" stroke-width="2.0"/><line x1="558.9" y1="357.9" x2="549.9" y2="343.9" stroke="#fbf8a0" stroke-width="2.0"/><line x1="549.9" y1="343.9" x2="545.9" y2="330.9" stroke="#fbf8a0" stroke-width="2.0"/><line x1="558.9" y1="357.9" x2="544.9" y2="364.9" stroke="#fbf8a0" stroke-width="2.0"/><line x1="563.9" y1="325.9" x2="573.9" y2="326.9" stroke="#fbf8a0" stroke-width="2.0"/><line x1="573.9" y1="326.9" x2="591.9" y2="322.9" stroke="#fbf8a0" stroke-width="2.0"/><line x1="571.9" y1="327.9" x2="582.9" y2="342.9" stroke="#fbf8a0" stroke-width="2.0"/><line x1="582.9" y1="342.9" x2="586.4" y2="349.4" stroke="#fbf8a0" stroke-width="2.0"/><line x1="586.4" y1="349.4" x2="589.9" y2="355.9" stroke="#6a70d8" stroke-width="2.0"/><line x1="589.9" y1="355.9" x2="594.4" y2="361.9" stroke="#6a70d8" stroke-width="2.0"/><line x1="594.4" y1="361.9" x2="598.9" y2="367.9" stroke="#fbf8a0" stroke-width="2.0"/><line x1="598.9" y1="367.9" x2="610.9" y2="381.9" stroke="#fbf8a0" stroke-width="2.0"/><line x1="570.9" y1="348.9" x2="576.4" y2="356.9" stroke="#fbf8a0" stroke-width="2.0"/><line x1="576.4" y1="356.9" x2="581.9" y2="364.9" stroke="#6a70d8" stroke-width="2.0"/><line x1="581.9" y1="364.9" x2="588.9" y2="371.9" stroke="#6a70d8" stroke-width="2.0"/><line x1="588.9" y1="371.9" x2="595.9" y2="378.9" stroke="#fbf8a0" stroke-width="2.0"/><line x1="595.9" y1="378.9" x2="610.9" y2="381.9" stroke="#fbf8a0" stroke-width="2.0"/><line x1="591.9" y1="322.9" x2="598.9" y2="335.9" stroke="#fbf8a0" stroke-width="2.0"/><line x1="598.9" y1="335.9" x2="602.4" y2="340.4" stroke="#fbf8a0" stroke-width="2.0"/><line x1="602.4" y1="340.4" x2="605.9" y2="344.9" stroke="#6a70d8" stroke-width="2.0"/><line x1="605.9" y1="344.9" x2="613.9" y2="356.9" stroke="#6a70d8" stroke-width="2.0"/><line x1="613.9" y1="356.9" x2="616.4" y2="363.9" stroke="#6a70d8" stroke-width="2.0"/><line x1="616.4" y1="363.9" x2="618.9" y2="370.9" stroke="#fbf8a0" stroke-width="2.0"/><line x1="618.9" y1="370.9" x2="610.9" y2="381.9" stroke="#fbf8a0" stroke-width="2.0"/><line x1="595.9" y1="304.9" x2="592.9" y2="320.9" stroke="#f08a88" stroke-width="2.0"/><line x1="610.9" y1="381.9" x2="623.7" y2="389.9" stroke="#fbf8a0" stroke-width="2.0"/><line x1="610.9" y1="381.9" x2="622.9" y2="377.9" stroke="#fbf8a0" stroke-width="2.0"/><line x1="622.9" y1="377.9" x2="652.5" y2="360.2" stroke="#fbf8a0" stroke-width="2.0"/><line x1="652.5" y1="360.2" x2="676.2" y2="350.3" stroke="#fbf8a0" stroke-width="2.0"/><line x1="676.2" y1="350.3" x2="701.9" y2="366.1" stroke="#fbf8a0" stroke-width="2.0"/><line x1="701.9" y1="366.1" x2="707.9" y2="362.2" stroke="#fbf8a0" stroke-width="2.0"/><line x1="707.9" y1="362.2" x2="713.8" y2="358.2" stroke="#f08a88" stroke-width="2.0"/><line x1="713.8" y1="358.2" x2="721.7" y2="365.2" stroke="#f08a88" stroke-width="2.0"/><line x1="721.7" y1="365.2" x2="729.6" y2="372.1" stroke="#f8c070" stroke-width="2.0"/><line x1="729.6" y1="372.1" x2="737.5" y2="366.2" stroke="#f8c070" stroke-width="2.0"/><line x1="737.5" y1="366.2" x2="745.4" y2="360.2" stroke="#f08a88" stroke-width="2.0"/><line x1="652.5" y1="360.2" x2="648.6" y2="350.3" stroke="#fbf8a0" stroke-width="2.0"/><line x1="648.6" y1="350.3" x2="644.6" y2="340.4" stroke="#f08a88" stroke-width="2.0"/><line x1="729.6" y1="372.1" x2="737.5" y2="381.0" stroke="#f8c070" stroke-width="2.0"/><line x1="737.5" y1="381.0" x2="745.4" y2="389.9" stroke="#f08a88" stroke-width="2.0"/><line x1="729.6" y1="372.1" x2="721.8" y2="379.5" stroke="#f8c070" stroke-width="2.0"/><line x1="721.8" y1="379.5" x2="713.9" y2="386.9" stroke="#f08a88" stroke-width="2.0"/></g></g><line x1="618" y1="378" x2="628" y2="392" stroke="#d8302e" stroke-width="3" stroke-linecap="round"/><g fill="none" stroke-linejoin="round" stroke-linecap="round"><polyline points="652.8,480.0 648.0,466.0 647.4,450.0 652.8,441.0 652.8,412.4 677.6,410.7 678.5,418.0" stroke="#1d5e1d" stroke-width="7.6"/><polyline points="656.3,414.0 656.3,474.0" stroke="#1d5e1d" stroke-width="7.6"/><polyline points="662.5,424.0 662.5,478.0" stroke="#1d5e1d" stroke-width="7.6"/><polyline points="660.0,470.0 668.0,480.0" stroke="#1d5e1d" stroke-width="7.6"/><polyline points="661.6,419.5 686.5,419.5 690.0,425.0" stroke="#1d5e1d" stroke-width="7.6"/><polyline points="668.8,428.4 693.6,430.2 694.5,451.5 688.3,460.4 677.6,471.1 669.6,471.0 668.8,428.4" stroke="#1d5e1d" stroke-width="7.6"/><polyline points="674.0,432.0 676.0,466.0" stroke="#1d5e1d" stroke-width="7.6"/><polyline points="682.0,436.0 684.0,455.0" stroke="#1d5e1d" stroke-width="7.6"/><polyline points="672.0,468.0 678.0,476.0" stroke="#1d5e1d" stroke-width="7.6"/><polyline points="652.8,480.0 648.0,466.0 647.4,450.0 652.8,441.0 652.8,412.4 677.6,410.7 678.5,418.0" stroke="#3cb43c" stroke-width="6"/><polyline points="656.3,414.0 656.3,474.0" stroke="#3cb43c" stroke-width="6"/><polyline points="662.5,424.0 662.5,478.0" stroke="#3cb43c" stroke-width="6"/><polyline points="660.0,470.0 668.0,480.0" stroke="#3cb43c" stroke-width="6"/><polyline points="661.6,419.5 686.5,419.5 690.0,425.0" stroke="#3cb43c" stroke-width="6"/><polyline points="668.8,428.4 693.6,430.2 694.5,451.5 688.3,460.4 677.6,471.1 669.6,471.0 668.8,428.4" stroke="#3cb43c" stroke-width="6"/><polyline points="674.0,432.0 676.0,466.0" stroke="#3cb43c" stroke-width="6"/><polyline points="682.0,436.0 684.0,455.0" stroke="#3cb43c" stroke-width="6"/><polyline points="672.0,468.0 678.0,476.0" stroke="#3cb43c" stroke-width="6"/><polyline points="652.0,479.2 647.2,465.2 646.6,449.2 652.0,440.2 652.0,411.6 676.8,409.9 677.7,417.2" stroke="#8ee08e" stroke-width="1.4" opacity="0.5"/><polyline points="655.5,413.2 655.5,473.2" stroke="#8ee08e" stroke-width="1.4" opacity="0.5"/><polyline points="661.7,423.2 661.7,477.2" stroke="#8ee08e" stroke-width="1.4" opacity="0.5"/><polyline points="659.2,469.2 667.2,479.2" stroke="#8ee08e" stroke-width="1.4" opacity="0.5"/><polyline points="660.8,418.7 685.7,418.7 689.2,424.2" stroke="#8ee08e" stroke-width="1.4" opacity="0.5"/><polyline points="668.0,427.6 692.8,429.4 693.7,450.7 687.5,459.6 676.8,470.3 668.8,470.2 668.0,427.6" stroke="#8ee08e" stroke-width="1.4" opacity="0.5"/><polyline points="673.2,431.2 675.2,465.2" stroke="#8ee08e" stroke-width="1.4" opacity="0.5"/><polyline points="681.2,435.2 683.2,454.2" stroke="#8ee08e" stroke-width="1.4" opacity="0.5"/><polyline points="671.2,467.2 677.2,475.2" stroke="#8ee08e" stroke-width="1.4" opacity="0.5"/></g><g stroke-linecap="round"><line x1="521.9" y1="318.0" x2="525.2" y2="318.6" stroke="#7a7a1a" stroke-width="3.0"/><line x1="529.2" y1="319.3" x2="532.5" y2="319.9" stroke="#7a7a1a" stroke-width="3.0"/><line x1="536.5" y1="320.6" x2="539.8" y2="321.2" stroke="#7a7a1a" stroke-width="3.0"/><line x1="543.9" y1="321.9" x2="547.2" y2="322.5" stroke="#7a7a1a" stroke-width="3.0"/><line x1="551.2" y1="323.2" x2="554.5" y2="323.8" stroke="#7a7a1a" stroke-width="3.0"/><line x1="558.5" y1="324.5" x2="561.8" y2="325.1" stroke="#7a7a1a" stroke-width="3.0"/><line x1="565.8" y1="325.9" x2="569.1" y2="326.5" stroke="#7a7a1a" stroke-width="3.0"/><line x1="573.2" y1="327.2" x2="576.5" y2="327.8" stroke="#7a7a1a" stroke-width="3.0"/><line x1="521.9" y1="318.0" x2="525.2" y2="318.6" stroke="#dcd83c" stroke-width="2.0"/><line x1="529.2" y1="319.3" x2="532.5" y2="319.9" stroke="#dcd83c" stroke-width="2.0"/><line x1="536.5" y1="320.6" x2="539.8" y2="321.2" stroke="#dcd83c" stroke-width="2.0"/><line x1="543.9" y1="321.9" x2="547.2" y2="322.5" stroke="#dcd83c" stroke-width="2.0"/><line x1="551.2" y1="323.2" x2="554.5" y2="323.8" stroke="#dcd83c" stroke-width="2.0"/><line x1="558.5" y1="324.5" x2="561.8" y2="325.1" stroke="#dcd83c" stroke-width="2.0"/><line x1="565.8" y1="325.9" x2="569.1" y2="326.5" stroke="#dcd83c" stroke-width="2.0"/><line x1="573.2" y1="327.2" x2="576.5" y2="327.8" stroke="#dcd83c" stroke-width="2.0"/></g><circle cx="490.4" cy="312.3" r="3.3" fill="#e0dc50" stroke="#3a3a10" stroke-width="1"/><circle cx="578.3" cy="328.1" r="3.5" fill="#e0dc50" stroke="#3a3a10" stroke-width="1"/><g font-size="12.6" fill="#111"><text x="547.2" y="287.6">5.1 Å</text><text x="604.2" y="297.6">FAD</text><text x="481.4" y="468.2">NADH</text><text x="705.8" y="473.4">L143P</text></g></g><g fill="#111"><text x="-0.4" y="239.7" font-size="18.5" font-weight="bold">D</text><text x="380.6" y="239.7" font-size="18.5" font-weight="bold">E</text><text x="197.1" y="239.4" font-size="15.6" text-anchor="middle">CHMO DTN</text><text x="577.4" y="239.2" font-size="15.6" text-anchor="middle">CHMO DTNP</text></g>
</svg>
</body></html>
